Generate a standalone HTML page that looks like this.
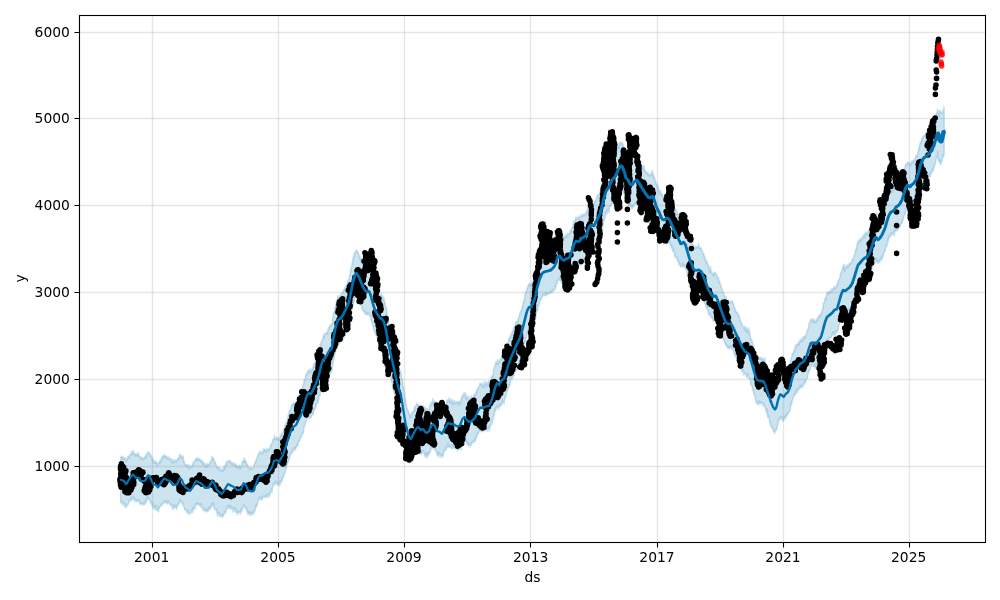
<!DOCTYPE html>
<html lang="en"><head><meta charset="utf-8"><title>Forecast plot</title>
<style>html,body{margin:0;padding:0;background:#fff;overflow:hidden}svg{display:block}</style>
</head><body>
<svg width="1000" height="600" viewBox="0 0 1000 600">
<rect width="1000" height="600" fill="#fff"/>
<path d="M120.7,456.9 121.0,457.3 121.2,456.7 121.5,456.1 121.7,456.7 122.0,456.2 122.2,457.5 122.5,459.2 122.7,457.1 123.0,457.0 123.2,458.5 123.5,458.4 123.7,458.2 124.0,457.1 124.2,458.5 124.5,459.8 124.7,457.8 125.0,459.3 125.2,458.0 125.5,459.1 125.7,458.9 126.0,461.1 126.2,459.7 126.5,461.2 126.7,460.7 127.0,459.9 127.2,456.7 127.5,458.6 127.7,458.8 128.0,458.6 128.2,456.2 128.4,457.1 128.7,456.1 128.9,455.9 129.2,457.8 129.4,455.1 129.7,455.6 129.9,456.4 130.2,454.3 130.4,454.5 130.7,454.5 130.9,454.1 131.2,452.3 131.4,453.6 131.7,454.8 131.9,451.0 132.2,453.6 132.4,452.4 132.7,451.2 132.9,454.2 133.2,452.8 133.4,450.7 133.7,452.5 133.9,453.4 134.2,452.8 134.4,454.2 134.7,453.6 134.9,454.7 135.2,456.0 135.4,453.7 135.7,455.1 135.9,454.5 136.2,455.3 136.4,453.7 136.7,454.4 136.9,454.8 137.2,456.1 137.4,456.4 137.7,453.4 137.9,454.0 138.2,455.7 138.4,452.5 138.7,454.3 138.9,454.8 139.2,456.7 139.4,456.4 139.7,455.6 139.9,456.0 140.2,456.5 140.4,459.1 140.7,457.2 140.9,457.7 141.2,458.6 141.4,458.1 141.7,458.0 141.9,456.9 142.2,458.2 142.4,457.7 142.7,459.6 142.9,459.0 143.2,458.2 143.4,459.0 143.7,457.8 143.9,459.5 144.2,458.2 144.4,458.9 144.7,456.7 144.9,458.5 145.2,455.7 145.4,454.9 145.7,456.4 145.9,455.2 146.2,456.0 146.4,458.0 146.7,453.8 146.9,453.6 147.2,454.0 147.4,453.9 147.7,452.6 147.9,452.2 148.2,453.3 148.4,453.3 148.7,451.7 148.9,453.1 149.2,453.4 149.4,452.4 149.7,454.2 149.9,453.2 150.2,455.8 150.4,455.5 150.7,455.9 150.9,455.7 151.2,456.9 151.4,455.2 151.7,456.8 151.9,459.2 152.2,456.8 152.4,460.9 152.7,458.4 152.9,461.9 153.2,460.2 153.4,462.3 153.7,461.6 153.9,459.7 154.2,463.1 154.4,463.4 154.7,461.7 154.9,461.5 155.2,461.7 155.4,460.8 155.7,463.4 155.9,461.6 156.2,462.4 156.4,461.8 156.7,462.4 156.9,461.9 157.2,465.3 157.4,463.9 157.7,465.6 157.9,464.6 158.2,463.6 158.4,463.7 158.7,463.1 158.9,463.4 159.2,462.5 159.4,462.2 159.7,460.5 159.9,460.8 160.2,463.4 160.4,460.2 160.7,459.4 160.9,460.7 161.2,461.6 161.4,457.8 161.7,458.9 161.9,458.0 162.2,456.2 162.4,458.9 162.7,457.6 162.9,457.3 163.2,455.9 163.4,457.0 163.7,455.4 163.9,455.6 164.2,454.4 164.4,454.4 164.7,457.6 164.9,455.5 165.2,456.6 165.4,456.3 165.7,456.0 165.9,456.0 166.2,457.5 166.4,456.5 166.7,456.9 166.9,457.2 167.2,458.7 167.4,458.2 167.7,457.9 167.9,456.8 168.2,455.9 168.4,458.8 168.7,458.9 168.9,457.7 169.2,458.6 169.4,459.0 169.7,459.1 169.9,459.3 170.2,457.9 170.4,460.6 170.7,457.6 170.9,460.5 171.2,460.4 171.4,461.2 171.7,462.7 171.9,462.6 172.2,459.8 172.4,459.4 172.7,462.8 172.9,460.8 173.2,462.1 173.4,463.1 173.7,460.1 173.9,459.5 174.2,462.3 174.4,462.0 174.7,461.7 174.9,462.0 175.2,460.8 175.4,460.0 175.7,461.6 175.9,460.6 176.2,459.7 176.4,462.3 176.7,461.6 176.9,462.0 177.2,460.0 177.4,459.9 177.7,458.9 177.9,458.5 178.2,459.3 178.4,457.6 178.7,458.4 178.9,457.8 179.2,459.3 179.4,454.7 179.7,456.9 179.9,455.4 180.2,455.4 180.4,453.9 180.7,455.3 180.9,457.0 181.2,456.3 181.4,456.7 181.7,456.6 181.9,458.6 182.2,457.7 182.4,455.6 182.7,458.0 182.9,457.1 183.2,456.1 183.4,459.9 183.7,462.8 183.9,461.8 184.2,460.9 184.4,461.8 184.7,464.9 184.9,464.2 185.2,464.4 185.4,464.4 185.7,464.7 185.9,465.8 186.2,465.7 186.4,465.4 186.7,464.1 186.9,466.1 187.2,464.8 187.4,467.1 187.7,464.5 187.9,466.0 188.2,466.4 188.4,465.1 188.7,469.0 188.9,468.9 189.2,466.8 189.4,468.6 189.7,468.4 189.9,464.9 190.2,468.2 190.4,467.5 190.7,467.4 190.9,465.6 191.2,466.3 191.4,466.1 191.7,467.4 191.9,466.0 192.2,465.3 192.4,466.8 192.7,463.9 192.9,463.8 193.2,461.6 193.4,465.2 193.7,464.0 193.9,463.4 194.2,462.6 194.4,461.4 194.7,461.1 194.9,460.0 195.2,459.6 195.4,459.4 195.7,460.6 195.9,459.1 196.2,458.3 196.4,457.7 196.7,457.8 196.9,460.6 197.2,459.4 197.4,459.0 197.7,458.6 197.9,457.8 198.2,459.1 198.4,460.4 198.7,459.0 198.9,459.3 199.2,459.4 199.4,460.0 199.7,458.1 199.9,459.8 200.2,459.2 200.4,461.4 200.7,459.6 200.9,461.3 201.2,462.6 201.4,460.5 201.7,460.3 201.9,461.4 202.2,461.5 202.4,460.6 202.7,462.7 202.9,464.9 203.2,462.5 203.4,462.9 203.7,462.2 203.9,464.2 204.2,462.6 204.4,463.1 204.7,466.3 204.9,464.0 205.2,466.5 205.4,467.0 205.7,465.4 205.9,465.8 206.2,467.4 206.4,464.8 206.7,464.3 206.9,463.4 207.2,465.0 207.4,466.7 207.7,466.1 207.9,463.8 208.2,463.9 208.4,464.2 208.7,465.2 208.9,464.5 209.2,464.6 209.4,464.2 209.7,462.9 209.9,462.7 210.2,462.4 210.4,461.5 210.7,461.7 210.9,462.8 211.2,460.7 211.4,459.5 211.7,456.8 211.9,458.9 212.2,456.1 212.4,457.0 212.7,459.9 212.9,460.0 213.2,459.2 213.4,457.6 213.7,459.5 213.9,459.4 214.2,461.4 214.4,464.0 214.7,462.1 214.9,461.5 215.2,461.6 215.4,463.5 215.7,464.0 215.9,463.4 216.2,465.5 216.4,464.5 216.7,467.8 216.9,468.3 217.2,468.6 217.4,467.0 217.7,468.4 217.9,467.8 218.2,467.7 218.4,468.0 218.7,467.0 218.9,467.0 219.2,469.9 219.4,468.9 219.7,469.6 219.9,470.8 220.2,467.7 220.4,469.0 220.7,470.4 220.9,470.8 221.2,470.1 221.4,472.0 221.7,471.2 221.9,469.6 222.2,469.7 222.4,471.4 222.7,470.6 222.9,467.3 223.2,470.8 223.4,469.5 223.7,470.0 223.9,467.5 224.2,467.2 224.4,465.8 224.7,469.7 224.9,466.1 225.2,467.8 225.4,464.7 225.7,465.2 225.9,462.6 226.2,463.7 226.4,465.0 226.7,461.9 226.9,464.2 227.2,462.9 227.4,460.9 227.7,461.1 227.9,460.8 228.2,461.3 228.4,460.8 228.7,460.6 228.9,461.3 229.2,460.6 229.4,460.4 229.7,462.0 229.9,463.3 230.2,460.5 230.4,462.5 230.7,461.9 230.9,461.6 231.2,463.9 231.4,462.4 231.7,464.9 231.9,462.3 232.2,463.8 232.4,463.2 232.7,462.7 232.9,464.4 233.2,463.6 233.4,464.7 233.7,464.0 233.9,462.9 234.2,464.3 234.4,464.7 234.7,466.1 234.9,464.1 235.2,465.4 235.4,463.6 235.7,466.7 235.9,464.9 236.2,464.2 236.4,466.6 236.7,468.2 236.9,465.3 237.2,465.9 237.4,466.3 237.7,465.8 237.9,467.6 238.2,466.1 238.4,466.2 238.7,467.7 238.9,466.1 239.2,467.5 239.4,465.8 239.7,465.5 239.9,464.7 240.2,469.1 240.4,466.5 240.7,467.1 240.9,466.6 241.2,466.5 241.4,465.7 241.7,467.3 241.9,463.1 242.2,461.9 242.4,461.9 242.7,460.9 242.9,462.7 243.2,462.2 243.4,459.5 243.7,458.7 243.9,460.1 244.2,462.4 244.4,457.5 244.7,461.7 244.9,460.0 245.2,462.8 245.4,460.4 245.7,461.6 245.9,460.4 246.2,461.6 246.4,465.1 246.7,465.1 246.9,464.3 247.2,464.4 247.4,463.8 247.7,466.3 247.9,467.3 248.2,467.5 248.4,467.6 248.7,466.4 248.9,467.7 249.2,467.8 249.4,469.5 249.7,470.2 249.9,467.9 250.2,467.2 250.4,468.1 250.7,467.5 250.9,467.4 251.2,468.3 251.4,467.2 251.7,469.2 251.9,468.4 252.2,468.9 252.4,468.4 252.7,467.9 252.9,467.5 253.2,468.0 253.4,467.0 253.7,467.3 253.9,466.4 254.2,464.1 254.4,465.2 254.7,462.9 254.9,463.1 255.2,462.9 255.4,460.1 255.7,462.1 255.9,461.5 256.2,460.5 256.4,459.5 256.7,458.9 256.9,457.5 257.2,457.7 257.4,456.7 257.7,456.8 257.9,454.6 258.2,455.6 258.4,454.8 258.7,453.8 258.9,452.9 259.2,453.9 259.4,451.1 259.7,453.7 259.9,453.4 260.2,453.4 260.4,453.5 260.7,452.2 260.9,452.6 261.2,453.7 261.4,453.4 261.7,453.1 261.9,451.0 262.2,453.3 262.4,453.8 262.7,453.4 262.9,452.3 263.2,449.9 263.4,452.7 263.7,451.1 263.9,448.1 264.2,451.3 264.4,448.9 264.7,448.9 264.9,449.5 265.2,451.7 265.4,449.7 265.7,450.4 265.9,452.2 266.2,451.9 266.4,449.9 266.7,449.7 266.9,448.4 267.2,449.0 267.4,450.3 267.7,450.3 267.9,449.9 268.2,450.9 268.4,448.8 268.7,449.6 268.9,450.4 269.2,449.9 269.4,450.1 269.7,448.8 269.9,447.5 270.2,447.9 270.4,445.8 270.7,444.6 270.9,446.8 271.2,445.6 271.4,445.6 271.7,442.7 271.9,443.8 272.2,442.9 272.4,441.8 272.7,439.4 272.9,440.9 273.2,441.7 273.4,440.3 273.7,438.4 273.9,438.5 274.2,439.1 274.4,434.7 274.7,437.8 274.9,438.5 275.2,438.6 275.4,439.8 275.7,439.0 275.9,437.9 276.2,437.8 276.4,438.3 276.7,436.7 276.9,437.2 277.2,438.5 277.4,440.0 277.7,437.7 277.9,438.1 278.2,438.6 278.4,440.3 278.7,438.9 278.9,440.8 279.2,437.7 279.4,438.2 279.7,437.7 279.9,438.5 280.2,438.4 280.4,434.9 280.7,435.1 280.9,436.2 281.2,434.6 281.4,433.1 281.7,435.7 281.9,434.6 282.2,434.2 282.4,432.6 282.7,434.0 282.9,431.9 283.2,432.9 283.4,429.8 283.7,429.1 283.9,429.6 284.2,427.8 284.4,428.7 284.7,427.4 284.9,425.2 285.2,425.7 285.4,424.4 285.7,425.2 285.9,422.6 286.2,422.0 286.4,423.2 286.7,423.6 286.9,422.4 287.2,419.3 287.4,418.6 287.7,419.4 287.9,416.6 288.2,414.7 288.4,415.2 288.7,414.7 288.9,412.4 289.2,410.7 289.4,410.3 289.7,412.1 289.9,409.8 290.2,409.8 290.4,409.6 290.7,409.4 290.9,407.6 291.2,407.9 291.4,405.6 291.7,405.6 291.9,404.2 292.2,406.4 292.4,404.8 292.7,403.8 292.9,404.1 293.2,404.0 293.4,405.0 293.7,402.0 293.9,402.5 294.2,403.1 294.4,406.4 294.7,404.3 294.9,402.9 295.2,403.7 295.4,405.1 295.7,402.1 295.9,401.7 296.2,403.2 296.4,401.9 296.7,401.6 296.9,399.7 297.2,402.1 297.4,401.4 297.7,399.5 297.9,399.1 298.2,395.4 298.4,398.1 298.7,396.6 298.9,396.8 299.2,396.6 299.4,394.9 299.7,392.8 299.9,394.7 300.2,392.9 300.4,392.9 300.7,392.1 300.9,391.9 301.2,388.9 301.4,392.5 301.7,390.8 301.9,391.2 302.2,391.6 302.4,388.6 302.7,385.8 302.9,386.2 303.2,384.9 303.4,384.8 303.7,384.5 303.9,381.0 304.2,382.8 304.4,379.6 304.7,380.8 304.9,379.3 305.2,378.1 305.4,377.5 305.7,376.1 305.9,375.1 306.2,373.0 306.4,374.1 306.7,375.5 306.9,374.9 307.2,373.6 307.4,372.6 307.7,370.7 307.9,373.0 308.2,370.9 308.4,370.7 308.7,370.2 308.9,370.4 309.2,369.8 309.4,370.3 309.7,369.2 309.9,370.2 310.2,373.5 310.4,370.8 310.7,370.8 310.9,371.7 311.2,371.6 311.4,369.0 311.7,369.6 311.9,370.4 312.2,369.1 312.4,368.4 312.7,369.7 312.9,366.5 313.2,366.9 313.4,365.7 313.7,367.6 313.9,362.9 314.2,363.9 314.4,363.5 314.7,364.4 314.9,363.7 315.2,364.1 315.4,359.9 315.7,362.1 315.9,360.3 316.2,359.3 316.4,360.1 316.7,357.8 316.9,355.8 317.2,357.1 317.4,355.1 317.7,355.3 317.9,355.8 318.2,355.0 318.4,355.8 318.7,352.9 318.9,350.4 319.2,350.4 319.4,349.1 319.7,347.6 319.9,348.4 320.2,346.0 320.4,343.3 320.7,345.4 320.9,343.4 321.2,343.0 321.4,342.0 321.7,341.9 321.9,340.4 322.2,341.1 322.4,339.4 322.7,338.6 322.9,337.9 323.2,335.3 323.4,336.6 323.7,336.2 323.9,336.5 324.2,334.4 324.4,337.7 324.7,335.6 324.9,333.8 325.2,332.9 325.4,334.4 325.7,334.4 325.9,333.3 326.2,333.9 326.4,332.5 326.7,333.5 326.9,331.4 327.2,331.8 327.4,332.5 327.7,333.9 327.9,329.1 328.2,329.2 328.4,328.3 328.7,329.7 328.9,327.0 329.2,327.4 329.4,327.7 329.7,326.3 329.9,326.1 330.2,326.4 330.4,324.2 330.7,324.8 330.9,325.8 331.2,326.2 331.4,325.5 331.7,323.4 331.9,324.3 332.2,324.5 332.4,322.3 332.7,319.5 332.9,316.7 333.2,317.1 333.4,314.4 333.7,312.5 333.9,311.8 334.2,313.3 334.4,310.7 334.7,310.7 334.9,307.5 335.2,308.1 335.4,305.0 335.7,304.4 335.9,306.5 336.2,303.5 336.4,301.2 336.7,301.0 336.9,300.7 337.2,301.1 337.4,298.3 337.7,296.0 337.9,297.1 338.2,297.1 338.4,297.0 338.7,298.3 338.9,296.9 339.2,297.4 339.4,294.9 339.7,297.1 339.9,298.4 340.2,296.7 340.4,295.9 340.7,295.6 340.9,297.3 341.2,293.8 341.4,294.4 341.7,294.7 341.9,294.7 342.2,292.9 342.4,293.4 342.7,292.3 342.9,292.4 343.2,291.6 343.4,289.9 343.7,290.8 343.9,291.4 344.2,288.6 344.4,289.0 344.7,289.6 344.9,287.0 345.2,288.0 345.4,286.0 345.7,288.2 345.9,289.1 346.2,288.2 346.4,284.9 346.7,285.5 346.9,284.1 347.2,283.5 347.4,284.7 347.7,280.7 347.9,282.9 348.2,281.0 348.4,282.2 348.7,280.1 348.9,278.4 349.2,278.5 349.4,277.8 349.7,275.7 349.9,275.0 350.2,272.6 350.4,269.4 350.7,271.8 350.9,270.3 351.2,268.4 351.4,267.0 351.7,266.9 351.9,263.9 352.2,262.4 352.4,261.7 352.7,262.1 352.9,257.9 353.2,259.9 353.4,256.9 353.7,255.4 353.9,257.4 354.2,254.9 354.4,252.6 354.7,252.8 354.9,253.6 355.2,253.4 355.4,251.0 355.7,251.7 355.9,251.7 356.2,249.7 356.4,250.9 356.7,250.6 356.9,250.4 357.2,250.8 357.4,251.9 357.7,252.2 357.9,251.9 358.2,252.5 358.4,254.7 358.7,254.0 358.9,255.2 359.2,256.2 359.4,256.0 359.7,258.7 359.9,255.6 360.2,258.2 360.4,257.4 360.7,260.7 360.9,261.1 361.2,257.4 361.4,259.2 361.7,261.7 361.9,262.5 362.2,263.1 362.4,262.7 362.7,264.0 362.9,264.8 363.2,264.4 363.4,266.1 363.7,262.6 363.9,266.4 364.2,264.8 364.4,267.6 364.7,266.5 364.9,266.1 365.2,268.0 365.4,266.8 365.7,267.1 365.9,266.5 366.2,268.5 366.4,269.2 366.7,270.0 366.9,268.7 367.2,270.3 367.4,269.1 367.7,269.0 367.9,269.6 368.2,270.0 368.4,268.2 368.7,268.1 368.9,268.2 369.2,268.8 369.4,268.2 369.7,271.2 369.9,270.1 370.2,271.8 370.4,270.8 370.7,272.9 370.9,273.6 371.2,273.5 371.4,277.4 371.7,276.4 371.9,279.1 372.2,279.2 372.4,278.2 372.7,279.5 372.9,281.5 373.2,281.9 373.4,282.6 373.7,283.0 373.9,281.9 374.2,284.5 374.4,282.9 374.7,286.7 374.9,286.1 375.2,286.7 375.4,287.7 375.7,288.7 375.9,287.1 376.2,287.1 376.4,288.3 376.7,287.6 376.9,289.3 377.2,292.8 377.4,290.0 377.7,292.5 377.9,290.5 378.2,292.9 378.4,292.5 378.7,293.2 378.9,294.3 379.2,296.1 379.4,294.6 379.7,294.9 379.9,293.9 380.2,296.0 380.4,295.1 380.7,296.5 380.9,295.6 381.2,297.9 381.4,293.5 381.7,295.7 381.9,297.3 382.2,296.1 382.4,295.9 382.7,296.9 382.9,296.0 383.2,298.1 383.4,301.3 383.7,300.1 383.9,297.9 384.2,299.0 384.4,300.5 384.7,303.2 384.9,302.0 385.2,303.2 385.4,306.1 385.7,307.0 385.9,306.7 386.2,307.1 386.4,308.0 386.7,310.6 386.9,310.2 387.2,315.3 387.4,315.1 387.7,318.0 387.9,321.1 388.2,321.5 388.4,319.8 388.7,323.3 388.9,324.8 389.2,323.6 389.4,324.4 389.7,326.5 389.9,325.9 390.2,330.6 390.4,327.1 390.7,329.8 390.9,331.9 391.2,333.0 391.4,334.6 391.7,335.8 391.9,336.3 392.2,339.0 392.4,336.2 392.7,339.9 392.9,340.1 393.2,342.3 393.4,343.6 393.7,343.4 393.9,344.9 394.2,347.8 394.4,348.4 394.7,348.3 394.9,352.7 395.2,354.2 395.4,350.9 395.7,354.2 395.9,357.9 396.2,356.9 396.4,357.3 396.7,357.8 396.9,358.4 397.2,359.7 397.4,360.3 397.7,362.9 397.9,362.5 398.2,363.5 398.4,363.6 398.7,365.9 398.9,365.9 399.2,367.5 399.4,369.6 399.7,369.4 399.9,370.2 400.2,370.6 400.4,370.9 400.7,371.3 400.9,371.9 401.2,374.5 401.4,373.8 401.7,378.4 401.9,378.4 402.2,379.1 402.4,381.0 402.7,382.4 402.9,385.0 403.2,385.5 403.4,389.3 403.7,388.5 403.9,388.2 404.2,391.5 404.4,391.5 404.7,395.4 404.9,398.2 405.2,399.2 405.4,398.3 405.7,400.5 405.9,404.9 406.2,404.3 406.4,404.9 406.7,407.0 406.9,409.6 407.2,409.2 407.4,408.7 407.7,409.9 407.9,411.1 408.2,410.5 408.4,410.9 408.7,413.2 408.9,412.7 409.2,414.3 409.4,414.8 409.7,417.7 409.9,414.1 410.2,415.3 410.4,415.5 410.7,416.4 410.9,417.3 411.2,415.2 411.4,414.3 411.7,412.8 411.9,413.2 412.2,414.4 412.4,413.4 412.7,411.6 412.9,411.9 413.2,411.8 413.4,411.9 413.7,410.1 413.9,410.0 414.2,407.6 414.4,407.9 414.7,410.7 414.9,405.7 415.2,407.4 415.4,407.6 415.7,406.4 415.9,405.4 416.2,405.9 416.4,405.7 416.7,405.4 416.9,403.0 417.2,404.8 417.4,403.7 417.7,403.8 417.9,404.6 418.2,405.2 418.4,405.7 418.7,404.3 418.9,406.3 419.2,406.8 419.4,407.0 419.7,407.6 419.9,406.0 420.2,406.2 420.4,407.6 420.7,405.3 420.9,407.3 421.2,406.4 421.4,406.5 421.7,404.8 421.9,405.7 422.2,406.6 422.4,407.5 422.7,407.5 422.9,406.2 423.2,406.3 423.4,405.8 423.7,407.6 423.9,407.2 424.2,408.5 424.4,410.2 424.7,408.4 424.9,407.0 425.2,408.1 425.4,407.7 425.7,408.4 425.9,411.6 426.2,410.4 426.4,408.2 426.7,410.7 426.9,411.3 427.2,409.2 427.4,408.7 427.7,409.0 427.9,409.6 428.2,409.9 428.4,410.5 428.7,410.4 428.9,410.1 429.2,409.8 429.4,408.3 429.7,405.0 429.9,406.0 430.2,405.8 430.4,404.3 430.7,405.1 430.9,403.0 431.2,401.9 431.4,404.5 431.7,403.3 431.9,402.5 432.2,403.1 432.4,403.0 432.7,401.9 432.9,398.4 433.2,400.6 433.4,401.1 433.7,400.7 433.9,402.4 434.2,403.8 434.4,402.1 434.7,401.5 434.9,405.7 435.2,403.2 435.4,402.8 435.7,405.2 435.9,406.1 436.2,405.4 436.4,407.8 436.7,406.9 436.9,406.9 437.2,408.5 437.4,409.3 437.7,407.7 437.9,408.9 438.2,408.5 438.4,412.1 438.7,407.9 438.9,410.5 439.2,408.9 439.4,408.9 439.7,410.0 439.9,410.3 440.2,410.9 440.4,410.0 440.7,409.2 440.9,409.5 441.2,411.0 441.4,411.3 441.7,412.6 441.9,411.5 442.2,412.0 442.4,412.1 442.7,410.0 442.9,407.5 443.2,407.4 443.4,406.6 443.7,409.7 443.9,406.3 444.2,408.3 444.4,407.0 444.7,407.9 444.9,406.5 445.2,404.7 445.4,404.2 445.7,404.1 445.9,403.8 446.2,402.6 446.4,402.7 446.7,404.3 446.9,399.9 447.2,401.8 447.4,400.0 447.7,400.9 447.9,401.4 448.2,400.2 448.4,401.3 448.7,398.5 448.9,401.8 449.2,399.9 449.4,401.4 449.7,401.0 449.9,397.7 450.2,400.0 450.4,401.3 450.7,403.0 450.9,401.5 451.2,401.5 451.4,399.6 451.7,403.0 451.9,403.5 452.2,401.4 452.4,401.1 452.7,399.5 452.9,402.5 453.2,404.7 453.4,402.4 453.7,403.1 453.9,402.3 454.2,400.6 454.4,403.5 454.7,400.6 454.9,402.0 455.2,402.7 455.4,403.6 455.7,403.2 455.9,403.4 456.2,402.2 456.4,401.7 456.7,403.5 456.9,402.7 457.2,402.0 457.4,402.0 457.7,402.8 457.9,401.1 458.2,401.7 458.4,401.3 458.7,403.4 458.9,403.6 459.2,405.4 459.4,401.1 459.7,402.1 459.9,403.8 460.2,402.0 460.4,401.2 460.7,402.9 460.9,399.8 461.2,398.1 461.4,397.2 461.7,398.5 461.9,397.8 462.2,395.1 462.4,395.1 462.7,396.5 462.9,396.3 463.2,394.6 463.4,395.9 463.7,395.6 463.9,392.5 464.2,394.1 464.4,394.9 464.7,393.9 464.9,392.3 465.2,394.8 465.4,396.3 465.7,397.6 465.9,393.4 466.2,399.4 466.4,395.2 466.7,398.0 466.9,398.6 467.2,398.6 467.4,397.8 467.7,396.5 467.9,398.9 468.2,397.5 468.4,395.6 468.7,402.3 468.9,399.9 469.2,401.3 469.4,398.0 469.7,400.7 469.9,400.8 470.2,400.7 470.4,398.7 470.7,397.2 470.9,398.3 471.2,395.8 471.4,396.3 471.7,398.4 471.9,397.0 472.2,397.8 472.4,397.6 472.7,399.8 472.9,398.8 473.2,396.9 473.4,398.2 473.7,395.6 473.9,395.8 474.2,397.1 474.4,394.3 474.7,395.2 474.9,393.6 475.2,394.9 475.4,396.1 475.7,392.7 475.9,393.3 476.2,391.3 476.4,390.4 476.7,389.8 476.9,392.4 477.2,392.9 477.4,390.1 477.7,388.0 477.9,389.2 478.2,387.5 478.4,388.4 478.7,387.4 478.9,386.9 479.2,386.9 479.4,385.0 479.7,384.8 479.9,382.9 480.2,384.3 480.4,383.2 480.7,384.7 480.9,383.8 481.2,385.1 481.4,385.5 481.7,383.3 481.9,384.1 482.2,384.0 482.4,386.0 482.7,387.2 482.9,386.2 483.2,384.7 483.4,386.7 483.7,383.0 483.9,386.5 484.2,383.8 484.4,381.1 484.7,387.5 484.9,386.1 485.2,382.8 485.4,384.1 485.7,383.5 485.9,383.8 486.2,381.8 486.4,382.7 486.7,384.1 486.9,383.7 487.2,384.9 487.4,383.5 487.7,386.2 487.9,382.5 488.2,383.6 488.4,381.0 488.7,381.7 488.9,384.7 489.2,381.6 489.4,382.9 489.7,381.7 489.9,380.0 490.2,380.4 490.4,379.7 490.7,379.2 490.9,380.2 491.2,379.4 491.4,377.2 491.7,376.0 491.9,376.7 492.2,375.5 492.4,376.1 492.7,377.3 492.9,374.3 493.2,372.3 493.4,371.2 493.7,369.4 493.9,368.3 494.2,367.2 494.4,366.9 494.7,365.9 494.9,366.4 495.2,364.2 495.4,363.8 495.7,362.0 495.9,364.8 496.2,362.8 496.4,363.7 496.7,361.9 496.9,362.3 497.2,360.1 497.4,361.5 497.7,364.1 497.9,359.7 498.2,362.8 498.4,363.7 498.7,362.4 498.9,362.9 499.2,363.4 499.4,360.6 499.7,361.5 499.9,359.6 500.2,359.4 500.4,359.0 500.7,359.2 500.9,359.1 501.2,359.1 501.4,356.4 501.7,360.1 501.9,358.8 502.2,358.0 502.4,356.5 502.7,356.7 502.9,357.4 503.2,357.1 503.4,354.4 503.7,357.3 503.9,359.7 504.2,353.3 504.4,356.1 504.7,354.6 504.9,353.2 505.2,354.3 505.4,350.4 505.7,351.3 505.9,352.1 506.2,349.3 506.4,348.1 506.7,347.9 506.9,346.3 507.2,347.9 507.4,344.0 507.7,345.3 507.9,341.9 508.2,343.4 508.4,341.7 508.7,337.9 508.9,340.3 509.2,338.3 509.4,338.3 509.7,340.0 509.9,336.0 510.2,335.4 510.4,337.9 510.7,335.7 510.9,336.9 511.2,334.8 511.4,332.7 511.7,333.2 511.9,334.2 512.2,333.2 512.5,331.5 512.7,331.0 513.0,330.2 513.2,329.0 513.5,331.5 513.7,328.6 514.0,326.6 514.2,326.8 514.5,327.7 514.7,327.0 515.0,325.5 515.2,324.2 515.5,324.5 515.7,321.8 516.0,321.7 516.2,323.8 516.5,321.7 516.7,322.3 517.0,322.8 517.2,321.6 517.5,320.3 517.7,322.4 518.0,320.1 518.2,318.4 518.5,319.2 518.7,318.3 519.0,316.2 519.2,316.8 519.5,315.9 519.7,313.0 520.0,314.6 520.2,313.9 520.5,313.0 520.7,310.9 521.0,311.8 521.2,311.3 521.5,310.5 521.7,308.0 522.0,309.2 522.2,305.9 522.5,306.1 522.7,307.0 523.0,303.5 523.2,302.8 523.5,303.7 523.7,300.9 524.0,300.0 524.2,299.7 524.5,299.7 524.7,294.7 525.0,295.4 525.2,294.2 525.5,293.1 525.7,292.3 526.0,291.4 526.2,291.8 526.5,289.3 526.7,289.6 527.0,289.0 527.2,286.9 527.5,287.5 527.7,288.8 528.0,286.7 528.2,285.0 528.5,285.2 528.7,283.7 529.0,284.7 529.2,285.3 529.5,283.3 529.7,284.2 530.0,285.8 530.2,283.9 530.5,284.9 530.7,283.5 531.0,283.7 531.2,283.7 531.5,286.4 531.7,282.7 532.0,282.0 532.2,281.4 532.5,281.3 532.7,281.7 533.0,280.5 533.2,282.2 533.5,279.3 533.7,280.2 534.0,278.2 534.2,277.9 534.5,274.8 534.7,275.8 535.0,275.1 535.2,273.9 535.5,270.4 535.7,272.8 536.0,270.0 536.2,268.7 536.5,267.6 536.7,266.4 537.0,266.0 537.2,263.0 537.5,262.6 537.7,263.2 538.0,262.2 538.2,260.7 538.5,259.7 538.7,258.5 539.0,258.6 539.2,259.3 539.5,255.8 539.7,258.0 540.0,256.4 540.2,254.3 540.5,255.2 540.7,252.0 541.0,251.1 541.2,251.2 541.5,251.7 541.7,251.3 542.0,250.5 542.2,250.8 542.5,247.7 542.7,250.6 543.0,248.2 543.2,249.0 543.5,249.1 543.7,248.1 544.0,247.7 544.2,248.0 544.5,249.1 544.7,249.7 545.0,249.5 545.2,247.6 545.5,247.8 545.7,247.6 546.0,249.1 546.2,246.1 546.5,250.0 546.7,247.9 547.0,247.5 547.2,248.8 547.5,249.5 547.7,248.7 548.0,249.5 548.2,248.3 548.5,249.5 548.7,249.5 549.0,247.8 549.2,249.5 549.5,247.9 549.7,247.7 550.0,246.4 550.2,247.1 550.5,248.3 550.7,245.7 551.0,248.0 551.2,247.4 551.5,247.1 551.7,243.9 552.0,246.1 552.2,246.8 552.5,244.8 552.7,245.6 553.0,242.4 553.2,245.8 553.5,244.0 553.7,245.5 554.0,242.0 554.2,244.6 554.5,243.0 554.7,243.8 555.0,241.2 555.2,241.1 555.5,244.0 555.7,239.8 556.0,239.4 556.2,239.1 556.5,237.3 556.7,239.0 557.0,238.7 557.2,234.9 557.5,232.8 557.7,235.7 558.0,235.3 558.2,234.8 558.5,235.0 558.7,232.4 559.0,233.1 559.2,231.4 559.5,231.3 559.7,234.2 560.0,232.6 560.2,236.6 560.5,234.3 560.7,233.9 561.0,236.1 561.2,237.7 561.5,236.5 561.7,234.8 562.0,236.9 562.2,238.3 562.5,236.2 562.7,236.0 563.0,238.4 563.2,237.5 563.5,236.1 563.7,237.0 564.0,236.5 564.2,237.6 564.5,237.2 564.7,238.3 565.0,237.7 565.2,234.8 565.5,237.0 565.7,237.5 566.0,236.8 566.2,237.4 566.5,235.4 566.7,234.8 567.0,237.0 567.2,234.5 567.5,233.1 567.7,236.9 568.0,234.7 568.2,235.1 568.5,233.7 568.7,233.7 569.0,233.7 569.2,234.3 569.5,234.6 569.7,230.8 570.0,233.9 570.2,231.0 570.5,230.6 570.7,232.1 571.0,230.6 571.2,228.3 571.5,231.7 571.7,227.8 572.0,228.3 572.2,227.4 572.5,228.1 572.7,225.0 573.0,225.9 573.2,223.0 573.5,224.4 573.7,221.3 574.0,221.0 574.2,223.2 574.5,220.9 574.7,220.3 575.0,222.5 575.2,219.8 575.5,218.0 575.7,219.5 576.0,216.9 576.2,219.6 576.5,219.7 576.7,217.7 577.0,217.6 577.2,218.7 577.5,218.5 577.7,217.4 578.0,219.3 578.2,216.2 578.5,218.2 578.7,218.3 579.0,218.4 579.2,218.9 579.5,216.8 579.7,218.6 580.0,217.4 580.2,216.5 580.5,215.4 580.7,215.3 581.0,216.8 581.2,214.9 581.5,215.9 581.7,216.8 582.0,216.6 582.2,217.1 582.5,214.7 582.7,213.7 583.0,216.0 583.2,215.0 583.5,215.9 583.7,214.4 584.0,215.7 584.2,215.0 584.5,214.7 584.7,214.2 585.0,213.9 585.2,213.5 585.5,213.3 585.7,214.0 586.0,212.0 586.2,214.4 586.5,211.8 586.7,212.5 587.0,210.4 587.2,209.4 587.5,211.4 587.7,207.8 588.0,205.9 588.2,205.8 588.5,205.5 588.7,207.7 589.0,204.7 589.2,205.1 589.5,202.5 589.7,203.9 590.0,204.1 590.2,205.2 590.5,201.9 590.7,203.2 591.0,202.7 591.2,201.1 591.5,202.3 591.7,202.1 592.0,199.7 592.2,203.3 592.5,203.3 592.7,202.2 593.0,201.2 593.2,204.7 593.5,203.3 593.7,204.3 594.0,204.8 594.2,202.1 594.5,203.3 594.7,201.5 595.0,201.2 595.2,200.7 595.5,200.3 595.7,201.1 596.0,199.4 596.2,198.6 596.5,198.0 596.7,198.2 597.0,196.2 597.2,196.2 597.5,196.2 597.7,195.1 598.0,195.2 598.2,194.1 598.5,196.7 598.7,195.4 599.0,193.8 599.2,192.7 599.5,194.9 599.7,192.2 600.0,191.1 600.2,190.7 600.5,189.8 600.7,190.1 601.0,187.4 601.2,188.9 601.5,184.3 601.7,185.2 602.0,182.2 602.2,184.6 602.5,181.0 602.7,180.3 603.0,180.5 603.2,179.9 603.5,176.1 603.7,176.0 604.0,173.8 604.2,174.7 604.5,173.5 604.7,172.3 605.0,171.1 605.2,170.5 605.5,169.2 605.7,169.9 606.0,170.3 606.2,165.6 606.5,167.5 606.7,166.8 607.0,167.5 607.2,165.5 607.5,166.1 607.7,164.7 608.0,166.4 608.2,165.4 608.5,164.7 608.7,165.0 609.0,163.9 609.2,161.9 609.5,163.9 609.7,162.9 610.0,161.8 610.2,162.6 610.5,162.3 610.7,158.9 611.0,158.7 611.2,160.9 611.5,160.2 611.7,157.0 612.0,156.0 612.2,156.3 612.5,156.2 612.7,154.6 613.0,156.3 613.2,154.5 613.5,154.3 613.7,156.6 614.0,154.4 614.2,154.9 614.5,155.5 614.7,155.5 615.0,153.8 615.2,153.8 615.5,152.2 615.7,154.7 616.0,152.8 616.2,150.1 616.5,150.8 616.7,151.1 617.0,150.2 617.2,151.3 617.5,150.1 617.7,147.3 618.0,147.2 618.2,145.3 618.5,146.7 618.7,146.1 619.0,148.7 619.2,145.2 619.5,142.1 619.7,143.3 620.0,143.9 620.2,142.1 620.5,142.5 620.7,143.0 621.0,143.8 621.2,143.2 621.5,142.2 621.7,144.2 622.0,142.7 622.2,143.1 622.5,142.7 622.7,144.0 623.0,146.4 623.2,144.3 623.5,146.7 623.7,148.3 624.0,147.7 624.2,149.2 624.5,148.4 624.7,152.2 625.0,152.8 625.2,152.7 625.5,151.2 625.7,152.9 626.0,156.1 626.2,157.4 626.5,156.0 626.7,157.4 627.0,155.4 627.2,156.2 627.5,156.7 627.7,157.4 628.0,155.4 628.2,158.7 628.5,159.7 628.7,157.2 629.0,157.5 629.2,160.0 629.5,159.3 629.7,157.8 630.0,162.0 630.2,161.5 630.5,160.9 630.7,164.1 631.0,161.8 631.2,160.9 631.5,162.0 631.7,160.8 632.0,161.2 632.2,162.3 632.5,160.9 632.7,160.6 633.0,162.8 633.2,161.4 633.5,161.0 633.7,160.3 634.0,159.9 634.2,160.8 634.5,158.9 634.7,161.0 635.0,157.4 635.2,158.1 635.5,156.6 635.7,157.7 636.0,158.5 636.2,159.5 636.5,156.8 636.7,157.4 637.0,156.9 637.2,156.6 637.5,156.4 637.7,158.3 638.0,156.5 638.2,159.1 638.5,159.4 638.7,159.0 639.0,158.9 639.2,158.9 639.5,163.2 639.7,159.8 640.0,163.7 640.2,162.9 640.5,162.2 640.7,161.6 641.0,164.7 641.2,165.9 641.5,163.2 641.7,164.3 642.0,166.4 642.2,165.9 642.5,168.3 642.7,165.7 643.0,167.4 643.2,165.7 643.5,170.1 643.7,167.2 644.0,165.8 644.2,168.7 644.5,169.1 644.7,172.0 645.0,169.7 645.2,170.4 645.5,171.5 645.7,173.0 646.0,171.4 646.2,173.0 646.5,172.8 646.7,172.1 647.0,172.9 647.2,173.2 647.5,172.4 647.7,175.3 648.0,172.4 648.2,175.7 648.5,175.6 648.7,174.4 649.0,173.8 649.2,174.5 649.5,175.5 649.7,175.9 650.0,175.5 650.2,176.2 650.5,174.2 650.7,174.9 651.0,172.5 651.2,175.1 651.5,174.2 651.7,173.3 652.0,175.0 652.2,174.2 652.5,170.0 652.7,173.8 653.0,172.5 653.2,176.0 653.5,178.2 653.7,175.0 654.0,176.3 654.2,176.6 654.5,178.2 654.7,179.4 655.0,181.1 655.2,179.2 655.5,183.2 655.7,181.0 656.0,183.3 656.2,185.0 656.5,185.0 656.7,183.5 657.0,184.3 657.2,185.0 657.5,186.0 657.7,188.0 658.0,185.5 658.2,188.2 658.5,188.8 658.7,189.3 659.0,189.7 659.2,191.5 659.5,190.8 659.7,191.9 660.0,192.1 660.2,194.2 660.5,190.3 660.7,194.7 661.0,193.4 661.2,194.0 661.5,193.8 661.7,193.3 662.0,195.5 662.2,195.5 662.5,197.0 662.7,194.8 663.0,198.4 663.2,197.1 663.5,196.6 663.7,196.2 664.0,196.2 664.2,195.7 664.5,196.2 664.7,196.7 665.0,196.4 665.2,194.7 665.5,195.9 665.7,195.0 666.0,196.1 666.2,198.0 666.5,196.3 666.7,195.0 667.0,193.3 667.2,193.6 667.5,193.4 667.7,196.4 668.0,194.8 668.2,195.9 668.5,195.2 668.7,196.2 669.0,197.9 669.2,195.8 669.5,196.7 669.7,196.6 670.0,199.1 670.2,197.4 670.5,197.7 670.7,197.9 671.0,198.4 671.2,201.2 671.5,204.2 671.7,200.4 672.0,203.3 672.2,203.0 672.5,201.9 672.7,203.4 673.0,204.1 673.2,204.1 673.5,207.8 673.7,203.7 674.0,207.0 674.2,207.5 674.5,207.0 674.7,208.5 675.0,209.9 675.2,209.6 675.5,210.5 675.7,211.4 676.0,208.6 676.2,213.4 676.5,214.8 676.7,213.8 677.0,214.3 677.2,211.9 677.5,214.0 677.7,213.6 678.0,214.4 678.2,216.8 678.5,215.1 678.7,216.4 679.0,214.8 679.2,217.4 679.5,218.2 679.7,217.8 680.0,218.2 680.2,221.9 680.5,218.6 680.7,219.3 681.0,220.0 681.2,222.5 681.5,223.4 681.7,221.1 682.0,219.6 682.2,219.8 682.5,221.4 682.7,218.8 683.0,221.4 683.2,221.2 683.5,219.5 683.7,220.2 684.0,220.6 684.2,222.0 684.5,219.2 684.7,222.3 685.0,220.8 685.2,220.7 685.5,222.1 685.7,222.4 686.0,222.2 686.2,222.4 686.5,224.0 686.7,227.8 687.0,229.3 687.2,228.6 687.5,230.1 687.7,228.9 688.0,230.3 688.2,231.6 688.5,230.9 688.7,231.9 689.0,234.0 689.2,234.4 689.5,234.4 689.7,236.9 690.0,236.8 690.2,238.9 690.5,238.3 690.7,238.6 691.0,239.7 691.2,240.0 691.5,240.0 691.7,241.0 692.0,243.1 692.2,243.7 692.5,245.1 692.7,242.2 693.0,244.5 693.2,245.2 693.5,246.5 693.7,246.2 694.0,246.3 694.2,247.9 694.5,247.3 694.7,245.8 695.0,248.9 695.2,248.5 695.5,246.7 695.7,248.5 696.0,246.7 696.2,248.9 696.5,247.3 696.7,246.5 697.0,247.0 697.2,246.5 697.5,247.6 697.7,247.6 698.0,247.4 698.2,246.6 698.5,242.9 698.7,247.4 699.0,245.0 699.2,247.7 699.5,248.9 699.7,248.1 700.0,247.5 700.2,247.9 700.5,248.2 700.7,247.8 701.0,248.0 701.2,247.8 701.5,250.6 701.7,249.5 702.0,251.2 702.2,250.4 702.5,251.4 702.7,251.7 703.0,253.1 703.2,254.2 703.5,254.1 703.7,253.6 704.0,254.1 704.2,257.7 704.5,256.0 704.7,256.6 705.0,259.3 705.2,259.5 705.5,259.5 705.7,259.0 706.0,262.9 706.2,261.2 706.5,262.0 706.7,261.9 707.0,261.2 707.2,262.1 707.5,265.0 707.7,265.7 708.0,265.7 708.2,265.1 708.5,265.2 708.7,267.0 709.0,266.0 709.2,269.3 709.5,270.0 709.7,272.4 710.0,270.5 710.2,269.2 710.5,269.2 710.7,266.6 711.0,270.4 711.2,271.3 711.5,273.0 711.7,273.0 712.0,273.3 712.2,273.3 712.5,274.2 712.7,275.5 713.0,272.7 713.2,273.5 713.5,272.3 713.7,275.8 714.0,275.2 714.2,274.5 714.5,272.0 714.7,273.5 715.0,272.9 715.2,273.1 715.5,272.7 715.7,273.7 716.0,273.1 716.2,275.1 716.5,275.0 716.7,274.9 717.0,275.6 717.2,275.8 717.5,277.9 717.7,277.2 718.0,278.6 718.2,278.5 718.5,277.9 718.7,281.5 719.0,279.9 719.2,282.7 719.5,283.1 719.7,281.3 720.0,282.9 720.2,284.1 720.5,284.4 720.7,284.6 721.0,287.6 721.2,287.1 721.5,288.5 721.7,288.2 722.0,289.8 722.2,289.2 722.5,290.7 722.7,292.1 723.0,292.1 723.2,292.2 723.5,292.1 723.7,294.3 724.0,295.2 724.2,295.1 724.5,295.2 724.7,297.4 725.0,300.4 725.2,297.8 725.5,299.2 725.7,299.7 726.0,296.4 726.2,299.8 726.5,299.1 726.7,301.8 727.0,300.0 727.2,299.6 727.5,300.5 727.7,301.1 728.0,300.4 728.2,301.1 728.5,299.5 728.7,300.8 729.0,302.0 729.2,303.4 729.5,301.9 729.7,301.3 730.0,302.4 730.2,302.1 730.5,302.9 730.7,302.1 731.0,300.8 731.2,301.5 731.5,301.8 731.7,302.4 732.0,302.7 732.2,301.9 732.5,300.7 732.7,302.9 733.0,301.7 733.2,304.8 733.5,305.3 733.7,303.8 734.0,307.2 734.2,308.0 734.5,307.7 734.7,310.2 735.0,311.0 735.2,307.9 735.5,311.2 735.7,311.0 736.0,311.6 736.2,312.7 736.5,311.2 736.7,311.9 737.0,312.1 737.2,312.7 737.5,314.0 737.7,312.9 738.0,313.8 738.2,316.3 738.5,316.0 738.7,317.1 739.0,314.8 739.2,316.7 739.5,317.6 739.7,318.9 740.0,318.7 740.2,321.1 740.5,320.5 740.7,321.2 741.0,321.8 741.2,323.2 741.5,322.4 741.7,324.8 742.0,324.6 742.2,324.7 742.5,325.0 742.7,326.0 743.0,327.0 743.2,327.3 743.5,327.1 743.7,328.1 744.0,327.6 744.2,329.4 744.5,328.1 744.7,325.9 745.0,330.2 745.2,328.9 745.5,327.5 745.7,328.8 746.0,328.2 746.2,331.9 746.5,330.1 746.7,327.8 747.0,330.5 747.2,329.5 747.5,332.5 747.7,329.1 748.0,327.8 748.2,330.8 748.5,330.4 748.7,330.5 749.0,328.7 749.2,332.4 749.5,334.8 749.7,331.4 750.0,335.9 750.2,334.7 750.5,339.1 750.7,337.7 751.0,337.8 751.2,340.2 751.5,340.4 751.7,339.9 752.0,342.4 752.2,341.8 752.5,341.1 752.7,346.6 753.0,344.6 753.2,345.2 753.5,347.2 753.7,345.8 754.0,346.9 754.2,348.8 754.5,349.7 754.7,351.2 755.0,353.3 755.2,352.1 755.5,353.9 755.7,354.7 756.0,353.3 756.2,355.5 756.5,354.7 756.7,357.7 757.0,357.5 757.2,357.3 757.5,355.7 757.7,357.6 758.0,356.6 758.2,358.4 758.5,357.5 758.7,356.8 759.0,359.0 759.2,358.8 759.5,357.3 759.7,359.5 760.0,357.8 760.2,357.8 760.5,358.3 760.7,357.3 761.0,357.7 761.2,358.0 761.5,360.0 761.7,360.0 762.0,357.9 762.2,360.1 762.5,358.1 762.7,358.7 763.0,359.3 763.2,358.9 763.5,361.8 763.7,359.5 764.0,358.2 764.2,361.6 764.5,359.9 764.7,360.4 765.0,357.6 765.2,363.0 765.5,363.5 765.7,364.3 766.0,365.2 766.2,366.8 766.5,365.5 766.7,367.4 767.0,366.2 767.2,367.4 767.5,369.8 767.7,369.8 768.0,368.4 768.2,371.2 768.5,371.3 768.7,371.3 769.0,373.6 769.2,373.3 769.5,372.7 769.7,374.0 770.0,378.2 770.2,375.0 770.5,377.8 770.7,379.0 771.0,379.8 771.2,378.2 771.5,379.9 771.7,381.1 772.0,382.5 772.2,381.4 772.5,381.4 772.7,384.7 773.0,385.3 773.2,384.9 773.5,384.1 773.7,385.6 774.0,385.6 774.2,386.8 774.5,384.6 774.7,386.5 775.0,386.4 775.2,385.1 775.5,386.2 775.7,385.5 776.0,384.5 776.2,385.0 776.5,382.2 776.7,382.8 777.0,382.3 777.2,381.0 777.5,380.9 777.7,377.1 778.0,375.7 778.2,376.9 778.5,376.5 778.7,377.8 779.0,375.3 779.2,372.8 779.5,374.1 779.7,371.4 780.0,370.1 780.2,374.8 780.5,372.2 780.7,372.7 781.0,372.6 781.2,374.2 781.5,372.5 781.7,373.8 782.0,371.3 782.2,371.1 782.5,374.8 782.7,375.1 783.0,374.2 783.2,374.1 783.5,374.2 783.7,373.1 784.0,375.5 784.2,374.1 784.5,373.5 784.7,373.0 785.0,373.4 785.2,372.4 785.5,372.3 785.7,369.7 786.0,371.5 786.2,373.3 786.5,369.9 786.7,370.1 787.0,371.1 787.2,371.0 787.5,370.4 787.7,367.5 788.0,369.8 788.2,367.3 788.5,367.1 788.7,368.1 789.0,366.5 789.2,367.2 789.5,369.4 789.7,365.9 790.0,365.1 790.2,362.3 790.5,361.6 790.7,360.1 791.0,359.8 791.2,358.1 791.5,357.6 791.7,357.1 792.0,355.2 792.2,353.9 792.5,353.2 792.7,354.6 793.0,353.4 793.2,353.8 793.5,353.1 793.7,350.7 794.0,351.2 794.2,348.1 794.5,352.0 794.7,350.2 795.0,348.0 795.2,346.4 795.5,347.8 795.7,344.6 796.0,345.4 796.2,346.9 796.5,345.8 796.7,344.9 797.0,346.4 797.2,343.8 797.5,345.1 797.7,343.9 798.0,343.2 798.2,344.4 798.5,342.3 798.7,345.4 799.0,342.1 799.2,344.8 799.5,340.7 799.7,342.4 800.0,339.9 800.2,339.5 800.5,341.1 800.7,341.5 801.0,339.0 801.2,341.8 801.5,339.3 801.7,340.2 802.0,340.4 802.2,340.4 802.5,337.4 802.7,341.3 803.0,339.9 803.2,338.5 803.5,337.5 803.7,336.5 804.0,336.6 804.2,338.7 804.5,337.3 804.7,336.1 805.0,336.5 805.2,338.6 805.5,335.7 805.7,334.7 806.0,336.4 806.2,334.8 806.5,333.6 806.7,332.2 807.0,330.4 807.2,330.1 807.5,330.0 807.7,329.5 808.0,329.3 808.2,328.7 808.5,327.4 808.7,326.5 809.0,324.2 809.2,322.1 809.5,323.4 809.7,322.3 810.0,322.0 810.2,321.9 810.5,320.1 810.7,319.6 811.0,320.3 811.2,320.3 811.5,319.3 811.7,320.6 812.0,319.7 812.2,318.7 812.5,319.9 812.7,322.1 813.0,318.9 813.2,321.1 813.5,321.3 813.7,321.5 814.0,319.0 814.2,322.6 814.5,320.6 814.7,320.4 815.0,320.7 815.2,321.9 815.5,321.5 815.7,321.2 816.0,322.6 816.2,319.9 816.5,319.1 816.7,321.0 817.0,320.5 817.2,320.6 817.5,317.7 817.7,319.9 818.0,318.9 818.2,320.0 818.5,316.1 818.7,317.5 819.0,316.6 819.2,314.7 819.5,315.4 819.7,317.3 820.0,315.0 820.2,314.4 820.5,316.0 820.7,315.8 821.0,315.3 821.2,312.5 821.5,312.6 821.7,313.0 822.0,310.1 822.2,309.1 822.5,310.1 822.7,310.1 823.0,306.0 823.2,303.3 823.5,303.7 823.7,303.2 824.0,303.2 824.2,303.1 824.5,301.2 824.7,299.6 825.0,299.7 825.2,297.6 825.5,298.0 825.7,296.7 826.0,300.0 826.2,297.2 826.5,294.6 826.7,293.8 827.0,293.9 827.2,292.1 827.5,293.0 827.7,292.8 828.0,294.5 828.2,292.8 828.5,292.1 828.7,291.3 829.0,291.3 829.2,292.4 829.5,292.1 829.7,293.5 830.0,291.2 830.2,293.0 830.5,291.8 830.7,291.3 831.0,288.7 831.2,289.3 831.5,291.5 831.7,292.1 832.0,290.5 832.2,290.9 832.5,289.1 832.7,288.9 833.0,288.2 833.2,289.9 833.5,288.8 833.7,287.8 834.0,287.4 834.2,288.1 834.5,287.6 834.7,286.1 835.0,289.0 835.2,287.2 835.5,286.8 835.7,288.5 836.0,287.8 836.2,286.4 836.5,287.1 836.7,285.0 837.0,285.3 837.2,282.7 837.5,286.1 837.7,281.5 838.0,283.7 838.2,281.0 838.5,280.0 838.7,280.0 839.0,279.7 839.2,279.2 839.5,279.8 839.7,277.2 840.0,276.9 840.2,274.3 840.5,275.0 840.7,273.4 841.0,271.9 841.2,271.6 841.5,271.0 841.7,270.7 842.0,270.3 842.2,268.6 842.5,267.7 842.7,268.8 843.0,265.4 843.2,266.6 843.5,269.3 843.7,264.3 844.0,266.8 844.2,268.6 844.5,265.9 844.7,271.2 845.0,265.0 845.2,269.8 845.5,269.7 845.7,268.8 846.0,267.2 846.2,267.7 846.5,266.0 846.7,267.9 847.0,265.4 847.2,266.2 847.5,267.5 847.7,264.8 848.0,265.5 848.2,265.9 848.5,263.9 848.7,266.7 849.0,265.5 849.2,263.0 849.5,264.6 849.7,263.5 850.0,263.4 850.2,263.9 850.5,262.6 850.7,264.2 851.0,261.8 851.2,263.4 851.5,261.7 851.7,262.4 852.0,260.3 852.2,259.9 852.5,258.6 852.7,260.0 853.0,259.7 853.2,260.3 853.5,258.6 853.7,256.6 854.0,255.3 854.2,255.3 854.5,254.0 854.7,254.9 855.0,253.4 855.2,250.4 855.5,249.7 855.7,251.3 856.0,249.1 856.2,247.6 856.5,248.5 856.7,245.8 857.0,245.1 857.2,244.1 857.5,241.6 857.7,244.2 858.0,241.0 858.2,241.3 858.5,240.9 858.7,242.4 859.0,241.2 859.2,241.0 859.5,238.7 859.7,240.4 860.0,238.5 860.2,240.3 860.5,240.1 860.7,239.3 861.0,241.5 861.2,239.3 861.5,239.1 861.7,238.2 862.0,237.5 862.2,238.6 862.5,238.5 862.7,235.4 863.0,238.0 863.2,237.1 863.5,237.4 863.7,236.6 864.0,234.3 864.2,234.1 864.5,237.5 864.7,235.4 865.0,233.2 865.2,235.2 865.5,234.3 865.7,232.4 866.0,231.8 866.2,232.6 866.5,234.8 866.7,234.4 867.0,234.1 867.2,234.6 867.5,234.9 867.7,231.4 868.0,233.1 868.2,232.0 868.5,230.9 868.7,231.3 869.0,231.2 869.2,230.5 869.5,228.6 869.7,229.2 870.0,231.7 870.2,227.3 870.5,225.8 870.7,227.4 871.0,227.1 871.2,226.2 871.5,223.5 871.7,225.3 872.0,222.4 872.2,221.1 872.5,220.9 872.7,220.6 873.0,220.7 873.2,219.7 873.5,218.1 873.7,218.4 874.0,216.6 874.2,217.1 874.5,214.1 874.7,213.6 875.0,216.2 875.2,213.3 875.5,214.4 875.7,214.4 876.0,213.8 876.2,214.0 876.5,216.5 876.7,212.2 877.0,216.7 877.2,218.8 877.5,216.4 877.7,216.7 878.0,217.9 878.2,219.2 878.5,215.3 878.7,216.6 879.0,216.0 879.2,216.7 879.5,215.9 879.7,216.3 880.0,214.7 880.2,214.9 880.5,213.6 880.7,213.2 881.0,213.4 881.2,213.0 881.5,211.4 881.7,214.3 882.0,211.8 882.2,209.9 882.5,212.4 882.7,209.6 883.0,210.5 883.2,209.3 883.5,209.1 883.7,208.4 884.0,206.9 884.2,207.1 884.5,208.9 884.7,203.2 885.0,205.3 885.2,205.0 885.5,202.4 885.7,201.1 886.0,204.5 886.2,200.6 886.5,202.6 886.7,199.9 887.0,198.5 887.2,198.2 887.5,197.6 887.7,197.5 888.0,195.9 888.2,194.8 888.5,194.1 888.7,194.7 889.0,193.4 889.2,190.7 889.5,190.8 889.7,191.5 890.0,190.0 890.2,189.9 890.5,188.9 890.7,189.3 891.0,189.8 891.2,190.3 891.5,189.0 891.7,191.4 892.0,188.7 892.2,192.6 892.5,189.8 892.7,189.1 893.0,187.9 893.2,185.0 893.5,188.0 893.7,188.2 894.0,189.9 894.2,185.5 894.5,189.1 894.7,186.1 895.0,186.8 895.2,182.5 895.5,185.3 895.7,184.3 896.0,185.2 896.2,184.2 896.5,182.5 896.7,184.9 897.0,184.4 897.2,184.1 897.5,184.4 897.7,184.4 898.0,182.9 898.2,181.1 898.5,180.9 898.7,184.0 899.0,183.0 899.2,182.0 899.5,180.9 899.7,181.1 900.0,180.6 900.2,179.8 900.5,178.9 900.7,182.0 901.0,179.2 901.2,177.8 901.5,176.6 901.7,176.8 902.0,178.1 902.2,177.4 902.5,175.4 902.7,174.8 903.0,173.5 903.2,171.7 903.5,173.7 903.7,171.7 904.0,173.4 904.2,168.7 904.5,168.7 904.7,169.2 905.0,167.1 905.2,164.9 905.5,164.7 905.7,165.2 906.0,164.8 906.2,163.9 906.5,164.8 906.7,164.5 907.0,163.4 907.2,162.7 907.5,162.1 907.7,163.0 908.0,163.7 908.2,162.9 908.5,163.6 908.7,162.9 909.0,161.9 909.2,162.6 909.5,164.9 909.7,164.6 910.0,165.8 910.2,163.7 910.5,164.4 910.7,164.7 911.0,164.0 911.2,161.9 911.5,162.1 911.7,162.3 912.0,160.7 912.2,162.3 912.5,162.7 912.7,160.7 913.0,163.4 913.2,160.5 913.5,160.4 913.7,160.2 914.0,159.4 914.2,160.4 914.5,159.5 914.7,161.0 915.0,159.3 915.2,158.8 915.5,157.5 915.7,155.7 916.0,156.8 916.2,155.5 916.5,157.1 916.7,155.3 917.0,156.5 917.2,154.7 917.5,154.1 917.7,152.6 918.0,151.8 918.2,151.6 918.5,151.0 918.7,148.1 919.0,148.5 919.2,150.0 919.5,145.7 919.7,144.6 920.0,143.3 920.2,141.7 920.5,144.1 920.7,142.0 921.0,141.5 921.2,142.6 921.5,142.7 921.7,138.0 922.0,139.8 922.2,138.7 922.5,138.0 922.7,137.6 923.0,136.5 923.2,137.9 923.5,136.3 923.7,135.6 924.0,136.5 924.2,135.9 924.5,135.2 924.7,134.9 925.0,136.4 925.2,134.7 925.5,133.9 925.7,132.8 926.0,133.2 926.2,132.2 926.5,133.4 926.7,133.4 927.0,130.5 927.2,132.8 927.5,133.4 927.7,132.6 928.0,131.1 928.2,133.5 928.5,130.8 928.7,129.9 929.0,129.7 929.2,130.7 929.5,131.6 929.7,131.5 930.0,130.0 930.2,128.0 930.5,128.3 930.7,127.5 931.0,127.9 931.2,125.5 931.5,127.2 931.7,127.4 932.0,125.9 932.2,126.2 932.5,124.0 932.7,123.1 933.0,123.7 933.2,125.5 933.5,125.0 933.7,122.6 934.0,123.9 934.2,121.2 934.5,122.5 934.7,120.4 935.0,118.5 935.2,119.1 935.5,116.4 935.7,115.3 936.0,113.9 936.2,115.1 936.5,113.8 936.7,113.0 937.0,111.7 937.2,113.1 937.5,109.2 937.7,109.7 938.0,112.1 938.2,114.8 938.5,111.9 938.7,115.5 939.0,116.3 939.2,109.9 939.5,111.9 939.7,110.5 940.0,111.8 940.2,111.1 940.5,111.9 940.7,113.5 941.0,113.5 941.2,112.4 941.5,112.0 941.7,112.2 942.0,112.2 942.2,112.9 942.5,112.0 942.7,112.8 943.0,109.7 943.2,112.0 943.5,112.6 943.7,109.4 944.0,106.5 944.2,110.6 944.2,153.3 944.0,155.4 943.7,155.2 943.5,155.3 943.2,157.4 943.0,155.3 942.7,158.4 942.5,155.7 942.2,159.6 942.0,161.8 941.7,162.0 941.5,160.3 941.2,161.0 941.0,164.8 940.7,162.8 940.5,161.9 940.2,164.3 940.0,163.2 939.7,160.8 939.5,159.2 939.2,162.0 939.0,162.0 938.7,161.9 938.5,159.6 938.2,158.9 938.0,156.6 937.7,151.5 937.5,155.8 937.2,157.4 937.0,156.8 936.7,157.9 936.5,159.3 936.2,157.5 936.0,160.9 935.7,162.4 935.5,162.2 935.2,164.1 935.0,164.1 934.7,164.7 934.5,166.7 934.2,167.6 934.0,165.8 933.7,168.2 933.5,170.1 933.2,169.4 933.0,171.5 932.7,169.8 932.5,168.6 932.2,170.9 932.0,172.2 931.7,173.1 931.5,172.0 931.2,173.7 931.0,172.8 930.7,176.7 930.5,174.4 930.2,173.3 930.0,174.7 929.7,175.0 929.5,176.4 929.2,177.4 929.0,175.7 928.7,176.9 928.5,177.4 928.2,175.5 928.0,177.3 927.7,175.5 927.5,179.0 927.2,178.2 927.0,180.2 926.7,179.6 926.5,177.4 926.2,180.7 926.0,178.0 925.7,178.8 925.5,178.6 925.2,181.6 925.0,180.0 924.7,180.5 924.5,179.3 924.2,179.4 924.0,180.4 923.7,180.9 923.5,181.7 923.2,181.9 923.0,183.3 922.7,180.9 922.5,182.4 922.2,183.0 922.0,186.1 921.7,184.2 921.5,185.3 921.2,188.1 921.0,187.1 920.7,187.7 920.5,188.1 920.2,190.0 920.0,188.0 919.7,190.8 919.5,191.1 919.2,191.2 919.0,194.4 918.7,195.9 918.5,195.2 918.2,196.2 918.0,197.8 917.7,196.6 917.5,200.7 917.2,200.3 917.0,200.7 916.7,200.8 916.5,202.4 916.2,203.4 916.0,201.5 915.7,204.5 915.5,204.7 915.2,204.3 915.0,203.4 914.7,203.5 914.5,205.3 914.2,205.7 914.0,205.5 913.7,205.9 913.5,206.5 913.2,205.4 913.0,205.7 912.7,207.5 912.5,207.1 912.2,205.8 912.0,208.2 911.7,207.2 911.5,207.6 911.2,209.3 911.0,208.2 910.7,206.7 910.5,208.3 910.2,209.5 910.0,210.8 909.7,208.2 909.5,209.1 909.2,208.4 909.0,210.7 908.7,209.4 908.5,208.3 908.2,209.9 908.0,208.9 907.7,206.7 907.5,207.2 907.2,208.2 907.0,209.4 906.7,209.0 906.5,210.0 906.2,208.2 906.0,210.1 905.7,211.6 905.5,212.8 905.2,214.2 905.0,213.7 904.7,215.5 904.5,213.8 904.2,215.2 904.0,216.9 903.7,216.3 903.5,218.0 903.2,220.3 903.0,218.7 902.7,220.2 902.5,219.7 902.2,223.3 902.0,222.2 901.7,222.6 901.5,222.5 901.2,222.8 901.0,224.0 900.7,224.1 900.5,225.4 900.2,226.9 900.0,226.6 899.7,227.2 899.5,225.4 899.2,226.5 899.0,228.9 898.7,228.4 898.5,227.2 898.2,228.8 898.0,229.8 897.7,229.1 897.5,228.5 897.2,228.7 897.0,231.1 896.7,230.3 896.5,229.1 896.2,227.7 896.0,230.0 895.7,229.4 895.5,231.2 895.2,231.5 895.0,230.2 894.7,230.4 894.5,236.0 894.2,233.6 894.0,231.8 893.7,231.2 893.5,233.0 893.2,233.4 893.0,235.3 892.7,233.8 892.5,234.9 892.2,233.3 892.0,234.7 891.7,232.9 891.5,233.4 891.2,233.9 891.0,235.8 890.7,232.9 890.5,234.9 890.2,236.4 890.0,235.6 889.7,236.6 889.5,238.1 889.2,235.5 889.0,236.3 888.7,239.5 888.5,241.2 888.2,239.3 888.0,238.2 887.7,242.6 887.5,241.1 887.2,243.6 887.0,246.7 886.7,246.3 886.5,244.9 886.2,244.8 886.0,247.5 885.7,246.6 885.5,248.7 885.2,251.5 885.0,251.7 884.7,250.7 884.5,251.8 884.2,252.2 884.0,253.1 883.7,253.3 883.5,256.2 883.2,253.9 883.0,254.8 882.7,257.3 882.5,257.8 882.2,256.8 882.0,260.2 881.7,259.6 881.5,258.1 881.2,258.9 881.0,257.1 880.7,258.6 880.5,260.2 880.2,258.5 880.0,262.2 879.7,259.4 879.5,260.3 879.2,262.5 879.0,262.7 878.7,260.9 878.5,261.2 878.2,262.2 878.0,263.4 877.7,262.9 877.5,260.8 877.2,262.8 877.0,261.8 876.7,261.2 876.5,260.5 876.2,258.5 876.0,259.9 875.7,261.9 875.5,259.5 875.2,262.8 875.0,258.7 874.7,262.7 874.5,260.2 874.2,261.6 874.0,262.8 873.7,260.2 873.5,264.1 873.2,265.8 873.0,265.8 872.7,265.3 872.5,267.7 872.2,267.6 872.0,269.6 871.7,268.9 871.5,269.1 871.2,272.2 871.0,270.3 870.7,270.8 870.5,274.0 870.2,274.8 870.0,271.9 869.7,276.9 869.5,275.8 869.2,277.4 869.0,276.4 868.7,276.9 868.5,278.6 868.2,277.7 868.0,276.9 867.7,279.6 867.5,278.8 867.2,281.1 867.0,279.0 866.7,280.6 866.5,280.2 866.2,281.5 866.0,279.4 865.7,279.9 865.5,281.6 865.2,282.3 865.0,282.9 864.7,278.7 864.5,281.3 864.2,279.2 864.0,280.7 863.7,280.2 863.5,281.0 863.2,281.5 863.0,281.9 862.7,282.1 862.5,283.8 862.2,283.2 862.0,282.8 861.7,286.3 861.5,284.4 861.2,285.5 861.0,285.3 860.7,285.2 860.5,284.3 860.2,283.6 860.0,287.5 859.7,285.2 859.5,286.2 859.2,285.0 859.0,285.0 858.7,289.0 858.5,286.4 858.2,288.4 858.0,287.7 857.7,288.9 857.5,292.3 857.2,288.3 857.0,290.1 856.7,292.5 856.5,290.5 856.2,291.6 856.0,293.6 855.7,294.2 855.5,293.5 855.2,295.1 855.0,298.0 854.7,298.1 854.5,300.9 854.2,301.3 854.0,301.4 853.7,300.9 853.5,301.7 853.2,302.2 853.0,304.4 852.7,305.0 852.5,306.1 852.2,305.4 852.0,307.1 851.7,305.7 851.5,308.2 851.2,307.1 851.0,307.7 850.7,308.6 850.5,307.8 850.2,308.9 850.0,309.6 849.7,308.9 849.5,310.5 849.2,311.0 849.0,311.0 848.7,308.7 848.5,313.5 848.2,310.3 848.0,311.1 847.7,311.9 847.5,311.8 847.2,312.5 847.0,312.7 846.7,314.7 846.5,313.6 846.2,313.4 846.0,313.7 845.7,311.4 845.5,312.0 845.2,313.1 845.0,314.1 844.7,312.2 844.5,314.3 844.2,312.0 844.0,312.2 843.7,311.2 843.5,313.0 843.2,309.5 843.0,311.5 842.7,313.6 842.5,313.4 842.2,315.0 842.0,315.7 841.7,316.0 841.5,315.9 841.2,316.5 841.0,316.7 840.7,318.8 840.5,320.3 840.2,320.0 840.0,320.6 839.7,322.3 839.5,323.4 839.2,324.2 839.0,325.3 838.7,325.6 838.5,328.0 838.2,326.6 838.0,330.4 837.7,329.1 837.5,330.5 837.2,332.4 837.0,331.7 836.7,330.4 836.5,332.2 836.2,330.9 836.0,332.0 835.7,331.2 835.5,335.7 835.2,331.2 835.0,334.2 834.7,334.3 834.5,332.6 834.2,334.8 834.0,335.5 833.7,332.4 833.5,333.4 833.2,334.9 833.0,334.1 832.7,332.0 832.5,335.7 832.2,334.7 832.0,333.8 831.7,335.5 831.5,337.3 831.2,337.5 831.0,337.1 830.7,336.8 830.5,337.6 830.2,337.5 830.0,337.8 829.7,339.0 829.5,338.0 829.2,338.3 829.0,337.3 828.7,337.3 828.5,337.4 828.2,338.8 828.0,341.5 827.7,338.9 827.5,340.0 827.2,338.7 827.0,341.0 826.7,339.6 826.5,339.6 826.2,342.2 826.0,340.1 825.7,343.7 825.5,344.5 825.2,343.5 825.0,344.8 824.7,348.1 824.5,346.2 824.2,349.4 824.0,348.7 823.7,350.4 823.5,351.2 823.2,352.9 823.0,352.8 822.7,353.4 822.5,356.0 822.2,354.5 822.0,354.8 821.7,355.2 821.5,359.7 821.2,360.6 821.0,358.2 820.7,363.1 820.5,361.0 820.2,359.8 820.0,362.4 819.7,361.4 819.5,363.7 819.2,362.8 819.0,361.3 818.7,362.4 818.5,362.3 818.2,363.8 818.0,366.1 817.7,363.3 817.5,365.5 817.2,363.6 817.0,364.9 816.7,363.4 816.5,365.6 816.2,367.5 816.0,367.2 815.7,365.7 815.5,368.4 815.2,367.3 815.0,366.4 814.7,363.4 814.5,368.0 814.2,366.0 814.0,365.8 813.7,365.7 813.5,365.6 813.2,366.3 813.0,366.6 812.7,365.6 812.5,365.5 812.2,364.5 812.0,365.1 811.7,364.7 811.5,366.4 811.2,365.4 811.0,365.6 810.7,364.6 810.5,367.6 810.2,369.2 810.0,368.6 809.7,370.7 809.5,370.7 809.2,369.9 809.0,372.1 808.7,372.7 808.5,370.8 808.2,373.4 808.0,375.0 807.7,377.0 807.5,377.7 807.2,378.4 807.0,377.8 806.7,378.2 806.5,378.9 806.2,380.4 806.0,380.6 805.7,381.4 805.5,381.4 805.2,384.1 805.0,381.0 804.7,384.0 804.5,381.8 804.2,381.9 804.0,384.5 803.7,383.5 803.5,384.6 803.2,385.2 803.0,386.3 802.7,384.3 802.5,387.8 802.2,385.8 802.0,386.8 801.7,385.7 801.5,387.2 801.2,386.5 801.0,387.7 800.7,386.6 800.5,387.4 800.2,385.2 800.0,388.9 799.7,386.1 799.5,388.4 799.2,389.3 799.0,388.1 798.7,388.4 798.5,389.1 798.2,389.6 798.0,390.6 797.7,388.4 797.5,392.8 797.2,390.8 797.0,389.5 796.7,390.9 796.5,392.8 796.2,391.8 796.0,390.9 795.7,393.5 795.5,395.1 795.2,392.2 795.0,395.5 794.7,393.2 794.5,394.8 794.2,394.7 794.0,394.4 793.7,396.2 793.5,398.1 793.2,397.4 793.0,398.6 792.7,400.0 792.5,399.8 792.2,401.6 792.0,403.8 791.7,401.1 791.5,404.3 791.2,404.7 791.0,404.9 790.7,403.1 790.5,408.9 790.2,410.1 790.0,411.1 789.7,411.4 789.5,410.7 789.2,411.1 789.0,412.2 788.7,413.5 788.5,413.1 788.2,414.0 788.0,414.0 787.7,414.6 787.5,412.7 787.2,413.6 787.0,416.2 786.7,414.7 786.5,415.4 786.2,418.0 786.0,416.8 785.7,415.4 785.5,416.8 785.2,418.0 785.0,419.0 784.7,416.4 784.5,418.8 784.2,418.9 784.0,419.2 783.7,421.1 783.5,419.5 783.2,419.9 783.0,421.4 782.7,419.1 782.5,418.2 782.2,416.6 782.0,418.5 781.7,419.0 781.5,419.0 781.2,417.8 781.0,417.8 780.7,417.7 780.5,418.7 780.2,416.2 780.0,417.6 779.7,419.4 779.5,418.8 779.2,420.5 779.0,418.6 778.7,422.4 778.5,419.5 778.2,422.9 778.0,423.1 777.7,424.4 777.5,426.0 777.2,426.7 777.0,428.0 776.7,429.4 776.5,429.6 776.2,429.9 776.0,430.8 775.7,430.4 775.5,429.8 775.2,431.4 775.0,432.3 774.7,432.6 774.5,433.6 774.2,431.8 774.0,431.1 773.7,430.3 773.5,431.5 773.2,431.3 773.0,427.4 772.7,429.3 772.5,428.4 772.2,428.0 772.0,428.3 771.7,427.1 771.5,427.5 771.2,423.6 771.0,424.6 770.7,422.5 770.5,426.2 770.2,421.2 770.0,422.6 769.7,422.4 769.5,421.5 769.2,418.7 769.0,416.5 768.7,417.2 768.5,417.9 768.2,414.4 768.0,415.7 767.7,417.3 767.5,415.5 767.2,413.8 767.0,408.9 766.7,413.3 766.5,411.8 766.2,412.1 766.0,409.4 765.7,408.6 765.5,407.8 765.2,407.5 765.0,408.8 764.7,405.4 764.5,405.3 764.2,405.4 764.0,404.5 763.7,404.2 763.5,403.0 763.2,404.7 763.0,406.5 762.7,403.7 762.5,403.9 762.2,403.8 762.0,403.5 761.7,402.7 761.5,401.6 761.2,403.3 761.0,401.8 760.7,403.2 760.5,403.6 760.2,402.8 760.0,404.7 759.7,401.4 759.5,403.3 759.2,403.1 759.0,403.3 758.7,400.9 758.5,404.7 758.2,403.6 758.0,402.8 757.7,403.4 757.5,403.6 757.2,404.3 757.0,402.6 756.7,402.7 756.5,401.3 756.2,403.4 756.0,400.5 755.7,399.9 755.5,401.0 755.2,396.2 755.0,396.3 754.7,396.1 754.5,395.4 754.2,394.7 754.0,392.9 753.7,394.4 753.5,390.3 753.2,391.4 753.0,389.2 752.7,390.2 752.5,389.3 752.2,388.1 752.0,385.7 751.7,385.9 751.5,385.2 751.2,384.1 751.0,382.8 750.7,385.1 750.5,383.3 750.2,380.5 750.0,379.6 749.7,377.6 749.5,377.9 749.2,378.9 749.0,377.3 748.7,378.6 748.5,376.1 748.2,373.7 748.0,376.1 747.7,374.4 747.5,375.7 747.2,376.2 747.0,377.7 746.7,376.6 746.5,377.6 746.2,375.3 746.0,373.9 745.7,373.0 745.5,373.0 745.2,373.8 745.0,373.9 744.7,374.2 744.5,373.0 744.2,373.4 744.0,372.4 743.7,375.4 743.5,370.7 743.2,370.2 743.0,370.9 742.7,371.6 742.5,369.7 742.2,370.9 742.0,372.5 741.7,370.2 741.5,370.7 741.2,369.9 741.0,366.8 740.7,368.5 740.5,366.7 740.2,363.4 740.0,366.9 739.7,362.1 739.5,361.2 739.2,361.3 739.0,362.6 738.7,361.5 738.5,362.6 738.2,361.6 738.0,360.8 737.7,360.2 737.5,360.3 737.2,357.7 737.0,358.4 736.7,357.6 736.5,357.2 736.2,357.0 736.0,357.1 735.7,356.9 735.5,355.1 735.2,356.5 735.0,355.7 734.7,355.0 734.5,354.6 734.2,354.9 734.0,353.2 733.7,351.9 733.5,350.1 733.2,349.8 733.0,349.2 732.7,348.4 732.5,349.7 732.2,349.0 732.0,347.2 731.7,348.3 731.5,348.8 731.2,346.9 731.0,347.0 730.7,346.8 730.5,347.8 730.2,345.4 730.0,347.6 729.7,348.8 729.5,347.5 729.2,348.7 729.0,348.8 728.7,346.4 728.5,348.6 728.2,347.7 728.0,347.1 727.7,348.5 727.5,347.4 727.2,347.3 727.0,346.7 726.7,343.9 726.5,345.7 726.2,346.1 726.0,345.1 725.7,344.4 725.5,345.5 725.2,342.8 725.0,341.8 724.7,342.6 724.5,342.9 724.2,339.8 724.0,340.6 723.7,340.5 723.5,339.2 723.2,339.8 723.0,337.2 722.7,337.7 722.5,338.3 722.2,334.6 722.0,334.8 721.7,336.9 721.5,332.7 721.2,332.9 721.0,332.4 720.7,331.9 720.5,328.8 720.2,327.6 720.0,329.0 719.7,327.7 719.5,325.5 719.2,327.6 719.0,324.7 718.7,327.4 718.5,325.3 718.2,324.0 718.0,323.0 717.7,321.3 717.5,321.7 717.2,322.0 717.0,320.9 716.7,321.4 716.5,319.8 716.2,319.7 716.0,319.7 715.7,318.9 715.5,318.6 715.2,319.8 715.0,317.6 714.7,319.0 714.5,320.0 714.2,318.2 714.0,321.0 713.7,318.2 713.5,320.0 713.2,319.9 713.0,321.5 712.7,319.5 712.5,316.8 712.2,318.0 712.0,317.3 711.7,318.0 711.5,317.1 711.2,317.9 711.0,316.7 710.7,316.4 710.5,313.4 710.2,315.5 710.0,314.1 709.7,313.2 709.5,313.6 709.2,314.2 709.0,315.4 708.7,314.4 708.5,312.7 708.2,312.4 708.0,309.6 707.7,311.2 707.5,307.7 707.2,307.9 707.0,308.8 706.7,307.7 706.5,306.6 706.2,306.0 706.0,305.7 705.7,307.9 705.5,304.6 705.2,303.9 705.0,303.7 704.7,303.6 704.5,302.8 704.2,301.8 704.0,301.9 703.7,301.0 703.5,300.8 703.2,299.8 703.0,297.7 702.7,297.0 702.5,297.7 702.2,295.9 702.0,295.6 701.7,293.3 701.5,294.3 701.2,295.2 701.0,293.8 700.7,294.7 700.5,292.9 700.2,294.2 700.0,291.5 699.7,291.9 699.5,293.0 699.2,292.7 699.0,290.4 698.7,292.9 698.5,292.3 698.2,293.6 698.0,292.6 697.7,291.2 697.5,292.3 697.2,292.8 697.0,292.7 696.7,291.9 696.5,292.5 696.2,293.6 696.0,293.5 695.7,294.2 695.5,295.6 695.2,290.5 695.0,292.2 694.7,293.6 694.5,293.7 694.2,292.6 694.0,292.1 693.7,292.0 693.5,292.9 693.2,292.2 693.0,290.6 692.7,289.5 692.5,288.3 692.2,286.9 692.0,289.7 691.7,285.6 691.5,285.9 691.2,284.6 691.0,283.8 690.7,284.9 690.5,282.6 690.2,283.3 690.0,282.6 689.7,283.2 689.5,278.5 689.2,281.8 689.0,279.9 688.7,277.4 688.5,280.4 688.2,276.1 688.0,277.4 687.7,276.8 687.5,272.9 687.2,273.6 687.0,274.3 686.7,269.9 686.5,271.4 686.2,268.5 686.0,269.6 685.7,268.8 685.5,268.3 685.2,265.4 685.0,267.8 684.7,266.9 684.5,264.6 684.2,265.6 684.0,265.6 683.7,267.1 683.5,266.7 683.2,264.2 683.0,263.2 682.7,266.5 682.5,265.6 682.2,266.9 682.0,266.6 681.7,265.6 681.5,266.8 681.2,266.6 681.0,267.2 680.7,266.5 680.5,266.4 680.2,263.5 680.0,263.9 679.7,265.3 679.5,263.6 679.2,265.1 679.0,265.1 678.7,262.6 678.5,260.5 678.2,262.1 678.0,262.1 677.7,259.6 677.5,260.3 677.2,259.0 677.0,257.3 676.7,258.5 676.5,258.6 676.2,257.1 676.0,256.3 675.7,255.7 675.5,255.9 675.2,253.8 675.0,254.2 674.7,257.6 674.5,253.2 674.2,252.4 674.0,252.7 673.7,251.5 673.5,247.9 673.2,251.1 673.0,251.5 672.7,251.6 672.5,248.8 672.2,246.7 672.0,248.7 671.7,247.3 671.5,244.6 671.2,248.2 671.0,246.4 670.7,245.5 670.5,244.1 670.2,242.1 670.0,245.8 669.7,242.5 669.5,239.1 669.2,242.5 669.0,241.9 668.7,243.0 668.5,242.8 668.2,240.3 668.0,243.4 667.7,242.6 667.5,242.0 667.2,242.0 667.0,239.7 666.7,241.0 666.5,243.8 666.2,240.9 666.0,241.4 665.7,241.9 665.5,241.3 665.2,240.9 665.0,242.3 664.7,240.9 664.5,243.4 664.2,240.8 664.0,243.3 663.7,241.4 663.5,239.8 663.2,244.1 663.0,241.8 662.7,243.0 662.5,241.9 662.2,242.6 662.0,240.9 661.7,241.1 661.5,238.9 661.2,239.7 661.0,240.2 660.7,239.6 660.5,235.9 660.2,238.0 660.0,236.3 659.7,236.0 659.5,234.5 659.2,233.2 659.0,235.5 658.7,234.9 658.5,232.9 658.2,234.2 658.0,232.2 657.7,231.3 657.5,231.1 657.2,229.4 657.0,231.8 656.7,228.7 656.5,229.8 656.2,229.7 656.0,228.9 655.7,225.5 655.5,225.0 655.2,227.3 655.0,223.5 654.7,224.9 654.5,220.7 654.2,222.0 654.0,222.5 653.7,221.1 653.5,222.3 653.2,219.3 653.0,219.2 652.7,220.8 652.5,218.2 652.2,219.7 652.0,218.7 651.7,218.9 651.5,219.9 651.2,220.4 651.0,221.3 650.7,222.4 650.5,218.3 650.2,219.8 650.0,219.3 649.7,221.7 649.5,219.7 649.2,219.0 649.0,222.5 648.7,222.0 648.5,222.1 648.2,219.4 648.0,219.2 647.7,219.6 647.5,220.0 647.2,216.5 647.0,219.1 646.7,218.9 646.5,217.0 646.2,217.9 646.0,218.3 645.7,215.4 645.5,216.1 645.2,216.0 645.0,218.0 644.7,216.3 644.5,215.2 644.2,212.4 644.0,212.2 643.7,212.9 643.5,211.9 643.2,213.2 643.0,214.2 642.7,212.0 642.5,213.0 642.2,210.8 642.0,211.7 641.7,210.6 641.5,207.8 641.2,208.8 641.0,208.6 640.7,211.1 640.5,209.1 640.2,208.0 640.0,207.4 639.7,206.7 639.5,204.4 639.2,204.4 639.0,207.7 638.7,204.8 638.5,205.0 638.2,203.2 638.0,203.4 637.7,204.8 637.5,204.9 637.2,202.1 637.0,202.0 636.7,202.3 636.5,203.8 636.2,201.4 636.0,204.5 635.7,204.3 635.5,204.9 635.2,203.7 635.0,203.8 634.7,204.6 634.5,203.4 634.2,204.2 634.0,204.9 633.7,205.9 633.5,205.8 633.2,207.5 633.0,206.9 632.7,206.4 632.5,206.8 632.2,208.3 632.0,208.3 631.7,205.6 631.5,207.3 631.2,208.6 631.0,205.8 630.7,204.5 630.5,204.0 630.2,207.6 630.0,206.1 629.7,205.9 629.5,204.3 629.2,205.7 629.0,203.1 628.7,202.3 628.5,205.3 628.2,205.1 628.0,201.7 627.7,201.1 627.5,202.9 627.2,201.4 627.0,199.8 626.7,201.3 626.5,201.4 626.2,199.6 626.0,199.1 625.7,199.4 625.5,198.3 625.2,196.3 625.0,198.6 624.7,197.5 624.5,194.8 624.2,195.0 624.0,192.7 623.7,192.9 623.5,192.8 623.2,192.8 623.0,189.9 622.7,192.8 622.5,189.9 622.2,188.5 622.0,190.8 621.7,187.7 621.5,190.4 621.2,191.0 621.0,191.1 620.7,190.0 620.5,187.8 620.2,189.2 620.0,188.9 619.7,189.7 619.5,190.4 619.2,190.4 619.0,192.6 618.7,192.4 618.5,192.2 618.2,193.2 618.0,193.1 617.7,194.6 617.5,194.3 617.2,193.3 617.0,198.1 616.7,196.1 616.5,196.2 616.2,198.4 616.0,198.8 615.7,198.8 615.5,198.2 615.2,199.5 615.0,200.0 614.7,199.0 614.5,201.2 614.2,201.2 614.0,200.1 613.7,203.5 613.5,201.6 613.2,201.6 613.0,201.4 612.7,202.7 612.5,203.4 612.2,202.2 612.0,202.0 611.7,201.9 611.5,203.5 611.2,205.3 611.0,204.0 610.7,205.7 610.5,206.0 610.2,206.6 610.0,206.5 609.7,206.0 609.5,208.3 609.2,213.2 609.0,209.0 608.7,209.6 608.5,210.6 608.2,211.6 608.0,208.9 607.7,211.4 607.5,212.1 607.2,210.2 607.0,214.2 606.7,213.0 606.5,212.1 606.2,213.8 606.0,211.9 605.7,215.2 605.5,212.0 605.2,217.6 605.0,218.2 604.7,218.4 604.5,219.8 604.2,219.0 604.0,220.7 603.7,221.0 603.5,222.9 603.2,225.1 603.0,225.1 602.7,227.5 602.5,229.0 602.2,227.8 602.0,231.0 601.7,230.1 601.5,230.9 601.2,232.3 601.0,234.1 600.7,233.1 600.5,234.9 600.2,236.4 600.0,238.5 599.7,237.2 599.5,237.0 599.2,237.5 599.0,239.4 598.7,241.4 598.5,241.4 598.2,240.3 598.0,240.6 597.7,240.4 597.5,242.1 597.2,243.3 597.0,243.5 596.7,244.3 596.5,244.3 596.2,245.8 596.0,245.1 595.7,242.9 595.5,246.3 595.2,245.1 595.0,246.4 594.7,248.6 594.5,247.8 594.2,247.8 594.0,248.2 593.7,250.5 593.5,250.7 593.2,246.9 593.0,249.7 592.7,248.9 592.5,246.9 592.2,246.8 592.0,247.5 591.7,248.6 591.5,246.9 591.2,249.0 591.0,249.1 590.7,249.6 590.5,249.6 590.2,249.0 590.0,250.3 589.7,250.9 589.5,252.1 589.2,247.2 589.0,249.4 588.7,248.8 588.5,251.2 588.2,251.4 588.0,253.1 587.7,254.3 587.5,253.6 587.2,256.8 587.0,256.0 586.7,256.4 586.5,259.6 586.2,260.3 586.0,257.9 585.7,259.2 585.5,259.6 585.2,259.8 585.0,258.2 584.7,259.0 584.5,259.5 584.2,259.0 584.0,258.3 583.7,260.6 583.5,260.3 583.2,258.6 583.0,259.3 582.7,259.7 582.5,258.9 582.2,259.5 582.0,259.7 581.7,259.3 581.5,262.2 581.2,262.4 581.0,260.9 580.7,263.1 580.5,261.4 580.2,265.3 580.0,263.9 579.7,266.2 579.5,262.7 579.2,264.5 579.0,263.2 578.7,265.0 578.5,263.3 578.2,263.1 578.0,261.6 577.7,262.8 577.5,265.7 577.2,261.5 577.0,264.1 576.7,263.6 576.5,264.3 576.2,264.0 576.0,262.9 575.7,264.7 575.5,264.7 575.2,266.6 575.0,263.7 574.7,266.4 574.5,266.5 574.2,265.1 574.0,267.8 573.7,269.4 573.5,269.2 573.2,271.1 573.0,270.6 572.7,271.3 572.5,272.6 572.2,271.5 572.0,273.9 571.7,273.4 571.5,276.6 571.2,276.5 571.0,274.6 570.7,277.6 570.5,276.7 570.2,275.2 570.0,280.4 569.7,277.6 569.5,279.2 569.2,280.1 569.0,280.2 568.7,281.9 568.5,280.5 568.2,279.9 568.0,280.1 567.7,281.4 567.5,281.0 567.2,280.8 567.0,283.4 566.7,283.2 566.5,281.3 566.2,283.8 566.0,281.1 565.7,281.1 565.5,283.7 565.2,284.4 565.0,282.6 564.7,282.7 564.5,283.0 564.2,282.2 564.0,282.1 563.7,281.9 563.5,283.8 563.2,283.4 563.0,283.7 562.7,280.4 562.5,282.8 562.2,282.1 562.0,281.4 561.7,283.1 561.5,281.2 561.2,279.9 561.0,281.5 560.7,282.0 560.5,280.0 560.2,278.3 560.0,278.4 559.7,277.2 559.5,280.4 559.2,280.2 559.0,279.6 558.7,280.4 558.5,280.3 558.2,279.6 558.0,279.3 557.7,280.5 557.5,283.2 557.2,280.7 557.0,282.8 556.7,284.2 556.5,283.1 556.2,286.2 556.0,286.7 555.7,288.4 555.5,285.8 555.2,288.8 555.0,288.9 554.7,288.7 554.5,290.8 554.2,289.3 554.0,289.6 553.7,290.2 553.5,289.9 553.2,290.1 553.0,292.9 552.7,289.8 552.5,291.4 552.2,289.6 552.0,292.2 551.7,292.9 551.5,291.3 551.2,292.3 551.0,292.5 550.7,292.7 550.5,292.0 550.2,292.2 550.0,291.2 549.7,293.7 549.5,293.4 549.2,293.1 549.0,294.0 548.7,294.2 548.5,293.7 548.2,293.4 548.0,293.2 547.7,293.6 547.5,294.4 547.2,294.7 547.0,295.3 546.7,293.7 546.5,295.4 546.2,294.3 546.0,292.3 545.7,294.7 545.5,296.1 545.2,294.9 545.0,293.6 544.7,295.4 544.5,294.1 544.2,294.3 544.0,294.0 543.7,295.6 543.5,295.4 543.2,294.2 543.0,296.2 542.7,295.4 542.5,296.9 542.2,295.9 542.0,297.4 541.7,298.0 541.5,297.9 541.2,299.5 541.0,300.3 540.7,298.6 540.5,300.5 540.2,299.5 540.0,301.0 539.7,303.2 539.5,302.3 539.2,305.3 539.0,304.0 538.7,304.7 538.5,307.0 538.2,304.0 538.0,307.4 537.7,310.6 537.5,309.2 537.2,311.8 537.0,309.8 536.7,311.4 536.5,312.8 536.2,314.7 536.0,317.9 535.7,314.4 535.5,316.1 535.2,319.1 535.0,322.7 534.7,320.5 534.5,323.2 534.2,323.4 534.0,322.6 533.7,323.5 533.5,322.0 533.2,325.4 533.0,324.7 532.7,326.9 532.5,326.3 532.2,327.5 532.0,329.4 531.7,327.5 531.5,327.1 531.2,331.1 531.0,329.4 530.7,331.4 530.5,329.3 530.2,330.2 530.0,330.1 529.7,330.0 529.5,329.8 529.2,329.9 529.0,329.7 528.7,332.0 528.5,329.4 528.2,330.3 528.0,331.9 527.7,331.8 527.5,332.5 527.2,333.7 527.0,334.5 526.7,335.1 526.5,336.5 526.2,338.1 526.0,337.7 525.7,339.6 525.5,341.3 525.2,340.9 525.0,341.5 524.7,343.4 524.5,341.5 524.2,345.4 524.0,347.9 523.7,347.4 523.5,347.3 523.2,351.1 523.0,350.0 522.7,350.8 522.5,352.7 522.2,354.1 522.0,354.2 521.7,354.7 521.5,355.1 521.2,355.9 521.0,354.1 520.7,359.5 520.5,360.2 520.2,360.3 520.0,360.1 519.7,362.0 519.5,362.7 519.2,362.8 519.0,362.6 518.7,363.4 518.5,364.8 518.2,365.8 518.0,364.2 517.7,365.1 517.5,369.4 517.2,365.9 517.0,368.0 516.7,367.2 516.5,366.9 516.2,369.1 516.0,370.4 515.7,370.4 515.5,371.4 515.2,370.0 515.0,371.4 514.7,371.4 514.5,372.2 514.2,374.8 514.0,372.4 513.7,374.7 513.5,376.8 513.2,377.0 513.0,375.4 512.7,378.0 512.5,378.4 512.2,377.0 511.9,379.0 511.7,378.8 511.4,377.7 511.2,375.8 510.9,380.5 510.7,381.5 510.4,381.5 510.2,385.2 509.9,384.4 509.7,384.6 509.4,385.6 509.2,385.2 508.9,387.4 508.7,387.6 508.4,389.6 508.2,387.2 507.9,388.2 507.7,390.0 507.4,389.7 507.2,391.3 506.9,392.0 506.7,391.3 506.4,395.0 506.2,394.2 505.9,395.9 505.7,397.3 505.4,398.2 505.2,397.3 504.9,397.6 504.7,399.5 504.4,400.2 504.2,403.7 503.9,401.1 503.7,401.8 503.4,402.9 503.2,401.7 502.9,402.8 502.7,401.4 502.4,399.5 502.2,404.4 501.9,401.5 501.7,402.9 501.4,404.5 501.2,403.3 500.9,406.3 500.7,403.9 500.4,405.4 500.2,406.2 499.9,406.5 499.7,406.2 499.4,404.1 499.2,407.0 498.9,409.8 498.7,407.6 498.4,408.1 498.2,406.3 497.9,405.7 497.7,406.7 497.4,406.7 497.2,406.9 496.9,407.5 496.7,408.2 496.4,406.1 496.2,409.5 495.9,410.9 495.7,408.7 495.4,408.1 495.2,411.6 494.9,410.8 494.7,409.5 494.4,415.5 494.2,414.8 493.9,415.8 493.7,415.0 493.4,417.0 493.2,419.2 492.9,419.5 492.7,421.1 492.4,420.9 492.2,423.0 491.9,421.5 491.7,424.2 491.4,421.6 491.2,425.4 490.9,424.9 490.7,424.8 490.4,425.7 490.2,425.5 489.9,427.4 489.7,428.6 489.4,425.7 489.2,431.1 488.9,428.9 488.7,428.8 488.4,428.0 488.2,428.5 487.9,427.8 487.7,430.1 487.4,431.2 487.2,428.7 486.9,428.7 486.7,428.6 486.4,430.5 486.2,429.7 485.9,429.8 485.7,429.1 485.4,429.8 485.2,430.8 484.9,427.8 484.7,431.0 484.4,428.8 484.2,428.5 483.9,430.2 483.7,430.2 483.4,429.8 483.2,431.6 482.9,432.0 482.7,430.9 482.4,431.3 482.2,430.0 481.9,430.1 481.7,431.5 481.4,429.6 481.2,429.1 480.9,431.6 480.7,430.9 480.4,428.9 480.2,427.8 479.9,430.3 479.7,429.4 479.4,431.9 479.2,431.0 478.9,430.8 478.7,431.2 478.4,433.5 478.2,434.4 477.9,432.5 477.7,432.8 477.4,434.2 477.2,434.7 476.9,436.9 476.7,436.2 476.4,435.8 476.2,437.7 475.9,439.7 475.7,439.9 475.4,440.6 475.2,437.9 474.9,438.3 474.7,442.0 474.4,439.9 474.2,441.3 473.9,442.8 473.7,442.7 473.4,441.1 473.2,441.7 472.9,441.2 472.7,441.5 472.4,442.4 472.2,441.9 471.9,444.0 471.7,442.5 471.4,444.7 471.2,445.3 470.9,443.7 470.7,444.0 470.4,444.8 470.2,447.2 469.9,444.1 469.7,445.3 469.4,443.6 469.2,446.1 468.9,444.9 468.7,443.9 468.4,442.4 468.2,446.1 467.9,445.4 467.7,443.0 467.4,442.6 467.2,444.5 466.9,444.5 466.7,442.4 466.4,440.3 466.2,442.3 465.9,440.9 465.7,441.6 465.4,441.4 465.2,441.4 464.9,440.9 464.7,438.4 464.4,438.3 464.2,439.3 463.9,439.5 463.7,441.8 463.4,442.5 463.2,439.5 462.9,441.6 462.7,440.5 462.4,439.8 462.2,443.6 461.9,441.8 461.7,443.8 461.4,445.2 461.2,450.0 460.9,447.0 460.7,446.3 460.4,445.8 460.2,448.2 459.9,447.9 459.7,449.2 459.4,449.4 459.2,448.1 458.9,449.8 458.7,447.3 458.4,449.9 458.2,448.1 457.9,449.9 457.7,450.8 457.4,448.7 457.2,447.5 456.9,447.5 456.7,448.4 456.4,449.7 456.2,448.6 455.9,448.5 455.7,447.1 455.4,447.7 455.2,446.6 454.9,447.2 454.7,447.4 454.4,445.8 454.2,446.1 453.9,448.1 453.7,445.7 453.4,447.7 453.2,448.7 452.9,445.1 452.7,446.5 452.4,449.0 452.2,446.6 451.9,445.0 451.7,449.1 451.4,446.8 451.2,447.9 450.9,447.6 450.7,446.0 450.4,446.6 450.2,446.2 449.9,446.9 449.7,447.2 449.4,446.0 449.2,445.9 448.9,447.5 448.7,446.6 448.4,446.4 448.2,447.2 447.9,443.5 447.7,446.5 447.4,446.2 447.2,448.2 446.9,446.2 446.7,447.3 446.4,447.6 446.2,450.3 445.9,447.0 445.7,448.2 445.4,447.1 445.2,451.3 444.9,450.3 444.7,451.0 444.4,451.1 444.2,450.3 443.9,451.7 443.7,453.7 443.4,453.9 443.2,456.6 442.9,454.5 442.7,456.1 442.4,456.5 442.2,454.8 441.9,456.8 441.7,455.9 441.4,454.9 441.2,458.0 440.9,454.8 440.7,455.9 440.4,455.2 440.2,454.1 439.9,454.1 439.7,452.4 439.4,455.2 439.2,454.6 438.9,457.2 438.7,454.5 438.4,455.0 438.2,454.9 437.9,455.6 437.7,452.0 437.4,453.6 437.2,455.8 436.9,454.5 436.7,452.6 436.4,451.7 436.2,452.0 435.9,451.2 435.7,451.2 435.4,447.5 435.2,447.4 434.9,449.6 434.7,447.9 434.4,450.4 434.2,449.0 433.9,446.8 433.7,448.3 433.4,447.8 433.2,446.6 432.9,444.5 432.7,447.5 432.4,446.3 432.2,447.9 431.9,449.0 431.7,447.1 431.4,445.2 431.2,448.0 430.9,448.2 430.7,449.3 430.4,452.3 430.2,451.1 429.9,452.8 429.7,452.8 429.4,453.2 429.2,453.0 428.9,455.4 428.7,455.6 428.4,451.9 428.2,454.5 427.9,454.4 427.7,456.7 427.4,452.9 427.2,455.4 426.9,455.7 426.7,458.2 426.4,455.1 426.2,456.8 425.9,452.9 425.7,454.4 425.4,454.4 425.2,456.9 424.9,454.2 424.7,456.6 424.4,455.6 424.2,452.9 423.9,450.9 423.7,453.0 423.4,452.0 423.2,451.1 422.9,453.0 422.7,452.7 422.4,450.7 422.2,450.4 421.9,452.4 421.7,454.1 421.4,453.5 421.2,455.0 420.9,452.5 420.7,449.6 420.4,453.5 420.2,452.6 419.9,451.2 419.7,451.4 419.4,449.7 419.2,449.8 418.9,451.1 418.7,448.2 418.4,451.2 418.2,450.0 417.9,450.1 417.7,450.3 417.4,451.5 417.2,450.8 416.9,449.9 416.7,450.7 416.4,449.9 416.2,449.9 415.9,452.6 415.7,450.5 415.4,452.1 415.2,453.2 414.9,453.9 414.7,454.1 414.4,455.8 414.2,453.9 413.9,455.8 413.7,454.5 413.4,457.7 413.2,458.2 412.9,460.7 412.7,458.5 412.4,457.5 412.2,458.2 411.9,459.4 411.7,459.7 411.4,459.9 411.2,462.6 410.9,459.0 410.7,460.2 410.4,461.2 410.2,460.3 409.9,459.7 409.7,463.1 409.4,459.7 409.2,459.6 408.9,460.8 408.7,458.6 408.4,458.4 408.2,459.1 407.9,456.3 407.7,455.6 407.4,453.6 407.2,453.5 406.9,451.1 406.7,453.6 406.4,451.8 406.2,448.8 405.9,450.8 405.7,445.8 405.4,445.3 405.2,445.7 404.9,444.5 404.7,440.7 404.4,439.9 404.2,438.4 403.9,437.0 403.7,434.8 403.4,431.3 403.2,432.9 402.9,431.6 402.7,430.6 402.4,427.2 402.2,424.5 401.9,422.0 401.7,422.2 401.4,421.3 401.2,417.4 400.9,416.4 400.7,417.2 400.4,415.7 400.2,416.6 399.9,415.6 399.7,414.7 399.4,413.1 399.2,413.8 398.9,410.9 398.7,412.9 398.4,410.9 398.2,410.1 397.9,408.1 397.7,405.2 397.4,406.8 397.2,406.2 396.9,404.6 396.7,402.1 396.4,402.5 396.2,400.6 395.9,401.1 395.7,401.0 395.4,397.4 395.2,397.1 394.9,394.4 394.7,394.6 394.4,391.9 394.2,393.4 393.9,392.1 393.7,390.3 393.4,389.8 393.2,389.5 392.9,385.8 392.7,384.8 392.4,385.7 392.2,382.7 391.9,382.8 391.7,382.4 391.4,380.9 391.2,380.1 390.9,378.1 390.7,376.5 390.4,374.4 390.2,372.6 389.9,372.4 389.7,369.9 389.4,371.5 389.2,369.0 388.9,367.8 388.7,370.4 388.4,365.7 388.2,365.8 387.9,364.8 387.7,361.6 387.4,361.9 387.2,359.9 386.9,358.8 386.7,357.4 386.4,356.9 386.2,355.2 385.9,352.7 385.7,352.3 385.4,350.5 385.2,348.8 384.9,348.5 384.7,347.3 384.4,348.1 384.2,347.1 383.9,343.2 383.7,346.0 383.4,342.9 383.2,341.9 382.9,341.5 382.7,341.9 382.4,342.7 382.2,341.3 381.9,342.2 381.7,342.3 381.4,340.5 381.2,339.4 380.9,340.1 380.7,339.1 380.4,341.4 380.2,342.5 379.9,341.0 379.7,340.1 379.4,339.9 379.2,338.9 378.9,339.4 378.7,338.9 378.4,339.1 378.2,336.9 377.9,338.0 377.7,338.0 377.4,338.6 377.2,338.5 376.9,335.8 376.7,335.0 376.4,336.0 376.2,334.5 375.9,333.9 375.7,335.2 375.4,333.3 375.2,333.0 374.9,331.0 374.7,331.4 374.4,332.1 374.2,331.7 373.9,330.1 373.7,328.3 373.4,328.5 373.2,327.0 372.9,326.4 372.7,326.5 372.4,325.2 372.2,323.8 371.9,323.6 371.7,321.3 371.4,320.8 371.2,320.3 370.9,318.1 370.7,317.4 370.4,315.4 370.2,316.9 369.9,314.8 369.7,316.0 369.4,314.3 369.2,315.1 368.9,312.7 368.7,312.8 368.4,313.6 368.2,313.1 367.9,315.1 367.7,313.9 367.4,314.6 367.2,312.4 366.9,313.9 366.7,313.5 366.4,313.9 366.2,314.9 365.9,314.1 365.7,313.8 365.4,311.8 365.2,314.2 364.9,314.3 364.7,312.4 364.4,311.8 364.2,312.2 363.9,311.7 363.7,309.6 363.4,309.5 363.2,309.3 362.9,311.2 362.7,309.1 362.4,307.7 362.2,310.0 361.9,307.5 361.7,305.4 361.4,306.0 361.2,304.7 360.9,303.1 360.7,303.2 360.4,304.5 360.2,302.4 359.9,302.4 359.7,300.4 359.4,299.5 359.2,298.7 358.9,300.8 358.7,298.0 358.4,297.2 358.2,297.1 357.9,296.2 357.7,298.7 357.4,296.5 357.2,297.6 356.9,297.7 356.7,294.0 356.4,296.9 356.2,297.1 355.9,294.3 355.7,294.4 355.4,296.5 355.2,293.8 354.9,296.9 354.7,298.5 354.4,301.1 354.2,300.0 353.9,300.7 353.7,302.2 353.4,302.7 353.2,305.7 352.9,304.7 352.7,303.7 352.4,307.7 352.2,309.3 351.9,309.7 351.7,312.2 351.4,312.7 351.2,313.8 350.9,315.7 350.7,317.6 350.4,316.5 350.2,316.2 349.9,318.1 349.7,318.9 349.4,323.7 349.2,324.0 348.9,326.0 348.7,323.6 348.4,325.7 348.2,327.3 347.9,328.0 347.7,327.6 347.4,329.7 347.2,328.6 346.9,328.3 346.7,330.7 346.4,330.2 346.2,331.9 345.9,330.0 345.7,331.8 345.4,331.8 345.2,335.2 344.9,334.0 344.7,334.5 344.4,334.2 344.2,336.5 343.9,334.7 343.7,339.3 343.4,337.2 343.2,338.2 342.9,340.0 342.7,338.7 342.4,336.9 342.2,338.6 341.9,341.0 341.7,341.1 341.4,340.4 341.2,341.4 340.9,339.7 340.7,342.4 340.4,342.2 340.2,341.3 339.9,340.5 339.7,342.2 339.4,343.6 339.2,341.8 338.9,339.3 338.7,344.9 338.4,341.0 338.2,341.2 337.9,342.5 337.7,344.6 337.4,344.4 337.2,345.1 336.9,346.0 336.7,346.1 336.4,345.8 336.2,346.0 335.9,346.6 335.7,351.5 335.4,350.7 335.2,353.6 334.9,354.1 334.7,353.2 334.4,356.1 334.2,356.7 333.9,359.6 333.7,360.3 333.4,360.2 333.2,362.5 332.9,362.9 332.7,366.6 332.4,366.3 332.2,369.2 331.9,368.3 331.7,373.1 331.4,371.8 331.2,371.6 330.9,371.7 330.7,371.8 330.4,373.4 330.2,370.8 329.9,374.5 329.7,373.5 329.4,375.5 329.2,374.4 328.9,374.5 328.7,376.1 328.4,374.7 328.2,377.5 327.9,374.2 327.7,376.2 327.4,378.1 327.2,377.9 326.9,379.0 326.7,377.4 326.4,379.6 326.2,378.4 325.9,379.9 325.7,379.1 325.4,381.8 325.2,382.5 324.9,381.1 324.7,381.9 324.4,381.8 324.2,380.3 323.9,382.8 323.7,382.8 323.4,381.9 323.2,383.5 322.9,384.9 322.7,385.8 322.4,384.1 322.2,386.0 321.9,385.2 321.7,386.2 321.4,386.1 321.2,386.6 320.9,391.0 320.7,390.7 320.4,392.1 320.2,395.5 319.9,394.4 319.7,395.1 319.4,396.4 319.2,395.5 318.9,397.9 318.7,399.4 318.4,400.2 318.2,402.6 317.9,402.2 317.7,399.9 317.4,403.7 317.2,402.9 316.9,403.1 316.7,402.8 316.4,404.2 316.2,406.0 315.9,403.8 315.7,408.5 315.4,408.6 315.2,407.4 314.9,409.5 314.7,408.0 314.4,410.1 314.2,409.3 313.9,410.5 313.7,413.0 313.4,414.7 313.2,413.8 312.9,410.5 312.7,414.2 312.4,414.3 312.2,415.5 311.9,415.0 311.7,414.9 311.4,415.7 311.2,417.5 310.9,416.8 310.7,417.4 310.4,417.3 310.2,417.5 309.9,418.4 309.7,416.3 309.4,414.6 309.2,416.2 308.9,415.7 308.7,415.2 308.4,419.1 308.2,416.1 307.9,416.6 307.7,417.6 307.4,417.9 307.2,416.4 306.9,417.4 306.7,419.2 306.4,420.1 306.2,420.8 305.9,422.2 305.7,422.2 305.4,423.2 305.2,424.4 304.9,425.3 304.7,425.4 304.4,425.9 304.2,426.8 303.9,429.0 303.7,430.6 303.4,432.6 303.2,433.1 302.9,433.3 302.7,434.1 302.4,433.8 302.2,432.9 301.9,433.4 301.7,436.3 301.4,436.6 301.2,436.8 300.9,436.9 300.7,438.5 300.4,437.2 300.2,439.4 299.9,439.5 299.7,441.0 299.4,440.7 299.2,441.7 298.9,441.9 298.7,440.6 298.4,442.7 298.2,442.2 297.9,443.3 297.7,445.9 297.4,443.7 297.2,446.7 296.9,446.8 296.7,446.6 296.4,446.1 296.2,447.6 295.9,446.5 295.7,449.3 295.4,448.3 295.2,450.1 294.9,449.8 294.7,449.4 294.4,447.4 294.2,448.2 293.9,449.1 293.7,450.8 293.4,449.1 293.2,448.5 292.9,452.9 292.7,449.9 292.4,449.4 292.2,451.3 291.9,451.8 291.7,452.0 291.4,452.7 291.2,454.0 290.9,452.7 290.7,455.0 290.4,454.0 290.2,453.9 289.9,456.2 289.7,458.2 289.4,459.6 289.2,457.6 288.9,458.9 288.7,459.8 288.4,462.1 288.2,461.7 287.9,461.7 287.7,461.9 287.4,465.1 287.2,463.4 286.9,463.2 286.7,465.4 286.4,468.2 286.2,469.0 285.9,466.0 285.7,469.4 285.4,471.3 285.2,472.9 284.9,472.0 284.7,473.1 284.4,473.0 284.2,474.6 283.9,475.2 283.7,476.9 283.4,476.5 283.2,476.2 282.9,478.6 282.7,478.3 282.4,478.3 282.2,481.8 281.9,479.7 281.7,477.6 281.4,481.8 281.2,480.1 280.9,481.7 280.7,481.9 280.4,484.8 280.2,480.6 279.9,482.1 279.7,482.0 279.4,485.1 279.2,482.7 278.9,486.0 278.7,484.7 278.4,483.3 278.2,483.7 277.9,483.2 277.7,485.1 277.4,485.0 277.2,482.2 276.9,483.9 276.7,481.9 276.4,484.1 276.2,482.5 275.9,481.8 275.7,483.7 275.4,481.2 275.2,482.2 274.9,485.0 274.7,483.0 274.4,482.8 274.2,484.4 273.9,483.8 273.7,485.9 273.4,483.9 273.2,485.6 272.9,485.6 272.7,487.9 272.4,488.2 272.2,492.3 271.9,488.6 271.7,490.8 271.4,488.8 271.2,491.6 270.9,492.4 270.7,493.1 270.4,492.3 270.2,491.8 269.9,495.5 269.7,492.6 269.4,496.6 269.2,494.6 268.9,494.3 268.7,494.7 268.4,494.8 268.2,496.8 267.9,495.5 267.7,497.6 267.4,496.0 267.2,494.3 266.9,495.3 266.7,497.5 266.4,495.0 266.2,495.3 265.9,496.0 265.7,495.3 265.4,495.2 265.2,497.3 264.9,496.8 264.7,497.8 264.4,497.4 264.2,496.3 263.9,496.3 263.7,497.7 263.4,497.0 263.2,496.4 262.9,495.9 262.7,498.3 262.4,498.0 262.2,498.7 261.9,500.0 261.7,497.8 261.4,500.0 261.2,499.9 260.9,498.8 260.7,498.3 260.4,500.0 260.2,497.0 259.9,496.7 259.7,497.5 259.4,496.6 259.2,497.6 258.9,500.2 258.7,498.7 258.4,501.0 258.2,500.7 257.9,500.9 257.7,502.3 257.4,503.8 257.2,505.0 256.9,506.8 256.7,506.4 256.4,505.6 256.2,504.2 255.9,507.0 255.7,507.0 255.4,509.3 255.2,509.1 254.9,512.0 254.7,509.9 254.4,510.1 254.2,512.0 253.9,512.3 253.7,511.7 253.4,514.5 253.2,514.8 252.9,514.5 252.7,512.8 252.4,513.3 252.2,512.7 251.9,514.1 251.7,514.7 251.4,514.2 251.2,511.7 250.9,513.5 250.7,515.0 250.4,515.9 250.2,513.2 249.9,513.0 249.7,514.9 249.4,511.6 249.2,514.1 248.9,514.2 248.7,513.4 248.4,513.5 248.2,513.3 247.9,514.8 247.7,509.9 247.4,511.3 247.2,512.7 246.9,510.9 246.7,511.7 246.4,507.5 246.2,508.2 245.9,507.2 245.7,508.8 245.4,508.8 245.2,507.6 244.9,507.4 244.7,505.9 244.4,507.3 244.2,504.3 243.9,505.5 243.7,506.7 243.4,505.4 243.2,506.1 242.9,506.9 242.7,508.9 242.4,507.9 242.2,509.1 241.9,509.6 241.7,511.8 241.4,511.2 241.2,511.1 240.9,509.0 240.7,512.7 240.4,514.0 240.2,511.9 239.9,512.9 239.7,512.8 239.4,513.1 239.2,511.2 238.9,512.1 238.7,512.0 238.4,512.2 238.2,511.3 237.9,513.7 237.7,514.0 237.4,514.8 237.2,511.1 236.9,513.0 236.7,512.9 236.4,511.1 236.2,512.2 235.9,508.5 235.7,510.2 235.4,510.8 235.2,512.4 234.9,511.2 234.7,509.9 234.4,510.9 234.2,507.9 233.9,507.4 233.7,510.8 233.4,510.4 233.2,507.6 232.9,512.1 232.7,508.4 232.4,509.1 232.2,507.8 231.9,507.9 231.7,509.4 231.4,507.3 231.2,509.0 230.9,508.7 230.7,505.5 230.4,507.5 230.2,508.1 229.9,506.9 229.7,509.1 229.4,507.0 229.2,505.5 228.9,508.3 228.7,505.9 228.4,508.4 228.2,505.2 227.9,507.6 227.7,506.0 227.4,508.9 227.2,506.9 226.9,508.5 226.7,509.0 226.4,510.6 226.2,510.0 225.9,510.6 225.7,513.4 225.4,512.7 225.2,513.3 224.9,512.7 224.7,511.5 224.4,511.6 224.2,514.1 223.9,514.4 223.7,516.1 223.4,515.4 223.2,515.1 222.9,516.5 222.7,514.5 222.4,517.4 222.2,515.1 221.9,515.6 221.7,517.7 221.4,516.5 221.2,515.4 220.9,514.9 220.7,516.2 220.4,516.2 220.2,516.5 219.9,515.1 219.7,513.5 219.4,515.5 219.2,516.3 218.9,512.1 218.7,513.4 218.4,512.5 218.2,514.4 217.9,513.0 217.7,514.3 217.4,516.2 217.2,512.9 216.9,512.8 216.7,509.0 216.4,511.2 216.2,509.9 215.9,510.0 215.7,509.1 215.4,508.9 215.2,509.4 214.9,510.1 214.7,509.9 214.4,508.0 214.2,506.9 213.9,503.9 213.7,505.0 213.4,507.0 213.2,504.7 212.9,506.6 212.7,502.8 212.4,506.3 212.2,505.2 211.9,503.0 211.7,504.5 211.4,507.5 211.2,504.5 210.9,507.9 210.7,505.6 210.4,506.5 210.2,509.5 209.9,509.1 209.7,508.2 209.4,507.7 209.2,509.6 208.9,510.4 208.7,510.1 208.4,511.5 208.2,507.2 207.9,511.3 207.7,511.1 207.4,511.6 207.2,511.9 206.9,511.8 206.7,509.8 206.4,511.3 206.2,509.9 205.9,511.3 205.7,510.8 205.4,511.7 205.2,509.3 204.9,511.1 204.7,510.1 204.4,509.8 204.2,511.0 203.9,508.1 203.7,507.5 203.4,510.1 203.2,509.5 202.9,510.4 202.7,506.7 202.4,507.6 202.2,506.3 201.9,507.8 201.7,506.1 201.4,504.5 201.2,506.0 200.9,503.2 200.7,507.2 200.4,504.9 200.2,505.1 199.9,504.4 199.7,505.7 199.4,505.5 199.2,503.6 198.9,505.1 198.7,504.2 198.4,504.3 198.2,503.0 197.9,504.4 197.7,504.2 197.4,505.1 197.2,502.6 196.9,504.4 196.7,505.1 196.4,504.5 196.2,504.4 195.9,503.4 195.7,503.8 195.4,505.0 195.2,509.2 194.9,505.5 194.7,506.5 194.4,507.6 194.2,507.2 193.9,509.4 193.7,508.4 193.4,507.5 193.2,509.0 192.9,512.7 192.7,509.9 192.4,508.0 192.2,512.1 191.9,510.1 191.7,511.2 191.4,510.9 191.2,512.4 190.9,513.1 190.7,513.4 190.4,514.0 190.2,513.6 189.9,513.4 189.7,513.5 189.4,514.1 189.2,513.9 188.9,513.1 188.7,514.2 188.4,511.6 188.2,510.3 187.9,511.4 187.7,511.4 187.4,513.2 187.2,511.5 186.9,512.5 186.7,510.5 186.4,509.3 186.2,509.4 185.9,510.6 185.7,509.5 185.4,508.9 185.2,510.1 184.9,509.5 184.7,510.0 184.4,507.7 184.2,507.4 183.9,507.0 183.7,507.0 183.4,505.9 183.2,503.1 182.9,503.8 182.7,504.7 182.4,504.6 182.2,503.5 181.9,501.8 181.7,502.6 181.4,502.3 181.2,500.6 180.9,500.7 180.7,502.3 180.4,502.0 180.2,502.3 179.9,499.1 179.7,500.3 179.4,500.1 179.2,503.8 178.9,504.5 178.7,504.0 178.4,502.9 178.2,505.1 177.9,505.1 177.7,504.3 177.4,506.1 177.2,507.3 176.9,507.2 176.7,509.6 176.4,506.9 176.2,505.5 175.9,508.3 175.7,506.2 175.4,507.0 175.2,506.6 174.9,508.2 174.7,507.9 174.4,505.0 174.2,507.1 173.9,507.5 173.7,505.0 173.4,507.3 173.2,507.3 172.9,509.7 172.7,508.5 172.4,506.7 172.2,506.8 171.9,506.4 171.7,504.9 171.4,506.1 171.2,506.1 170.9,504.6 170.7,505.1 170.4,503.6 170.2,504.5 169.9,504.9 169.7,503.8 169.4,504.1 169.2,501.4 168.9,502.3 168.7,500.9 168.4,502.6 168.2,502.2 167.9,503.6 167.7,503.5 167.4,502.3 167.2,504.1 166.9,501.2 166.7,503.6 166.4,503.4 166.2,502.8 165.9,500.0 165.7,500.3 165.4,501.9 165.2,502.5 164.9,502.8 164.7,501.1 164.4,501.4 164.2,502.9 163.9,503.5 163.7,502.3 163.4,503.3 163.2,502.9 162.9,503.5 162.7,503.1 162.4,504.0 162.2,505.5 161.9,504.2 161.7,504.4 161.4,504.1 161.2,505.9 160.9,505.3 160.7,505.9 160.4,506.1 160.2,506.9 159.9,507.3 159.7,507.8 159.4,506.5 159.2,508.1 158.9,511.1 158.7,508.2 158.4,507.1 158.2,511.8 157.9,512.0 157.7,509.5 157.4,509.2 157.2,509.3 156.9,510.4 156.7,508.5 156.4,510.1 156.2,505.4 155.9,507.4 155.7,509.5 155.4,508.8 155.2,505.6 154.9,506.3 154.7,509.3 154.4,507.8 154.2,506.4 153.9,505.8 153.7,507.9 153.4,507.4 153.2,504.0 152.9,508.9 152.7,505.6 152.4,505.4 152.2,503.8 151.9,503.0 151.7,505.5 151.4,502.3 151.2,501.9 150.9,502.2 150.7,501.9 150.4,503.1 150.2,500.7 149.9,499.4 149.7,499.5 149.4,498.8 149.2,500.1 148.9,498.5 148.7,499.3 148.4,497.8 148.2,495.9 147.9,497.4 147.7,498.5 147.4,497.4 147.2,501.4 146.9,497.9 146.7,499.2 146.4,498.5 146.2,502.8 145.9,500.1 145.7,502.8 145.4,500.5 145.2,504.5 144.9,503.8 144.7,504.0 144.4,503.5 144.2,504.5 143.9,502.7 143.7,505.0 143.4,503.8 143.2,505.1 142.9,504.0 142.7,504.4 142.4,502.9 142.2,504.6 141.9,502.6 141.7,504.0 141.4,503.5 141.2,503.9 140.9,504.2 140.7,504.8 140.4,502.6 140.2,502.9 139.9,501.5 139.7,504.2 139.4,503.0 139.2,499.8 138.9,500.6 138.7,500.0 138.4,500.7 138.2,500.3 137.9,499.2 137.7,500.9 137.4,501.1 137.2,501.9 136.9,502.0 136.7,501.2 136.4,500.9 136.2,501.2 135.9,499.2 135.7,500.5 135.4,500.9 135.2,499.8 134.9,498.5 134.7,502.1 134.4,499.4 134.2,498.5 133.9,497.1 133.7,499.1 133.4,497.6 133.2,496.2 132.9,500.0 132.7,496.8 132.4,497.9 132.2,499.4 131.9,498.3 131.7,498.8 131.4,501.1 131.2,497.2 130.9,500.3 130.7,500.2 130.4,499.0 130.2,499.7 129.9,501.1 129.7,500.0 129.4,500.7 129.2,500.9 128.9,502.4 128.7,503.1 128.4,503.3 128.2,504.9 128.0,503.9 127.7,504.6 127.5,504.9 127.2,505.1 127.0,505.1 126.7,507.3 126.5,506.1 126.2,506.6 126.0,506.8 125.7,506.7 125.5,506.2 125.2,503.7 125.0,507.5 124.7,505.6 124.5,504.1 124.2,503.3 124.0,503.6 123.7,502.6 123.5,502.4 123.2,505.4 123.0,502.9 122.7,502.3 122.5,503.3 122.2,503.5 122.0,501.6 121.7,501.9 121.5,500.3 121.2,502.2 121.0,503.1 120.7,502.8Z" fill="#0072B2" fill-opacity="0.2" stroke="#0072B2" stroke-opacity="0.2" stroke-width="1.39" stroke-linejoin="round"/>
<g stroke="#808080" stroke-opacity="0.2" stroke-width="1.39" fill="none"><path d="M152.5,15.5V542.5"/><path d="M278.5,15.5V542.5"/><path d="M404.5,15.5V542.5"/><path d="M530.5,15.5V542.5"/><path d="M657.5,15.5V542.5"/><path d="M783.5,15.5V542.5"/><path d="M909.5,15.5V542.5"/><path d="M79.5,466.5H985.5"/><path d="M79.5,379.5H985.5"/><path d="M79.5,292.5H985.5"/><path d="M79.5,205.5H985.5"/><path d="M79.5,118.5H985.5"/><path d="M79.5,32.5H985.5"/></g>
<path d="M120.9,474.4h0 M121.3,474.2h0 M120.7,473.7h0 M121.9,473.9h0 M120.8,474.5h0 M121.3,474.6h0 M121.7,473.5h0 M120.8,473.9h0 M121.3,473.8h0 M121.6,475.1h0 M121.4,474.4h0 M121.4,474.9h0 M121.0,477.3h0 M121.6,477.9h0 M121.8,478.5h0 M122.8,478.1h0 M122.1,480.5h0 M122.3,482.2h0 M122.1,484.5h0 M122.3,484.7h0 M122.0,484.0h0 M121.7,484.1h0 M120.8,485.3h0 M120.7,485.5h0 M121.2,487.2h0 M121.0,486.5h0 M120.7,485.5h0 M121.3,484.6h0 M120.4,484.2h0 M120.8,481.8h0 M120.0,481.0h0 M120.8,480.3h0 M122.1,480.9h0 M121.8,480.5h0 M120.8,480.8h0 M121.0,479.4h0 M119.9,479.2h0 M120.6,478.6h0 M120.7,477.5h0 M120.8,478.8h0 M121.5,478.6h0 M122.3,476.4h0 M122.4,475.8h0 M122.2,476.0h0 M122.5,474.0h0 M122.6,472.5h0 M122.2,471.7h0 M122.1,470.7h0 M121.5,472.5h0 M121.2,471.6h0 M121.1,471.4h0 M120.8,470.1h0 M121.5,469.4h0 M120.5,468.8h0 M120.4,468.4h0 M120.6,468.9h0 M121.1,465.2h0 M121.0,466.1h0 M120.6,466.0h0 M121.4,464.5h0 M121.4,463.9h0 M122.4,466.1h0 M122.3,466.3h0 M122.5,466.1h0 M123.7,467.3h0 M123.3,467.5h0 M123.8,470.2h0 M124.0,471.4h0 M124.9,471.5h0 M124.3,471.1h0 M125.9,470.9h0 M125.3,473.0h0 M124.3,473.5h0 M124.6,475.4h0 M124.4,476.8h0 M124.4,477.0h0 M123.6,477.1h0 M124.4,476.8h0 M125.1,477.4h0 M124.5,476.5h0 M125.0,478.2h0 M126.5,477.6h0 M126.4,478.0h0 M126.4,478.5h0 M126.6,479.9h0 M127.8,480.6h0 M127.2,480.4h0 M127.1,479.9h0 M125.8,479.2h0 M126.2,480.6h0 M127.6,484.0h0 M126.6,484.0h0 M126.5,485.5h0 M126.7,487.0h0 M126.3,489.4h0 M126.2,489.9h0 M126.1,490.7h0 M127.0,491.0h0 M126.3,489.7h0 M126.5,489.3h0 M126.4,488.4h0 M126.4,489.1h0 M126.3,490.0h0 M124.9,491.4h0 M125.3,491.9h0 M126.7,491.8h0 M126.2,492.4h0 M126.6,492.8h0 M127.8,491.6h0 M128.0,489.9h0 M128.9,492.7h0 M129.6,490.4h0 M130.6,489.6h0 M129.7,489.7h0 M129.6,490.5h0 M130.6,488.3h0 M130.8,489.0h0 M131.0,489.8h0 M130.7,490.3h0 M130.9,489.2h0 M131.1,489.0h0 M131.2,488.4h0 M131.5,488.3h0 M132.1,487.0h0 M132.8,484.3h0 M133.6,484.6h0 M133.7,484.6h0 M133.8,482.4h0 M132.8,482.4h0 M133.5,480.5h0 M132.7,481.5h0 M132.5,480.3h0 M131.6,480.7h0 M131.6,479.5h0 M133.4,479.0h0 M133.0,478.7h0 M133.6,478.9h0 M133.6,478.3h0 M132.9,476.7h0 M134.2,476.2h0 M133.2,473.3h0 M134.5,473.6h0 M134.2,473.7h0 M133.8,472.8h0 M133.3,472.7h0 M133.5,472.7h0 M133.8,472.7h0 M135.3,472.9h0 M135.4,472.6h0 M136.7,472.3h0 M136.5,472.1h0 M136.7,471.9h0 M138.3,470.7h0 M138.7,470.9h0 M138.5,470.0h0 M139.8,470.6h0 M139.6,470.5h0 M138.8,469.9h0 M139.2,470.9h0 M142.8,472.1h0 M143.0,472.6h0 M141.4,474.4h0 M140.7,473.8h0 M140.3,474.1h0 M139.8,475.5h0 M140.1,476.3h0 M139.7,476.6h0 M140.2,476.9h0 M141.3,478.0h0 M141.2,479.0h0 M143.2,479.6h0 M143.3,480.3h0 M143.7,480.2h0 M145.2,479.7h0 M145.5,480.6h0 M144.4,481.3h0 M145.0,481.7h0 M145.1,481.1h0 M146.4,482.7h0 M146.4,482.2h0 M145.8,482.0h0 M146.3,484.7h0 M145.8,482.8h0 M146.2,484.7h0 M146.1,487.1h0 M145.3,486.8h0 M145.6,488.0h0 M146.0,486.8h0 M144.8,488.8h0 M144.6,490.6h0 M144.2,490.8h0 M145.4,492.2h0 M146.1,492.7h0 M146.7,492.4h0 M146.8,490.4h0 M147.3,491.2h0 M148.4,492.0h0 M148.4,491.0h0 M148.4,491.4h0 M147.8,489.6h0 M148.0,490.1h0 M149.2,489.6h0 M149.0,490.0h0 M149.5,490.2h0 M149.9,489.2h0 M150.3,486.5h0 M150.9,486.4h0 M149.9,487.7h0 M149.6,487.6h0 M148.4,487.5h0 M149.7,486.3h0 M149.9,483.7h0 M150.0,483.7h0 M149.4,482.0h0 M151.3,481.0h0 M151.2,481.4h0 M150.7,481.5h0 M150.6,483.0h0 M150.7,480.9h0 M150.2,478.2h0 M151.8,478.5h0 M152.8,477.8h0 M152.5,478.0h0 M152.0,478.3h0 M152.3,478.4h0 M153.2,478.4h0 M151.9,478.6h0 M152.2,480.5h0 M151.4,481.0h0 M150.9,480.0h0 M151.3,479.0h0 M151.8,478.7h0 M152.5,479.3h0 M153.5,478.4h0 M154.2,478.0h0 M155.2,478.7h0 M156.4,477.5h0 M156.1,478.5h0 M157.4,480.4h0 M157.7,483.0h0 M158.4,483.0h0 M157.6,482.0h0 M158.3,480.3h0 M157.6,480.3h0 M159.0,480.1h0 M158.6,481.8h0 M160.6,482.8h0 M160.9,482.3h0 M160.1,481.0h0 M161.6,480.8h0 M161.7,479.6h0 M162.2,480.6h0 M162.3,481.5h0 M162.6,482.0h0 M162.8,484.1h0 M164.0,484.8h0 M164.2,483.5h0 M164.0,483.4h0 M165.2,483.3h0 M165.0,482.3h0 M165.7,481.3h0 M165.8,481.0h0 M166.6,479.7h0 M166.1,481.6h0 M165.2,480.4h0 M164.5,478.4h0 M166.5,479.1h0 M167.0,478.9h0 M166.2,478.8h0 M165.4,477.9h0 M165.8,477.6h0 M165.9,476.4h0 M165.7,478.3h0 M167.8,477.1h0 M168.2,474.1h0 M169.2,474.6h0 M169.2,473.9h0 M168.7,472.9h0 M168.1,474.5h0 M168.7,476.1h0 M169.4,475.6h0 M169.9,477.3h0 M170.3,476.7h0 M170.7,477.3h0 M170.2,477.5h0 M170.5,478.7h0 M171.5,478.3h0 M172.9,477.4h0 M174.2,479.6h0 M174.6,478.7h0 M174.6,480.2h0 M175.0,478.1h0 M175.1,479.5h0 M176.2,477.4h0 M174.3,475.5h0 M175.4,476.2h0 M176.2,475.9h0 M177.5,477.3h0 M176.9,478.1h0 M178.3,480.5h0 M176.9,480.7h0 M175.4,481.2h0 M175.6,480.5h0 M175.9,481.8h0 M176.6,480.8h0 M176.5,480.0h0 M176.6,480.9h0 M176.6,480.9h0 M177.7,480.6h0 M177.4,480.9h0 M177.4,482.4h0 M178.9,484.2h0 M178.9,486.8h0 M179.7,486.1h0 M179.4,487.6h0 M179.2,488.7h0 M179.0,489.5h0 M180.0,490.7h0 M179.3,490.0h0 M180.4,490.8h0 M181.1,491.5h0 M183.0,492.5h0 M183.1,491.5h0 M183.0,489.2h0 M183.7,488.6h0 M185.0,488.5h0 M184.8,487.4h0 M184.7,488.9h0 M186.2,488.5h0 M186.9,489.0h0 M186.8,488.7h0 M187.8,487.6h0 M188.2,486.6h0 M188.6,488.6h0 M189.0,486.9h0 M189.1,486.8h0 M189.9,486.6h0 M189.1,485.9h0 M189.8,486.8h0 M190.1,485.6h0 M190.3,486.4h0 M189.3,486.9h0 M188.9,486.3h0 M189.9,486.2h0 M190.4,485.8h0 M190.3,486.1h0 M190.6,485.3h0 M191.0,484.5h0 M192.0,483.8h0 M192.3,484.3h0 M192.2,482.2h0 M192.2,481.2h0 M192.1,480.1h0 M192.7,480.5h0 M194.3,481.4h0 M194.3,482.7h0 M195.2,481.6h0 M195.2,482.2h0 M194.9,481.4h0 M196.0,481.7h0 M196.2,480.3h0 M196.3,481.1h0 M196.4,480.0h0 M195.7,479.8h0 M196.8,478.4h0 M198.0,478.2h0 M199.0,476.3h0 M199.0,476.5h0 M199.6,475.1h0 M199.4,476.5h0 M199.5,477.6h0 M199.6,478.4h0 M199.7,479.8h0 M199.5,480.2h0 M200.3,480.9h0 M199.6,481.8h0 M199.9,482.4h0 M199.9,482.8h0 M200.4,482.2h0 M200.6,482.2h0 M201.8,482.8h0 M202.0,484.2h0 M201.7,482.7h0 M202.8,481.0h0 M202.0,479.6h0 M202.0,479.9h0 M203.2,481.7h0 M202.2,480.7h0 M202.6,480.1h0 M203.3,479.0h0 M204.0,479.2h0 M203.5,478.8h0 M204.1,480.4h0 M203.9,481.1h0 M204.9,480.2h0 M205.5,482.8h0 M206.6,484.2h0 M207.8,484.0h0 M207.3,482.1h0 M207.6,481.7h0 M208.5,483.2h0 M209.7,483.2h0 M209.9,483.4h0 M210.1,484.4h0 M211.8,483.8h0 M212.2,482.4h0 M211.7,482.5h0 M212.7,483.9h0 M213.0,485.4h0 M213.3,484.8h0 M212.7,485.4h0 M213.1,485.5h0 M214.1,486.6h0 M215.5,485.0h0 M215.5,485.9h0 M215.5,487.7h0 M215.8,486.2h0 M216.0,485.6h0 M215.4,487.3h0 M215.4,488.8h0 M216.3,489.8h0 M217.2,489.1h0 M217.2,489.3h0 M217.1,489.0h0 M217.6,489.5h0 M218.5,488.7h0 M217.4,489.5h0 M218.7,490.9h0 M219.5,490.4h0 M220.0,491.0h0 M220.7,492.7h0 M220.8,492.7h0 M220.9,494.4h0 M220.9,493.2h0 M222.6,492.4h0 M222.8,492.6h0 M223.7,493.4h0 M223.1,494.4h0 M222.6,495.8h0 M223.4,495.8h0 M223.7,496.0h0 M224.7,494.2h0 M224.7,493.4h0 M226.1,492.4h0 M225.9,493.8h0 M226.7,493.1h0 M226.5,493.3h0 M226.9,492.3h0 M226.9,493.6h0 M227.5,495.4h0 M228.5,494.9h0 M229.5,493.7h0 M228.2,493.6h0 M230.0,495.1h0 M229.5,495.4h0 M229.6,496.0h0 M230.8,496.6h0 M231.0,496.5h0 M231.3,496.6h0 M231.2,494.8h0 M230.1,494.8h0 M230.6,494.7h0 M232.0,496.0h0 M233.4,495.6h0 M233.7,493.3h0 M233.5,494.2h0 M233.5,494.5h0 M233.5,493.8h0 M234.1,492.9h0 M234.0,493.1h0 M234.5,491.9h0 M236.0,491.8h0 M236.6,491.0h0 M236.3,490.9h0 M236.6,489.4h0 M235.7,490.5h0 M236.8,489.2h0 M237.3,489.4h0 M237.8,492.2h0 M237.6,492.4h0 M239.2,491.6h0 M239.8,491.7h0 M239.9,491.5h0 M240.3,491.3h0 M241.6,492.6h0 M242.1,491.4h0 M242.5,491.5h0 M241.6,490.1h0 M241.9,488.3h0 M242.7,488.2h0 M242.6,489.1h0 M243.4,489.0h0 M243.2,488.9h0 M243.3,487.7h0 M242.9,489.3h0 M243.8,488.9h0 M243.7,489.2h0 M243.9,489.5h0 M243.7,488.2h0 M243.8,488.3h0 M243.8,488.4h0 M244.8,487.3h0 M244.4,487.3h0 M244.3,486.4h0 M244.4,487.2h0 M244.9,487.5h0 M246.3,489.0h0 M247.1,488.3h0 M247.0,487.0h0 M247.5,486.0h0 M248.0,485.1h0 M248.6,486.1h0 M249.6,484.5h0 M249.8,485.5h0 M251.3,484.6h0 M252.1,486.9h0 M251.3,488.2h0 M252.6,488.9h0 M250.9,488.4h0 M251.5,488.9h0 M250.8,489.4h0 M250.5,488.2h0 M252.1,485.2h0 M251.0,484.6h0 M251.7,485.1h0 M252.0,485.3h0 M253.3,483.0h0 M254.2,482.4h0 M254.9,483.1h0 M254.6,482.3h0 M255.7,481.5h0 M256.0,482.0h0 M256.3,480.8h0 M256.6,479.2h0 M256.5,478.7h0 M256.3,477.5h0 M256.1,478.4h0 M257.2,478.4h0 M257.1,480.0h0 M256.0,478.8h0 M256.7,479.3h0 M257.7,479.7h0 M259.1,478.1h0 M258.5,476.5h0 M259.4,477.6h0 M259.8,477.4h0 M260.9,478.1h0 M260.6,478.4h0 M260.9,479.2h0 M262.1,479.3h0 M262.5,478.9h0 M263.1,476.3h0 M263.2,477.5h0 M263.6,478.0h0 M264.4,478.8h0 M262.9,478.9h0 M263.9,478.9h0 M264.0,480.4h0 M264.5,479.5h0 M265.3,480.0h0 M265.4,481.2h0 M266.7,481.0h0 M266.0,482.3h0 M266.8,480.7h0 M266.6,480.9h0 M267.1,480.9h0 M267.7,476.8h0 M266.9,477.0h0 M267.0,478.0h0 M268.1,475.3h0 M268.0,476.3h0 M267.6,474.0h0 M269.5,471.1h0 M270.6,470.8h0 M269.8,471.3h0 M270.8,469.9h0 M270.9,471.2h0 M271.0,470.8h0 M271.2,471.4h0 M270.9,471.0h0 M271.4,471.0h0 M271.3,470.7h0 M272.0,470.1h0 M271.4,469.5h0 M271.0,467.9h0 M270.8,468.3h0 M272.7,467.0h0 M272.3,467.0h0 M271.4,466.3h0 M273.4,465.2h0 M272.4,464.6h0 M274.2,464.9h0 M274.0,463.0h0 M273.0,466.0h0 M273.4,465.7h0 M274.4,465.9h0 M274.8,464.2h0 M273.1,464.1h0 M274.0,462.2h0 M274.2,460.0h0 M275.1,459.8h0 M273.8,460.3h0 M273.7,459.9h0 M273.0,461.6h0 M273.2,459.7h0 M273.1,458.4h0 M273.3,458.3h0 M273.8,456.6h0 M273.6,457.1h0 M275.2,458.4h0 M275.5,456.6h0 M277.0,455.6h0 M278.5,454.1h0 M277.8,453.8h0 M277.6,451.8h0 M277.8,452.4h0 M276.3,451.8h0 M277.0,452.6h0 M277.2,453.4h0 M277.1,452.0h0 M278.4,453.8h0 M277.5,455.1h0 M277.9,454.7h0 M278.7,455.7h0 M279.5,457.2h0 M279.7,456.9h0 M279.6,457.1h0 M278.7,458.8h0 M279.0,460.8h0 M280.2,461.3h0 M281.2,460.4h0 M280.9,461.1h0 M282.6,461.2h0 M282.7,462.0h0 M282.8,462.3h0 M283.8,463.2h0 M282.9,464.1h0 M281.7,462.5h0 M282.4,461.3h0 M282.8,460.8h0 M284.4,460.8h0 M283.9,460.3h0 M283.8,458.6h0 M284.9,457.2h0 M284.1,458.9h0 M284.1,458.5h0 M284.7,457.3h0 M284.1,457.5h0 M284.0,455.5h0 M284.4,454.3h0 M284.7,453.3h0 M285.1,451.8h0 M284.4,450.0h0 M283.3,450.6h0 M283.5,450.8h0 M284.1,449.2h0 M284.0,450.0h0 M282.8,446.8h0 M283.7,446.5h0 M283.6,446.7h0 M283.6,446.7h0 M283.8,446.0h0 M284.5,445.1h0 M283.9,443.7h0 M284.9,444.0h0 M284.7,443.5h0 M282.8,442.0h0 M283.9,441.1h0 M284.8,441.3h0 M285.4,441.1h0 M285.4,440.2h0 M285.5,438.4h0 M285.8,437.5h0 M285.2,439.0h0 M285.3,439.4h0 M285.5,439.2h0 M286.5,438.6h0 M286.1,436.5h0 M287.2,436.4h0 M286.9,434.4h0 M288.0,434.4h0 M286.8,433.8h0 M287.6,434.2h0 M287.9,434.3h0 M287.6,432.4h0 M288.3,432.3h0 M287.7,433.3h0 M286.9,430.2h0 M288.5,429.5h0 M288.9,428.3h0 M288.4,427.3h0 M289.2,427.6h0 M289.6,429.9h0 M291.2,428.8h0 M289.7,426.9h0 M290.0,424.9h0 M289.9,423.6h0 M290.0,424.5h0 M289.9,424.4h0 M290.0,423.5h0 M290.5,420.7h0 M292.1,420.7h0 M292.1,419.6h0 M292.4,419.6h0 M292.9,417.9h0 M292.0,418.2h0 M292.0,417.6h0 M291.9,416.6h0 M293.5,417.2h0 M293.2,417.0h0 M294.6,417.1h0 M295.2,417.6h0 M296.0,417.7h0 M297.4,416.1h0 M298.1,415.5h0 M297.0,416.1h0 M297.3,415.0h0 M297.4,415.2h0 M297.6,413.9h0 M298.6,413.7h0 M298.1,412.8h0 M297.3,414.6h0 M296.9,414.2h0 M297.8,412.2h0 M298.3,410.5h0 M296.6,410.1h0 M296.9,410.1h0 M296.7,408.6h0 M297.5,409.3h0 M298.0,409.8h0 M298.7,407.9h0 M299.5,407.4h0 M298.5,407.5h0 M297.7,406.4h0 M297.2,406.9h0 M297.2,405.8h0 M297.8,404.7h0 M298.3,404.0h0 M299.6,402.9h0 M299.1,403.8h0 M299.5,402.6h0 M299.9,403.2h0 M299.3,403.2h0 M300.1,401.3h0 M299.9,400.0h0 M299.5,399.1h0 M301.1,398.2h0 M301.1,398.8h0 M301.8,397.0h0 M301.6,397.3h0 M302.9,396.9h0 M303.0,396.4h0 M303.0,397.2h0 M303.8,397.0h0 M303.4,394.2h0 M303.1,393.0h0 M301.7,391.8h0 M303.3,392.2h0 M304.0,391.7h0 M304.3,392.2h0 M305.2,395.0h0 M307.2,394.0h0 M306.1,395.1h0 M306.2,397.2h0 M305.8,396.1h0 M306.9,397.2h0 M305.3,397.6h0 M306.1,397.1h0 M306.4,397.5h0 M306.3,396.0h0 M306.9,396.3h0 M305.7,397.6h0 M306.1,400.9h0 M304.7,399.5h0 M304.1,402.1h0 M304.8,401.2h0 M305.6,401.2h0 M304.8,403.0h0 M303.8,404.5h0 M305.8,404.0h0 M306.3,403.2h0 M307.3,404.7h0 M306.7,404.1h0 M306.0,405.9h0 M306.3,407.7h0 M306.9,409.4h0 M306.9,410.0h0 M307.7,411.0h0 M307.0,410.6h0 M306.2,412.3h0 M305.7,412.1h0 M307.3,411.9h0 M305.8,414.0h0 M306.2,414.9h0 M306.3,414.6h0 M306.7,411.6h0 M306.7,412.9h0 M307.7,409.3h0 M307.8,410.6h0 M307.2,411.2h0 M308.2,409.9h0 M308.1,409.0h0 M308.5,410.3h0 M309.0,411.1h0 M308.6,409.5h0 M308.9,408.2h0 M309.7,408.5h0 M310.0,407.9h0 M309.6,406.2h0 M309.6,405.3h0 M309.8,404.7h0 M310.0,404.8h0 M310.4,403.2h0 M310.7,402.6h0 M310.9,400.0h0 M310.5,400.1h0 M311.2,400.2h0 M310.7,400.5h0 M311.0,399.3h0 M311.1,398.3h0 M311.2,398.1h0 M312.1,398.8h0 M312.2,395.9h0 M311.2,394.6h0 M312.2,393.5h0 M311.6,392.5h0 M311.1,391.8h0 M311.7,391.0h0 M312.3,390.9h0 M313.6,391.3h0 M312.7,391.5h0 M314.4,390.5h0 M314.4,392.4h0 M313.8,389.4h0 M314.3,388.9h0 M314.8,389.1h0 M314.0,388.1h0 M313.0,387.8h0 M314.0,386.1h0 M313.9,386.1h0 M313.6,385.0h0 M314.7,385.1h0 M315.5,382.9h0 M316.2,383.8h0 M316.3,381.5h0 M315.1,381.1h0 M315.2,379.6h0 M314.6,378.0h0 M314.8,379.9h0 M315.5,379.0h0 M315.8,378.1h0 M315.7,380.2h0 M315.7,379.7h0 M315.8,377.2h0 M315.7,377.9h0 M315.1,375.7h0 M315.2,375.5h0 M315.8,378.2h0 M316.1,378.5h0 M316.2,377.5h0 M316.7,374.6h0 M316.9,375.8h0 M316.7,375.4h0 M315.6,374.4h0 M316.4,372.8h0 M315.8,373.4h0 M316.8,372.4h0 M317.9,372.6h0 M318.3,371.7h0 M319.2,369.3h0 M317.9,367.8h0 M317.9,367.9h0 M318.7,368.5h0 M319.1,367.6h0 M320.0,367.9h0 M318.9,368.5h0 M319.9,369.7h0 M319.6,368.7h0 M320.0,367.1h0 M319.7,366.2h0 M319.6,364.7h0 M318.2,364.5h0 M319.3,361.4h0 M318.6,361.7h0 M319.4,360.0h0 M320.7,359.4h0 M321.2,357.6h0 M322.0,356.2h0 M320.1,356.5h0 M319.5,356.3h0 M319.3,356.5h0 M318.2,357.3h0 M318.8,357.5h0 M318.8,356.6h0 M318.6,355.7h0 M319.0,354.7h0 M319.3,352.9h0 M319.5,354.5h0 M318.9,353.4h0 M319.7,353.4h0 M319.2,352.6h0 M318.8,351.3h0 M319.4,351.6h0 M320.2,350.6h0 M320.1,349.7h0 M319.3,352.0h0 M319.7,353.8h0 M319.2,353.6h0 M318.7,354.1h0 M318.1,354.6h0 M318.1,355.2h0 M317.6,355.0h0 M317.3,356.6h0 M317.7,358.3h0 M317.1,354.8h0 M318.0,356.2h0 M318.0,358.0h0 M318.8,357.8h0 M318.9,359.4h0 M319.6,359.9h0 M319.1,361.4h0 M320.2,361.5h0 M320.9,360.5h0 M320.4,360.5h0 M319.6,359.5h0 M321.4,360.3h0 M321.8,362.7h0 M320.8,363.9h0 M322.9,365.2h0 M322.2,364.4h0 M322.2,365.4h0 M323.7,365.0h0 M323.9,364.3h0 M323.6,366.4h0 M322.9,366.8h0 M323.2,364.3h0 M324.3,366.3h0 M324.0,366.9h0 M323.8,368.1h0 M323.4,366.8h0 M323.6,367.2h0 M323.9,368.7h0 M323.4,369.9h0 M323.8,370.9h0 M322.8,371.9h0 M322.4,370.6h0 M322.4,371.1h0 M321.6,373.6h0 M322.0,374.4h0 M322.0,375.8h0 M322.9,377.5h0 M322.7,377.7h0 M322.9,377.0h0 M322.1,377.4h0 M322.5,378.4h0 M321.3,377.4h0 M322.0,378.8h0 M322.5,380.7h0 M323.1,381.9h0 M322.9,381.5h0 M322.9,382.7h0 M322.4,384.0h0 M323.7,384.8h0 M323.8,385.1h0 M323.5,387.0h0 M323.0,386.3h0 M323.4,388.0h0 M324.0,387.3h0 M325.4,388.4h0 M326.3,388.2h0 M325.7,387.5h0 M324.7,389.2h0 M324.1,389.2h0 M323.9,389.3h0 M323.1,389.5h0 M322.5,387.9h0 M323.4,387.5h0 M322.9,385.5h0 M324.0,385.7h0 M323.9,387.2h0 M324.0,387.4h0 M325.9,385.4h0 M325.4,385.6h0 M325.5,383.3h0 M325.3,382.8h0 M324.9,382.3h0 M324.5,380.4h0 M325.0,380.6h0 M325.9,380.7h0 M325.6,379.3h0 M324.4,379.9h0 M323.6,379.9h0 M324.4,379.7h0 M324.7,377.5h0 M325.9,378.8h0 M326.3,377.6h0 M326.3,376.0h0 M325.9,376.3h0 M327.1,376.1h0 M327.1,376.0h0 M326.4,375.1h0 M326.4,372.4h0 M327.1,371.1h0 M326.6,370.6h0 M327.1,371.1h0 M327.9,368.7h0 M328.2,368.0h0 M328.3,368.2h0 M328.7,368.6h0 M328.0,367.6h0 M327.6,368.2h0 M327.6,366.7h0 M328.0,366.8h0 M327.5,365.9h0 M328.0,365.0h0 M328.3,363.5h0 M328.4,361.8h0 M327.3,360.1h0 M327.7,360.9h0 M328.4,359.4h0 M328.0,360.1h0 M328.1,360.4h0 M328.6,359.7h0 M329.7,358.3h0 M329.8,356.8h0 M330.0,355.1h0 M329.9,356.0h0 M330.1,355.2h0 M329.9,354.1h0 M330.0,355.3h0 M330.6,354.0h0 M330.8,355.3h0 M330.8,354.5h0 M330.3,354.2h0 M330.3,354.6h0 M330.0,354.8h0 M331.3,353.6h0 M330.7,352.6h0 M331.6,352.1h0 M331.3,351.1h0 M331.7,351.7h0 M331.9,349.5h0 M331.9,349.6h0 M333.0,350.0h0 M334.2,347.3h0 M334.5,345.3h0 M334.8,346.6h0 M334.9,344.9h0 M335.0,343.7h0 M335.6,344.0h0 M335.5,343.2h0 M335.1,342.9h0 M335.0,342.5h0 M334.0,342.2h0 M334.3,340.9h0 M335.5,339.9h0 M335.0,340.1h0 M334.4,339.9h0 M334.9,339.0h0 M334.5,338.0h0 M333.9,337.6h0 M333.7,337.4h0 M333.7,336.0h0 M334.1,334.3h0 M336.1,333.2h0 M335.9,331.3h0 M336.8,332.0h0 M336.8,333.1h0 M337.1,332.1h0 M337.0,333.0h0 M336.2,330.2h0 M337.0,331.9h0 M337.5,330.5h0 M337.3,331.4h0 M338.0,329.5h0 M338.5,327.6h0 M339.3,327.5h0 M338.4,327.5h0 M338.6,326.6h0 M338.0,325.4h0 M337.7,324.6h0 M337.0,323.6h0 M337.1,323.0h0 M337.5,323.7h0 M339.0,324.4h0 M339.2,325.0h0 M338.8,323.5h0 M338.0,325.2h0 M337.6,323.4h0 M337.2,324.7h0 M337.7,325.9h0 M339.0,325.1h0 M339.6,328.6h0 M337.8,329.2h0 M338.6,328.6h0 M338.3,330.0h0 M337.2,328.9h0 M337.7,331.0h0 M338.0,331.4h0 M338.1,331.0h0 M337.8,331.3h0 M337.3,332.2h0 M337.0,335.1h0 M336.8,335.1h0 M336.4,336.2h0 M339.0,337.3h0 M337.4,339.9h0 M340.0,339.3h0 M340.1,338.7h0 M339.7,339.1h0 M339.5,337.6h0 M339.3,337.5h0 M339.7,335.7h0 M339.9,334.7h0 M341.4,334.9h0 M341.2,333.9h0 M341.7,333.2h0 M342.6,333.9h0 M341.8,333.6h0 M341.0,331.3h0 M340.6,331.0h0 M340.3,332.9h0 M339.9,332.4h0 M339.5,333.1h0 M340.0,333.0h0 M340.7,331.7h0 M340.0,329.8h0 M339.4,330.3h0 M337.9,330.4h0 M338.7,327.3h0 M337.5,324.3h0 M337.4,323.4h0 M338.3,323.3h0 M338.8,323.1h0 M338.9,322.0h0 M339.9,324.0h0 M339.8,324.2h0 M339.2,323.9h0 M339.4,323.1h0 M339.3,323.7h0 M338.9,321.3h0 M339.3,320.1h0 M339.1,319.6h0 M339.6,319.2h0 M340.4,317.8h0 M340.1,315.7h0 M339.9,315.0h0 M339.8,314.1h0 M339.7,312.4h0 M339.5,312.8h0 M339.3,312.1h0 M339.8,310.8h0 M340.2,311.7h0 M339.8,312.8h0 M337.9,312.2h0 M338.4,309.9h0 M339.2,308.7h0 M340.0,307.9h0 M340.5,306.7h0 M341.0,304.6h0 M341.0,306.2h0 M340.5,304.8h0 M341.2,305.1h0 M339.4,306.4h0 M339.2,305.2h0 M339.4,306.8h0 M339.3,305.0h0 M339.1,305.0h0 M339.4,304.9h0 M339.2,304.5h0 M338.9,304.4h0 M339.1,303.2h0 M339.7,301.5h0 M339.8,301.6h0 M340.6,301.4h0 M340.8,303.1h0 M339.6,302.4h0 M339.5,301.9h0 M340.6,301.3h0 M341.5,302.3h0 M342.2,301.8h0 M341.2,300.9h0 M341.8,299.6h0 M342.6,298.8h0 M342.7,300.1h0 M342.6,300.8h0 M342.3,299.8h0 M342.4,300.8h0 M342.5,300.4h0 M341.8,300.9h0 M341.4,301.3h0 M341.2,302.4h0 M341.3,303.1h0 M341.2,302.4h0 M340.7,301.7h0 M341.2,302.7h0 M341.9,304.0h0 M342.0,306.7h0 M341.5,307.4h0 M342.4,304.5h0 M342.0,304.9h0 M342.1,306.5h0 M342.6,307.6h0 M342.5,309.6h0 M343.6,310.7h0 M344.3,310.9h0 M344.2,313.6h0 M343.7,314.7h0 M343.6,315.3h0 M343.2,314.3h0 M342.9,315.3h0 M343.6,315.7h0 M343.1,314.1h0 M344.1,316.4h0 M344.7,317.0h0 M345.5,318.0h0 M345.1,316.8h0 M345.4,316.9h0 M346.5,316.7h0 M346.4,318.4h0 M347.0,318.7h0 M346.2,317.3h0 M346.6,316.0h0 M346.6,317.7h0 M346.7,317.6h0 M347.7,321.5h0 M347.5,322.8h0 M346.8,325.0h0 M347.7,324.0h0 M347.3,324.2h0 M346.3,324.8h0 M347.3,325.6h0 M347.1,325.7h0 M347.8,325.6h0 M345.9,326.8h0 M346.5,328.9h0 M346.4,329.7h0 M347.1,329.2h0 M346.7,329.7h0 M347.8,328.6h0 M346.5,328.2h0 M346.9,324.6h0 M345.8,324.2h0 M346.3,323.0h0 M346.3,321.8h0 M346.0,321.2h0 M345.8,321.4h0 M346.3,320.2h0 M347.0,319.2h0 M348.0,320.0h0 M347.9,321.0h0 M348.5,319.8h0 M348.6,318.2h0 M349.5,319.4h0 M349.9,318.0h0 M348.3,316.9h0 M348.6,318.6h0 M348.3,319.1h0 M347.5,316.5h0 M348.0,315.7h0 M348.1,314.9h0 M348.7,314.7h0 M347.8,315.5h0 M348.6,312.5h0 M349.4,313.0h0 M349.2,312.8h0 M349.0,312.6h0 M348.5,313.4h0 M348.0,312.6h0 M348.2,311.0h0 M348.4,310.4h0 M347.7,309.3h0 M348.6,308.2h0 M348.5,308.5h0 M348.9,306.4h0 M350.0,306.7h0 M349.2,306.9h0 M350.2,305.7h0 M349.3,303.0h0 M349.5,302.4h0 M348.8,300.9h0 M349.8,300.7h0 M349.3,299.2h0 M349.4,298.3h0 M349.7,298.7h0 M349.5,298.0h0 M349.9,298.8h0 M349.2,300.0h0 M349.3,298.9h0 M349.5,297.2h0 M351.1,295.2h0 M350.1,295.7h0 M350.6,296.2h0 M350.7,295.8h0 M350.7,293.6h0 M350.5,293.1h0 M350.0,292.7h0 M351.4,291.2h0 M350.0,291.0h0 M349.6,291.3h0 M349.4,289.7h0 M349.2,289.2h0 M349.4,289.0h0 M348.3,290.2h0 M349.2,290.1h0 M350.4,290.3h0 M350.2,288.1h0 M349.6,286.6h0 M349.4,287.0h0 M349.3,287.9h0 M350.9,286.2h0 M350.2,285.6h0 M350.8,284.7h0 M350.9,285.6h0 M351.6,287.3h0 M352.1,287.5h0 M353.5,289.0h0 M352.9,290.7h0 M352.7,291.8h0 M353.9,292.0h0 M353.5,293.2h0 M353.8,292.4h0 M353.8,291.5h0 M352.7,292.0h0 M353.7,289.9h0 M353.7,290.9h0 M353.2,288.5h0 M353.4,287.2h0 M353.6,287.2h0 M353.4,285.3h0 M353.3,284.3h0 M355.0,284.6h0 M354.4,283.8h0 M355.2,282.2h0 M355.6,280.7h0 M354.4,281.0h0 M355.8,280.3h0 M354.7,281.6h0 M355.4,280.9h0 M354.8,282.0h0 M355.7,281.4h0 M354.3,280.9h0 M355.3,279.5h0 M354.9,277.3h0 M354.8,278.3h0 M355.2,278.0h0 M356.0,277.4h0 M357.8,275.1h0 M357.7,275.8h0 M357.7,275.6h0 M359.4,275.6h0 M358.6,275.4h0 M358.4,275.3h0 M359.7,273.6h0 M357.6,271.5h0 M358.0,272.0h0 M357.0,270.9h0 M357.7,269.9h0 M358.1,269.9h0 M357.7,270.2h0 M357.8,270.4h0 M358.3,270.6h0 M359.0,271.8h0 M359.1,273.7h0 M359.4,274.8h0 M358.8,274.8h0 M359.2,273.9h0 M358.9,276.1h0 M358.5,277.0h0 M359.4,277.2h0 M360.9,275.8h0 M359.8,275.1h0 M359.7,275.7h0 M359.6,276.4h0 M359.4,277.6h0 M358.4,280.0h0 M359.3,281.0h0 M358.6,282.1h0 M359.3,282.5h0 M359.1,283.7h0 M359.7,284.6h0 M359.3,283.9h0 M359.0,282.9h0 M359.5,282.6h0 M359.0,283.5h0 M359.0,287.1h0 M358.5,288.2h0 M357.6,289.1h0 M357.3,287.9h0 M357.5,287.2h0 M357.6,287.9h0 M359.8,289.3h0 M360.0,290.6h0 M361.1,291.6h0 M359.8,293.0h0 M359.3,293.9h0 M359.9,293.6h0 M358.8,294.0h0 M358.3,294.9h0 M358.1,294.2h0 M358.1,295.0h0 M357.9,295.6h0 M359.6,297.0h0 M358.7,296.3h0 M359.9,296.9h0 M359.8,299.1h0 M360.5,299.5h0 M359.1,301.4h0 M360.7,301.7h0 M360.3,300.6h0 M360.6,300.6h0 M361.0,299.5h0 M362.4,297.9h0 M362.7,296.3h0 M363.2,295.8h0 M362.8,297.5h0 M363.3,296.7h0 M363.8,296.4h0 M363.8,294.3h0 M362.4,293.9h0 M362.6,292.6h0 M363.1,293.0h0 M363.9,291.6h0 M364.7,291.0h0 M365.1,289.5h0 M363.0,288.3h0 M364.9,288.6h0 M363.6,287.7h0 M363.5,287.1h0 M363.0,287.7h0 M362.1,287.6h0 M360.9,286.3h0 M360.5,287.3h0 M361.1,286.5h0 M361.2,285.5h0 M361.0,285.4h0 M361.1,284.0h0 M359.7,283.4h0 M359.9,283.8h0 M360.6,281.9h0 M360.7,282.7h0 M361.0,281.3h0 M360.7,282.0h0 M361.4,282.3h0 M362.7,280.2h0 M362.9,279.1h0 M363.4,280.6h0 M362.7,278.5h0 M363.3,278.1h0 M363.7,276.8h0 M364.0,275.6h0 M363.6,275.0h0 M363.8,275.1h0 M362.4,274.0h0 M364.3,273.3h0 M364.2,271.9h0 M364.2,272.4h0 M363.1,271.9h0 M363.2,271.2h0 M364.2,272.4h0 M364.0,271.3h0 M365.0,270.2h0 M365.1,269.2h0 M365.6,270.3h0 M365.1,268.2h0 M365.6,267.6h0 M365.9,265.9h0 M366.4,265.7h0 M366.8,264.8h0 M366.3,263.5h0 M366.7,263.7h0 M366.9,263.6h0 M366.7,263.0h0 M366.4,260.7h0 M367.2,259.4h0 M366.8,260.8h0 M366.2,260.4h0 M366.6,260.5h0 M367.4,258.7h0 M367.2,259.3h0 M366.8,258.6h0 M366.5,258.2h0 M365.6,258.5h0 M366.3,257.4h0 M365.6,255.8h0 M366.7,254.0h0 M365.9,254.7h0 M365.7,254.2h0 M364.9,252.8h0 M366.0,254.5h0 M365.8,255.4h0 M366.7,255.9h0 M366.5,257.7h0 M365.9,256.6h0 M367.3,258.6h0 M366.8,258.4h0 M366.1,259.4h0 M367.1,260.2h0 M367.3,260.9h0 M367.3,260.6h0 M367.0,261.1h0 M368.0,260.6h0 M366.2,262.5h0 M364.0,261.3h0 M365.6,263.7h0 M366.2,263.9h0 M365.6,264.8h0 M366.0,266.4h0 M365.7,267.6h0 M366.8,266.5h0 M366.8,266.8h0 M366.8,267.2h0 M367.5,269.2h0 M368.2,270.5h0 M368.1,269.3h0 M369.0,269.7h0 M367.8,268.4h0 M369.5,266.7h0 M371.0,267.5h0 M370.3,267.8h0 M368.7,266.5h0 M369.9,265.6h0 M369.8,265.4h0 M369.7,265.6h0 M368.8,264.5h0 M369.3,261.7h0 M369.3,260.0h0 M369.5,259.9h0 M368.9,258.6h0 M369.0,257.0h0 M369.3,256.3h0 M369.5,256.4h0 M369.5,254.5h0 M370.1,253.7h0 M369.4,256.3h0 M371.3,254.6h0 M370.8,256.5h0 M370.2,256.0h0 M370.5,256.3h0 M371.4,255.5h0 M371.4,254.2h0 M371.7,252.2h0 M371.2,253.4h0 M370.8,252.6h0 M371.3,253.6h0 M371.5,253.5h0 M371.8,253.1h0 M371.9,252.1h0 M371.6,251.4h0 M371.3,250.6h0 M371.0,253.7h0 M371.1,252.5h0 M372.1,253.3h0 M370.9,254.5h0 M371.0,255.0h0 M371.2,254.8h0 M371.3,254.3h0 M370.6,253.9h0 M370.8,254.9h0 M371.1,255.1h0 M370.0,256.5h0 M370.9,255.5h0 M372.2,256.8h0 M372.4,257.6h0 M372.1,258.5h0 M372.9,259.4h0 M374.0,260.4h0 M374.7,260.9h0 M374.9,261.6h0 M374.6,262.6h0 M374.1,260.7h0 M374.6,262.5h0 M374.1,263.8h0 M373.9,262.8h0 M372.8,262.5h0 M373.2,263.7h0 M373.3,265.4h0 M372.8,267.6h0 M372.5,267.5h0 M373.3,267.6h0 M374.0,267.7h0 M373.8,268.1h0 M373.7,271.8h0 M373.4,273.4h0 M373.2,275.8h0 M373.6,274.9h0 M373.6,274.0h0 M373.5,274.0h0 M372.8,274.7h0 M374.0,275.3h0 M375.0,275.3h0 M374.7,275.6h0 M374.7,277.6h0 M375.1,277.7h0 M374.2,279.1h0 M374.9,279.2h0 M374.7,279.2h0 M374.6,280.5h0 M374.7,279.5h0 M373.8,281.2h0 M375.4,281.2h0 M374.9,279.2h0 M374.9,280.7h0 M374.7,281.4h0 M374.0,281.2h0 M372.7,282.8h0 M372.5,283.8h0 M371.6,283.5h0 M371.0,282.9h0 M370.5,283.7h0 M371.7,282.6h0 M371.5,282.5h0 M372.5,280.4h0 M371.8,280.1h0 M372.0,279.5h0 M372.6,278.2h0 M372.5,278.7h0 M373.1,276.1h0 M373.4,275.2h0 M373.5,274.5h0 M373.7,276.9h0 M374.8,275.3h0 M375.5,274.9h0 M375.7,275.4h0 M375.9,273.0h0 M376.1,274.8h0 M376.6,276.7h0 M376.0,278.3h0 M375.2,278.2h0 M376.2,277.7h0 M377.5,278.6h0 M377.2,280.0h0 M376.5,280.8h0 M376.8,280.3h0 M375.9,282.4h0 M376.8,282.5h0 M376.5,283.5h0 M377.0,284.1h0 M377.9,284.5h0 M377.5,285.2h0 M377.5,285.5h0 M377.6,286.3h0 M376.7,284.8h0 M375.8,285.3h0 M376.0,285.1h0 M376.9,283.5h0 M376.0,286.8h0 M376.2,288.6h0 M375.8,288.2h0 M375.7,286.8h0 M375.6,289.0h0 M376.6,289.2h0 M377.4,290.6h0 M376.3,291.2h0 M377.4,290.6h0 M376.7,291.8h0 M376.1,294.0h0 M376.0,296.0h0 M375.6,296.3h0 M375.3,299.2h0 M375.2,300.1h0 M376.2,299.6h0 M377.7,298.7h0 M377.9,299.1h0 M377.6,298.9h0 M377.7,299.9h0 M378.0,299.3h0 M378.9,298.7h0 M378.6,299.9h0 M378.2,301.9h0 M378.2,302.4h0 M378.5,303.3h0 M379.6,303.7h0 M378.6,304.0h0 M379.0,303.7h0 M379.0,304.5h0 M379.9,305.5h0 M380.0,306.6h0 M379.8,304.3h0 M379.8,307.2h0 M380.5,305.4h0 M380.7,307.6h0 M380.8,308.0h0 M381.1,309.3h0 M380.5,310.7h0 M379.5,310.7h0 M379.4,311.4h0 M378.3,313.1h0 M378.3,315.1h0 M378.6,316.4h0 M378.2,315.6h0 M377.2,314.0h0 M377.4,312.2h0 M377.0,312.9h0 M375.2,314.2h0 M375.2,313.5h0 M375.0,312.1h0 M374.8,312.5h0 M375.5,314.0h0 M375.4,315.5h0 M375.6,315.8h0 M376.3,316.0h0 M376.6,317.5h0 M377.0,318.7h0 M377.1,319.2h0 M377.3,320.1h0 M376.8,321.0h0 M378.0,318.7h0 M379.0,318.5h0 M379.5,320.2h0 M380.4,321.7h0 M381.1,322.6h0 M379.9,321.3h0 M381.5,323.0h0 M381.7,324.2h0 M381.2,325.6h0 M380.1,324.4h0 M379.5,327.2h0 M380.2,327.3h0 M380.9,326.5h0 M381.6,326.8h0 M380.9,326.7h0 M381.8,326.1h0 M381.4,324.8h0 M381.0,324.1h0 M381.2,322.4h0 M381.1,320.9h0 M381.2,322.3h0 M382.2,321.8h0 M383.6,320.7h0 M382.7,319.3h0 M382.0,319.1h0 M384.4,318.9h0 M384.0,319.5h0 M383.3,319.1h0 M384.1,321.0h0 M383.7,320.1h0 M384.2,319.4h0 M385.2,319.4h0 M385.6,319.5h0 M385.9,318.6h0 M386.1,318.6h0 M386.1,319.6h0 M385.3,320.6h0 M384.8,320.7h0 M384.9,321.1h0 M385.0,321.4h0 M383.5,322.7h0 M384.5,321.6h0 M384.0,322.3h0 M383.5,324.1h0 M383.7,324.6h0 M383.0,327.5h0 M384.4,328.6h0 M384.1,328.8h0 M384.6,328.2h0 M385.7,328.0h0 M385.2,329.7h0 M384.6,330.2h0 M385.5,328.7h0 M384.7,330.0h0 M384.4,329.3h0 M384.9,331.5h0 M384.6,331.2h0 M384.5,331.1h0 M383.5,330.5h0 M384.5,330.2h0 M384.4,332.3h0 M384.3,332.6h0 M384.0,331.9h0 M384.8,331.8h0 M383.8,331.5h0 M383.6,332.0h0 M383.1,332.5h0 M382.8,334.2h0 M381.7,334.5h0 M381.5,335.5h0 M382.9,336.1h0 M381.8,336.2h0 M382.5,336.2h0 M383.0,336.0h0 M382.6,337.2h0 M382.2,338.2h0 M382.2,338.0h0 M382.8,339.3h0 M383.9,341.4h0 M382.6,341.8h0 M383.4,341.7h0 M383.4,341.8h0 M384.0,340.7h0 M384.8,338.9h0 M384.0,336.9h0 M385.0,338.2h0 M385.7,338.5h0 M386.3,338.4h0 M388.0,338.5h0 M389.6,339.0h0 M388.7,337.0h0 M390.1,336.3h0 M389.3,336.5h0 M388.7,335.6h0 M388.9,335.8h0 M389.6,335.3h0 M389.3,333.4h0 M389.6,331.4h0 M390.0,332.7h0 M389.9,332.1h0 M389.1,332.8h0 M389.9,334.5h0 M388.7,334.5h0 M388.9,333.6h0 M389.6,331.4h0 M390.1,330.8h0 M391.4,330.8h0 M391.2,330.5h0 M390.9,330.1h0 M391.0,328.8h0 M391.1,327.5h0 M390.7,327.2h0 M391.4,327.4h0 M392.0,326.6h0 M391.8,329.8h0 M391.8,332.1h0 M390.9,332.3h0 M391.4,331.5h0 M392.5,331.5h0 M392.6,334.2h0 M392.5,333.8h0 M392.0,334.3h0 M391.6,335.9h0 M392.3,337.2h0 M392.5,337.5h0 M393.7,338.2h0 M394.2,340.0h0 M394.4,339.2h0 M393.7,338.3h0 M394.4,337.3h0 M394.7,339.9h0 M395.5,340.4h0 M395.7,341.2h0 M394.2,340.9h0 M393.5,342.7h0 M394.1,343.0h0 M393.9,343.5h0 M393.0,344.4h0 M392.9,345.3h0 M393.4,344.9h0 M394.0,343.2h0 M393.6,345.0h0 M387.3,362.7h0 M387.2,363.7h0 M387.0,362.3h0 M388.2,363.3h0 M387.8,362.2h0 M387.6,363.2h0 M389.3,363.3h0 M388.3,365.9h0 M388.5,366.3h0 M389.6,365.9h0 M388.8,368.7h0 M390.9,369.8h0 M390.3,368.9h0 M390.8,369.1h0 M390.1,369.6h0 M389.2,368.8h0 M390.0,367.8h0 M389.8,367.1h0 M390.7,366.6h0 M391.3,367.0h0 M390.3,366.2h0 M391.6,365.2h0 M391.1,365.4h0 M390.1,365.8h0 M391.0,365.6h0 M390.9,365.2h0 M391.3,364.8h0 M391.7,364.3h0 M392.2,361.4h0 M391.4,362.1h0 M392.6,362.3h0 M394.0,360.4h0 M392.5,360.2h0 M393.4,361.1h0 M393.9,359.8h0 M393.5,360.7h0 M393.4,358.6h0 M392.9,357.7h0 M393.6,357.6h0 M393.9,358.3h0 M394.8,355.8h0 M396.1,355.5h0 M395.9,353.9h0 M394.7,352.4h0 M394.0,351.4h0 M392.9,352.1h0 M393.8,353.1h0 M394.2,351.3h0 M394.1,352.2h0 M393.8,350.7h0 M394.1,350.2h0 M394.1,349.3h0 M394.0,349.2h0 M394.4,347.1h0 M395.2,348.8h0 M396.5,351.3h0 M395.7,352.9h0 M396.6,353.7h0 M396.3,353.0h0 M396.8,352.8h0 M397.6,352.6h0 M396.2,352.5h0 M397.1,352.0h0 M396.6,352.3h0 M397.6,352.5h0 M396.9,352.8h0 M397.0,352.5h0 M397.0,352.5h0 M397.2,353.9h0 M395.4,354.9h0 M395.6,356.1h0 M395.6,357.6h0 M397.0,358.1h0 M395.9,359.7h0 M396.2,360.8h0 M395.3,361.0h0 M395.3,361.3h0 M395.0,362.8h0 M395.1,364.4h0 M395.4,362.4h0 M395.2,364.1h0 M395.8,363.6h0 M395.9,364.3h0 M397.7,363.8h0 M396.2,367.0h0 M396.4,366.6h0 M396.0,365.6h0 M396.1,368.1h0 M395.9,367.8h0 M395.4,366.5h0 M395.8,370.0h0 M396.7,369.4h0 M396.0,370.8h0 M395.5,373.0h0 M395.7,373.2h0 M396.0,373.8h0 M397.0,373.4h0 M397.0,373.0h0 M396.8,375.4h0 M396.9,373.7h0 M396.7,374.5h0 M396.1,375.2h0 M395.0,375.4h0 M395.2,374.6h0 M395.3,376.0h0 M395.7,375.9h0 M395.1,377.1h0 M396.4,377.7h0 M396.2,378.3h0 M396.7,379.4h0 M397.2,379.8h0 M396.8,381.4h0 M396.7,383.0h0 M397.1,383.7h0 M397.3,383.7h0 M397.3,382.7h0 M396.0,382.0h0 M397.4,382.7h0 M397.0,384.5h0 M397.5,384.3h0 M396.7,385.7h0 M397.0,385.9h0 M395.5,385.9h0 M396.8,386.9h0 M395.7,387.6h0 M396.6,387.3h0 M395.6,387.2h0 M397.1,387.6h0 M397.3,389.7h0 M397.5,390.2h0 M398.0,391.4h0 M397.7,392.3h0 M398.5,393.9h0 M399.0,394.3h0 M398.9,394.7h0 M399.1,395.5h0 M398.9,396.2h0 M399.1,395.7h0 M398.7,397.0h0 M398.3,397.5h0 M397.7,398.6h0 M397.0,398.0h0 M397.3,398.6h0 M398.4,398.7h0 M398.2,398.3h0 M397.7,398.8h0 M398.4,400.7h0 M397.7,400.2h0 M398.1,401.4h0 M398.3,400.3h0 M399.2,400.5h0 M398.8,400.0h0 M397.3,401.4h0 M396.9,402.8h0 M397.2,404.5h0 M397.4,406.9h0 M398.5,409.3h0 M397.5,409.7h0 M397.1,410.7h0 M398.7,410.7h0 M397.8,410.2h0 M396.8,412.5h0 M396.8,413.2h0 M396.8,413.5h0 M396.5,412.3h0 M396.6,412.5h0 M397.5,412.7h0 M397.1,412.6h0 M397.7,412.7h0 M397.3,413.5h0 M397.3,414.6h0 M396.8,414.6h0 M397.1,416.2h0 M396.1,416.4h0 M397.2,416.2h0 M396.9,415.9h0 M397.4,415.9h0 M398.7,418.3h0 M397.7,418.4h0 M397.9,418.0h0 M397.5,418.6h0 M397.2,417.9h0 M397.6,418.9h0 M398.3,420.7h0 M397.7,421.6h0 M398.5,422.8h0 M397.8,422.9h0 M398.4,424.5h0 M398.2,426.0h0 M398.6,426.5h0 M398.9,427.7h0 M399.9,427.2h0 M399.2,427.5h0 M398.9,428.9h0 M398.7,429.3h0 M399.3,429.1h0 M398.3,428.2h0 M398.4,430.0h0 M398.1,431.7h0 M397.4,432.6h0 M398.8,433.6h0 M397.8,434.8h0 M397.3,435.3h0 M397.0,435.5h0 M397.0,435.5h0 M397.6,436.7h0 M397.9,436.6h0 M398.0,436.3h0 M398.7,435.7h0 M399.4,432.8h0 M399.9,430.8h0 M399.8,431.5h0 M401.2,429.1h0 M400.0,429.9h0 M401.0,428.6h0 M400.3,427.8h0 M400.5,428.7h0 M400.6,428.7h0 M401.0,427.9h0 M402.8,427.1h0 M403.2,427.8h0 M403.1,428.1h0 M403.2,426.8h0 M403.9,426.5h0 M403.6,425.4h0 M403.6,426.2h0 M403.3,427.4h0 M404.4,428.3h0 M403.9,427.9h0 M404.7,427.7h0 M404.4,428.1h0 M403.7,427.9h0 M403.3,429.1h0 M403.9,430.0h0 M403.4,430.0h0 M402.8,433.3h0 M402.9,434.4h0 M401.4,433.8h0 M401.4,434.6h0 M402.5,435.6h0 M401.2,436.6h0 M402.3,435.7h0 M402.2,436.5h0 M402.7,435.3h0 M402.3,437.5h0 M402.5,438.5h0 M401.8,439.0h0 M401.8,438.8h0 M401.1,439.4h0 M401.6,440.7h0 M400.5,439.6h0 M401.0,439.3h0 M400.5,438.7h0 M400.1,439.7h0 M401.6,440.5h0 M403.0,442.6h0 M402.7,442.1h0 M403.0,444.0h0 M404.0,443.7h0 M403.3,441.8h0 M404.8,443.1h0 M404.8,441.5h0 M405.5,442.3h0 M404.4,443.0h0 M405.1,443.8h0 M405.4,444.2h0 M405.4,445.8h0 M405.6,445.1h0 M405.5,445.3h0 M405.7,446.1h0 M406.8,447.2h0 M406.5,445.4h0 M407.0,447.7h0 M407.2,449.1h0 M406.7,449.9h0 M407.5,451.0h0 M406.3,450.9h0 M405.8,452.9h0 M405.9,454.3h0 M407.1,455.7h0 M405.9,456.8h0 M406.0,457.9h0 M405.7,458.6h0 M405.8,458.5h0 M406.5,458.2h0 M407.2,456.4h0 M407.3,457.2h0 M406.8,457.8h0 M408.0,457.5h0 M407.4,458.6h0 M408.3,459.1h0 M409.0,460.0h0 M408.1,455.5h0 M407.9,454.2h0 M409.2,455.6h0 M410.2,456.6h0 M409.9,457.2h0 M408.1,457.0h0 M409.5,457.3h0 M410.6,457.1h0 M410.7,458.7h0 M411.5,456.7h0 M412.0,455.1h0 M412.1,453.6h0 M412.0,454.3h0 M411.0,452.8h0 M411.2,453.6h0 M410.5,452.0h0 M410.6,452.8h0 M411.8,452.4h0 M411.0,450.5h0 M412.2,450.0h0 M412.3,450.1h0 M413.1,449.7h0 M413.1,449.4h0 M411.6,447.5h0 M412.1,446.5h0 M410.9,446.4h0 M411.2,445.4h0 M412.0,445.2h0 M411.7,444.2h0 M411.0,444.6h0 M411.1,444.9h0 M411.0,443.6h0 M409.6,443.4h0 M408.9,442.4h0 M410.3,443.9h0 M408.4,444.4h0 M409.1,445.0h0 M409.1,444.0h0 M410.1,442.8h0 M409.0,441.9h0 M409.4,441.5h0 M410.0,442.9h0 M409.8,442.0h0 M409.7,442.9h0 M409.2,441.6h0 M408.9,440.5h0 M410.3,439.5h0 M409.0,437.6h0 M410.3,437.2h0 M410.5,434.5h0 M411.5,434.4h0 M411.8,432.9h0 M412.2,431.8h0 M412.1,430.8h0 M411.4,431.1h0 M412.8,431.0h0 M413.2,431.0h0 M413.3,431.4h0 M412.6,432.6h0 M412.7,433.4h0 M412.4,433.3h0 M412.6,432.6h0 M412.6,433.3h0 M413.9,432.5h0 M413.3,433.6h0 M412.9,434.0h0 M413.9,435.1h0 M414.0,437.1h0 M414.0,438.9h0 M412.8,439.0h0 M413.3,439.1h0 M412.6,439.1h0 M413.0,439.8h0 M413.5,441.1h0 M414.5,441.5h0 M414.6,441.6h0 M413.7,441.3h0 M414.2,443.1h0 M414.3,445.4h0 M414.4,445.4h0 M413.8,446.2h0 M414.8,445.7h0 M414.8,444.8h0 M415.6,443.4h0 M415.6,444.4h0 M415.1,445.1h0 M414.7,444.6h0 M414.6,445.9h0 M413.7,445.2h0 M414.4,448.1h0 M413.8,448.3h0 M415.1,449.7h0 M415.6,452.3h0 M416.0,451.2h0 M416.7,450.3h0 M416.9,450.1h0 M418.0,451.3h0 M418.1,451.3h0 M417.8,450.3h0 M417.4,450.2h0 M416.9,449.6h0 M417.9,447.9h0 M417.6,446.3h0 M416.1,445.8h0 M417.4,444.7h0 M416.5,443.2h0 M416.5,444.3h0 M415.9,443.3h0 M416.9,442.6h0 M417.3,445.3h0 M416.7,444.3h0 M416.3,444.3h0 M417.3,442.7h0 M416.1,439.7h0 M416.4,439.8h0 M415.7,440.8h0 M416.1,438.5h0 M415.4,438.1h0 M414.6,438.0h0 M415.0,438.4h0 M415.6,437.2h0 M415.7,437.1h0 M416.0,437.8h0 M416.7,436.5h0 M416.5,435.4h0 M416.4,433.2h0 M416.8,431.8h0 M417.4,432.1h0 M417.3,431.0h0 M417.9,431.6h0 M417.3,430.5h0 M418.0,431.8h0 M417.4,430.2h0 M418.6,429.4h0 M417.7,426.9h0 M417.4,429.0h0 M416.7,427.3h0 M417.0,425.3h0 M416.0,425.2h0 M417.9,425.5h0 M417.7,424.6h0 M417.9,422.6h0 M417.9,422.0h0 M417.6,422.0h0 M416.7,422.0h0 M417.5,420.0h0 M416.9,420.5h0 M418.1,421.6h0 M418.1,421.6h0 M418.5,420.7h0 M418.3,419.1h0 M419.2,417.6h0 M418.7,415.9h0 M418.0,416.2h0 M418.7,415.7h0 M418.7,414.9h0 M418.8,413.7h0 M419.3,413.6h0 M419.2,412.7h0 M420.2,411.7h0 M419.8,410.0h0 M420.2,410.5h0 M420.8,408.5h0 M421.5,410.2h0 M420.1,410.7h0 M420.4,413.1h0 M419.8,415.1h0 M419.0,415.5h0 M419.2,417.4h0 M419.9,418.7h0 M419.2,419.4h0 M419.1,419.6h0 M420.6,420.2h0 M420.4,420.1h0 M421.0,421.6h0 M420.2,420.7h0 M420.0,420.3h0 M420.2,422.0h0 M419.9,422.5h0 M420.1,423.3h0 M419.8,423.7h0 M420.1,424.1h0 M421.5,423.4h0 M422.1,423.7h0 M420.8,422.3h0 M420.0,423.8h0 M421.5,423.3h0 M419.7,424.4h0 M418.8,425.0h0 M421.4,424.4h0 M420.1,425.7h0 M420.9,427.5h0 M420.5,428.5h0 M420.1,428.6h0 M419.8,429.4h0 M420.4,430.4h0 M420.8,429.9h0 M420.1,429.8h0 M420.1,430.1h0 M420.6,430.1h0 M419.8,431.9h0 M420.4,432.2h0 M420.1,434.2h0 M420.3,434.0h0 M420.3,435.2h0 M419.9,433.9h0 M420.4,435.2h0 M420.0,436.1h0 M420.2,438.3h0 M419.5,438.7h0 M419.8,439.3h0 M419.6,441.8h0 M420.0,441.8h0 M422.2,440.6h0 M421.6,442.0h0 M422.2,443.4h0 M423.1,442.2h0 M422.7,442.0h0 M423.1,442.2h0 M424.1,440.5h0 M424.4,440.5h0 M423.9,439.2h0 M423.4,438.4h0 M423.5,437.3h0 M424.0,437.2h0 M424.1,436.4h0 M423.7,436.1h0 M423.9,433.9h0 M424.0,433.4h0 M424.5,433.8h0 M424.8,432.3h0 M424.1,433.8h0 M424.5,434.5h0 M424.8,434.4h0 M425.3,433.5h0 M424.5,433.5h0 M425.7,435.5h0 M425.4,433.1h0 M425.6,432.8h0 M426.4,431.1h0 M426.8,429.6h0 M426.4,428.1h0 M427.9,426.5h0 M426.3,426.8h0 M427.8,424.8h0 M427.7,425.0h0 M427.5,425.5h0 M427.3,425.8h0 M427.6,424.1h0 M427.0,422.2h0 M427.6,423.0h0 M428.0,421.7h0 M427.4,421.2h0 M428.0,420.8h0 M427.8,421.0h0 M428.0,419.5h0 M427.3,419.1h0 M427.0,418.4h0 M426.4,418.1h0 M427.2,416.5h0 M426.5,417.6h0 M426.6,417.0h0 M427.6,414.1h0 M427.8,413.9h0 M427.0,413.8h0 M427.1,416.3h0 M427.5,418.4h0 M427.1,417.8h0 M426.9,417.7h0 M427.1,416.6h0 M427.6,415.9h0 M426.8,417.8h0 M426.9,418.0h0 M426.2,418.2h0 M426.8,420.2h0 M426.4,421.1h0 M426.4,423.5h0 M426.3,423.6h0 M427.6,423.8h0 M426.9,424.1h0 M427.1,424.4h0 M427.2,426.7h0 M427.7,429.4h0 M427.1,431.0h0 M426.7,430.6h0 M425.8,430.4h0 M427.0,431.7h0 M427.9,431.1h0 M427.8,429.9h0 M428.0,432.6h0 M428.1,432.8h0 M428.1,432.4h0 M427.4,431.8h0 M426.8,432.2h0 M426.3,431.6h0 M426.5,434.3h0 M427.0,434.2h0 M426.1,434.7h0 M426.0,436.9h0 M427.1,434.7h0 M428.2,435.8h0 M427.3,436.7h0 M426.5,437.7h0 M427.4,438.7h0 M428.5,439.8h0 M428.4,440.9h0 M427.5,440.6h0 M429.0,441.1h0 M430.1,442.0h0 M430.7,442.1h0 M430.8,441.4h0 M430.2,441.2h0 M430.7,442.3h0 M431.6,442.6h0 M431.6,441.9h0 M432.4,441.2h0 M433.6,442.4h0 M433.5,443.0h0 M434.3,442.7h0 M433.5,444.2h0 M433.6,443.9h0 M434.6,443.8h0 M434.1,444.9h0 M434.1,442.7h0 M432.4,443.7h0 M432.7,442.7h0 M433.1,442.0h0 M433.1,443.4h0 M432.5,441.7h0 M432.4,441.8h0 M433.6,440.4h0 M432.3,440.5h0 M433.0,440.0h0 M432.5,439.5h0 M432.8,438.7h0 M432.3,437.2h0 M432.7,436.3h0 M431.9,436.2h0 M432.2,435.1h0 M432.4,434.8h0 M432.4,433.4h0 M432.1,431.2h0 M432.0,432.1h0 M433.0,431.1h0 M432.7,432.9h0 M432.5,431.5h0 M431.9,432.0h0 M432.8,431.8h0 M432.6,430.4h0 M433.2,430.8h0 M434.6,429.3h0 M434.3,427.4h0 M435.3,427.9h0 M435.8,427.0h0 M435.6,426.3h0 M435.3,425.0h0 M435.8,424.1h0 M436.1,423.8h0 M436.1,425.3h0 M436.2,424.2h0 M436.1,421.9h0 M434.6,421.4h0 M433.9,420.9h0 M433.1,419.5h0 M434.6,419.1h0 M434.6,420.2h0 M435.3,419.6h0 M434.7,419.2h0 M435.1,419.6h0 M435.0,417.6h0 M433.5,416.2h0 M433.6,416.3h0 M432.9,416.7h0 M433.5,417.5h0 M433.5,417.2h0 M434.1,416.0h0 M434.5,414.6h0 M434.9,414.2h0 M434.8,413.4h0 M435.5,413.4h0 M436.6,410.9h0 M436.8,410.1h0 M437.0,408.6h0 M437.4,409.0h0 M437.7,406.6h0 M437.7,406.1h0 M437.4,405.5h0 M436.5,405.0h0 M436.8,406.2h0 M438.0,406.6h0 M437.8,407.8h0 M438.9,407.0h0 M437.8,408.8h0 M438.3,410.1h0 M438.1,409.9h0 M439.0,409.4h0 M440.4,412.6h0 M439.6,413.5h0 M439.8,413.7h0 M440.0,414.8h0 M440.2,415.3h0 M440.3,414.9h0 M440.2,416.5h0 M440.0,413.9h0 M441.1,413.0h0 M441.3,412.7h0 M440.3,412.8h0 M439.7,410.5h0 M440.6,411.2h0 M440.5,411.5h0 M442.0,411.3h0 M441.0,410.3h0 M441.7,409.9h0 M440.4,410.8h0 M441.1,409.3h0 M441.6,409.3h0 M442.4,407.1h0 M441.5,403.6h0 M442.3,403.7h0 M441.9,402.6h0 M442.2,404.8h0 M442.2,403.4h0 M441.9,404.9h0 M441.3,405.9h0 M441.9,404.4h0 M441.6,405.3h0 M442.6,405.2h0 M442.6,405.7h0 M443.3,408.2h0 M444.0,407.6h0 M444.9,407.0h0 M445.4,408.0h0 M445.9,407.6h0 M445.8,408.7h0 M444.8,409.2h0 M445.2,408.2h0 M444.5,409.6h0 M444.8,411.7h0 M444.9,411.8h0 M446.3,411.4h0 M446.4,413.8h0 M447.2,413.1h0 M446.9,413.9h0 M447.4,415.2h0 M446.1,414.6h0 M447.3,415.4h0 M447.5,416.3h0 M448.3,416.0h0 M448.9,416.7h0 M448.8,416.4h0 M449.9,417.7h0 M448.9,417.2h0 M449.9,418.6h0 M449.7,418.7h0 M450.0,419.2h0 M450.6,419.7h0 M449.2,419.3h0 M448.9,420.4h0 M449.8,420.4h0 M450.5,421.3h0 M450.9,420.7h0 M449.8,420.7h0 M449.4,421.4h0 M449.4,422.2h0 M448.0,423.8h0 M448.6,424.5h0 M448.8,425.0h0 M448.5,423.5h0 M448.7,425.4h0 M448.2,425.1h0 M446.8,426.4h0 M448.1,429.0h0 M447.8,429.2h0 M448.1,429.8h0 M446.7,431.2h0 M447.1,429.5h0 M447.1,429.2h0 M448.3,427.1h0 M448.2,428.0h0 M448.8,428.1h0 M449.4,428.4h0 M449.1,425.8h0 M449.5,425.9h0 M450.4,423.2h0 M450.6,422.4h0 M451.1,423.3h0 M450.5,422.2h0 M450.8,422.1h0 M451.3,425.9h0 M451.7,428.4h0 M451.4,430.9h0 M451.6,431.0h0 M451.5,431.9h0 M451.9,432.0h0 M453.0,433.1h0 M453.0,432.8h0 M453.1,433.2h0 M454.3,434.9h0 M454.7,433.9h0 M455.2,436.3h0 M455.8,437.7h0 M456.2,438.0h0 M456.7,437.0h0 M457.2,437.3h0 M457.6,436.4h0 M457.3,438.5h0 M457.8,439.1h0 M458.0,438.2h0 M458.0,440.0h0 M457.7,439.6h0 M457.4,437.8h0 M457.7,438.6h0 M458.9,440.8h0 M458.8,440.3h0 M457.2,441.0h0 M457.0,439.9h0 M457.7,442.8h0 M457.2,442.7h0 M457.3,442.5h0 M458.7,445.1h0 M458.6,445.4h0 M457.5,446.3h0 M459.1,444.1h0 M458.6,443.1h0 M459.4,444.9h0 M459.7,441.4h0 M461.3,442.2h0 M461.1,441.7h0 M461.7,443.8h0 M461.5,443.4h0 M461.1,443.0h0 M462.6,439.7h0 M462.8,438.6h0 M461.6,437.7h0 M461.8,437.6h0 M462.2,437.5h0 M461.8,438.0h0 M462.5,438.0h0 M461.9,436.5h0 M461.6,435.0h0 M461.4,435.3h0 M461.3,435.3h0 M463.3,434.5h0 M461.9,434.8h0 M461.9,434.0h0 M463.5,432.3h0 M463.4,431.2h0 M463.1,431.1h0 M463.7,433.0h0 M462.7,431.8h0 M463.9,431.2h0 M464.5,430.3h0 M464.7,431.3h0 M464.2,430.5h0 M465.4,430.6h0 M464.4,430.6h0 M465.9,429.6h0 M466.6,428.4h0 M466.4,427.5h0 M467.2,426.0h0 M466.8,425.3h0 M466.8,426.4h0 M467.7,424.1h0 M466.8,423.2h0 M467.2,421.8h0 M468.0,422.4h0 M468.3,421.1h0 M468.0,420.7h0 M468.1,421.2h0 M467.5,420.8h0 M467.4,419.9h0 M466.8,419.6h0 M467.5,419.4h0 M468.2,418.7h0 M468.8,415.9h0 M469.0,416.1h0 M469.0,414.9h0 M469.4,414.8h0 M468.7,413.6h0 M469.5,412.1h0 M470.2,413.3h0 M470.1,413.7h0 M469.4,414.2h0 M469.6,410.8h0 M469.0,408.8h0 M468.4,408.5h0 M468.9,407.9h0 M470.1,409.9h0 M470.1,409.1h0 M470.4,408.3h0 M469.8,407.5h0 M470.7,406.9h0 M470.3,406.1h0 M469.8,404.2h0 M471.1,403.7h0 M470.8,402.7h0 M471.5,403.5h0 M471.3,402.5h0 M472.1,402.4h0 M472.3,402.3h0 M472.3,401.6h0 M473.9,400.2h0 M472.8,401.4h0 M473.8,402.5h0 M473.6,405.0h0 M473.0,405.5h0 M473.4,405.1h0 M473.6,404.7h0 M473.7,406.2h0 M474.6,405.5h0 M475.4,406.1h0 M474.0,406.8h0 M475.4,408.2h0 M474.4,408.0h0 M474.2,411.2h0 M473.6,411.6h0 M473.9,413.8h0 M474.5,416.3h0 M473.3,415.5h0 M473.9,414.7h0 M473.7,412.9h0 M472.9,412.4h0 M472.2,414.3h0 M474.0,415.2h0 M472.8,414.7h0 M474.2,417.3h0 M473.9,416.9h0 M474.8,416.9h0 M474.8,417.9h0 M473.9,417.5h0 M473.5,418.5h0 M473.4,419.8h0 M475.3,420.2h0 M475.8,419.9h0 M476.1,421.0h0 M475.2,419.5h0 M475.2,421.4h0 M476.0,422.6h0 M475.7,423.0h0 M476.2,422.5h0 M476.9,423.5h0 M476.1,421.3h0 M476.2,421.5h0 M476.5,420.7h0 M476.9,419.0h0 M477.0,418.5h0 M477.5,418.2h0 M477.5,418.3h0 M477.6,419.0h0 M478.2,417.7h0 M479.4,420.2h0 M479.0,420.0h0 M480.0,420.8h0 M479.9,421.5h0 M480.6,421.3h0 M480.3,422.5h0 M480.5,423.4h0 M480.3,425.7h0 M480.9,424.8h0 M481.1,427.0h0 M481.2,425.8h0 M481.7,426.0h0 M479.5,425.4h0 M480.5,425.9h0 M482.2,427.3h0 M481.1,426.3h0 M481.4,426.2h0 M481.7,427.3h0 M482.4,428.0h0 M482.7,426.5h0 M483.0,425.8h0 M482.9,424.8h0 M482.4,424.6h0 M483.7,426.0h0 M483.9,426.0h0 M483.9,427.0h0 M483.9,427.4h0 M483.6,425.7h0 M483.8,426.0h0 M482.7,426.5h0 M483.1,422.1h0 M483.5,421.6h0 M483.9,422.5h0 M484.0,423.2h0 M484.7,422.5h0 M484.8,421.0h0 M484.9,420.9h0 M485.8,420.0h0 M485.7,420.2h0 M484.9,419.5h0 M485.4,418.9h0 M486.8,419.5h0 M487.2,419.0h0 M486.1,417.3h0 M486.0,416.6h0 M485.6,416.3h0 M486.1,414.0h0 M485.9,412.8h0 M486.5,410.1h0 M485.8,408.0h0 M485.6,407.8h0 M485.8,407.9h0 M486.7,405.9h0 M486.9,403.6h0 M486.9,406.4h0 M486.4,404.5h0 M485.6,404.7h0 M486.5,405.2h0 M484.8,405.1h0 M485.0,403.1h0 M484.5,401.4h0 M485.5,399.3h0 M485.9,399.0h0 M486.3,400.7h0 M486.7,400.9h0 M487.2,400.8h0 M487.2,400.3h0 M488.1,398.0h0 M487.8,398.8h0 M487.6,400.1h0 M488.3,398.7h0 M488.1,397.8h0 M487.3,397.5h0 M488.1,398.2h0 M489.4,396.6h0 M488.4,395.7h0 M489.6,398.0h0 M490.2,400.7h0 M489.9,402.0h0 M490.9,402.6h0 M490.4,403.6h0 M489.2,403.9h0 M489.1,404.5h0 M488.6,404.8h0 M488.5,406.7h0 M487.0,405.8h0 M488.6,405.0h0 M489.2,404.4h0 M489.7,404.1h0 M489.0,404.4h0 M488.0,403.7h0 M488.7,403.1h0 M488.9,402.9h0 M489.2,402.5h0 M490.3,403.8h0 M489.3,402.6h0 M490.2,403.2h0 M490.8,401.8h0 M491.6,400.0h0 M492.9,400.1h0 M492.3,398.1h0 M492.0,398.6h0 M492.4,395.7h0 M492.2,394.4h0 M492.2,394.3h0 M491.7,394.7h0 M492.5,391.4h0 M493.3,391.9h0 M493.9,392.4h0 M493.1,392.4h0 M492.7,391.1h0 M493.4,389.4h0 M493.4,388.1h0 M493.1,390.2h0 M494.6,389.8h0 M494.5,389.0h0 M494.2,388.6h0 M492.6,388.7h0 M492.8,387.9h0 M493.1,389.0h0 M493.1,387.0h0 M493.3,387.1h0 M493.8,387.8h0 M492.3,386.5h0 M492.0,385.7h0 M492.1,385.8h0 M492.4,383.5h0 M492.7,382.1h0 M494.5,382.6h0 M494.3,381.6h0 M493.9,382.3h0 M495.3,382.8h0 M496.2,383.0h0 M496.0,383.9h0 M496.2,383.1h0 M496.6,385.0h0 M495.6,384.5h0 M496.1,386.6h0 M496.8,386.3h0 M496.7,387.4h0 M496.3,388.1h0 M496.5,390.5h0 M496.6,391.8h0 M495.4,390.9h0 M495.2,389.9h0 M496.1,393.4h0 M496.3,394.1h0 M495.9,393.5h0 M496.0,394.2h0 M497.3,394.0h0 M496.5,393.6h0 M495.8,393.5h0 M496.4,396.4h0 M496.2,395.9h0 M497.7,397.6h0 M496.4,397.0h0 M496.3,396.8h0 M497.3,396.8h0 M497.9,397.3h0 M498.8,395.5h0 M498.0,395.3h0 M498.0,395.3h0 M497.9,394.3h0 M497.2,392.4h0 M497.1,393.8h0 M498.1,392.4h0 M498.5,393.4h0 M497.6,394.5h0 M497.8,393.0h0 M497.5,393.2h0 M498.2,393.4h0 M499.0,393.4h0 M499.2,392.5h0 M499.7,392.5h0 M499.5,392.6h0 M499.7,390.7h0 M499.1,391.1h0 M499.3,391.2h0 M499.5,393.8h0 M499.1,391.3h0 M498.8,391.9h0 M499.5,392.6h0 M500.0,392.9h0 M500.7,391.7h0 M500.1,392.4h0 M500.6,391.7h0 M500.9,391.6h0 M499.9,392.0h0 M500.7,393.3h0 M500.0,391.8h0 M500.6,391.3h0 M500.5,392.5h0 M500.7,391.2h0 M501.0,389.7h0 M501.5,389.0h0 M502.6,389.5h0 M503.4,389.0h0 M503.2,387.3h0 M502.9,387.4h0 M503.5,385.8h0 M503.2,386.9h0 M503.5,387.7h0 M503.5,388.8h0 M503.6,387.0h0 M504.4,386.4h0 M504.4,385.4h0 M504.2,385.0h0 M502.4,384.7h0 M503.4,380.7h0 M504.2,380.8h0 M503.7,379.9h0 M504.0,379.9h0 M503.6,378.3h0 M502.3,378.8h0 M504.9,376.2h0 M504.4,376.1h0 M504.3,374.7h0 M503.8,373.5h0 M503.8,372.9h0 M504.2,374.4h0 M503.9,373.2h0 M503.2,373.8h0 M503.6,372.5h0 M503.4,372.2h0 M504.0,371.1h0 M504.4,369.8h0 M504.4,368.3h0 M505.7,366.7h0 M505.8,367.8h0 M505.2,370.5h0 M506.2,368.6h0 M505.9,368.5h0 M505.9,368.6h0 M506.6,369.1h0 M505.5,368.0h0 M504.8,365.2h0 M505.0,364.0h0 M506.6,363.2h0 M506.6,363.8h0 M506.5,364.5h0 M507.2,361.4h0 M508.7,360.9h0 M507.9,361.1h0 M509.1,360.6h0 M507.2,359.7h0 M507.7,359.4h0 M507.9,358.3h0 M506.7,357.9h0 M506.3,357.2h0 M504.5,355.9h0 M506.0,355.8h0 M505.4,355.6h0 M505.7,355.3h0 M505.6,355.0h0 M504.6,352.7h0 M504.7,351.1h0 M504.7,352.2h0 M505.2,351.7h0 M507.1,351.8h0 M507.8,352.0h0 M506.8,352.6h0 M507.0,352.0h0 M507.0,351.3h0 M507.2,349.2h0 M508.1,349.0h0 M507.9,348.5h0 M507.8,347.7h0 M507.0,346.3h0 M507.0,347.8h0 M508.3,348.3h0 M507.8,347.7h0 M508.9,348.2h0 M508.4,348.9h0 M509.0,349.7h0 M508.9,349.1h0 M509.4,349.5h0 M509.7,351.0h0 M508.9,350.9h0 M509.1,350.7h0 M509.6,351.6h0 M508.7,351.6h0 M507.7,352.6h0 M508.2,353.1h0 M508.8,352.1h0 M509.1,354.4h0 M509.0,355.5h0 M510.0,355.5h0 M509.7,357.5h0 M510.6,358.8h0 M509.6,359.3h0 M510.7,359.9h0 M510.3,360.3h0 M509.7,361.0h0 M509.9,363.0h0 M511.0,364.2h0 M511.8,366.0h0 M512.9,365.5h0 M511.1,365.4h0 M511.2,365.5h0 M511.2,365.2h0 M511.4,364.7h0 M512.5,364.8h0 M512.7,367.0h0 M511.0,367.0h0 M511.7,365.3h0 M510.6,365.4h0 M510.5,367.8h0 M510.7,371.1h0 M510.8,371.2h0 M510.0,372.7h0 M510.5,373.3h0 M511.4,372.2h0 M509.9,373.4h0 M510.8,373.0h0 M510.8,371.9h0 M510.5,371.0h0 M511.8,370.9h0 M512.8,369.7h0 M511.5,368.8h0 M512.1,369.0h0 M513.0,367.2h0 M514.4,365.4h0 M513.0,365.5h0 M513.4,365.3h0 M512.7,365.5h0 M512.7,364.8h0 M512.2,364.4h0 M511.6,363.4h0 M510.9,362.4h0 M512.0,362.2h0 M513.6,359.9h0 M514.6,358.9h0 M515.1,357.2h0 M514.5,358.8h0 M513.7,357.4h0 M514.1,358.6h0 M513.6,358.3h0 M513.3,357.5h0 M513.6,356.7h0 M513.0,356.3h0 M513.7,354.2h0 M513.2,355.4h0 M513.4,355.6h0 M513.3,355.8h0 M513.3,354.4h0 M513.3,354.5h0 M513.5,354.1h0 M513.5,353.4h0 M513.8,352.1h0 M513.7,351.4h0 M512.6,351.0h0 M512.7,351.1h0 M513.0,351.6h0 M513.9,348.1h0 M514.7,346.4h0 M514.9,346.9h0 M514.4,344.9h0 M514.1,344.1h0 M514.2,342.4h0 M515.6,343.1h0 M515.5,341.3h0 M515.6,341.1h0 M517.1,341.9h0 M517.4,340.8h0 M516.6,341.7h0 M516.8,340.4h0 M517.3,340.5h0 M516.3,341.0h0 M516.9,341.8h0 M515.8,340.2h0 M516.2,340.8h0 M515.5,338.9h0 M516.6,337.9h0 M516.7,337.4h0 M517.8,337.4h0 M517.2,336.7h0 M517.8,336.0h0 M516.1,336.0h0 M517.2,333.2h0 M516.9,333.6h0 M518.1,333.1h0 M517.1,331.9h0 M518.0,331.4h0 M519.2,330.8h0 M517.9,330.3h0 M519.0,327.1h0 M517.5,328.1h0 M518.0,330.1h0 M517.8,331.3h0 M517.7,330.5h0 M517.9,330.1h0 M518.4,330.8h0 M518.8,332.0h0 M519.3,333.9h0 M519.2,335.2h0 M520.2,334.1h0 M520.5,334.6h0 M520.5,335.6h0 M520.7,337.9h0 M520.4,339.9h0 M520.5,343.0h0 M520.9,343.7h0 M518.9,344.3h0 M520.3,343.7h0 M519.9,345.0h0 M519.5,345.6h0 M518.1,346.0h0 M519.5,347.4h0 M519.1,346.5h0 M518.9,348.5h0 M520.4,348.0h0 M520.2,347.1h0 M521.4,347.4h0 M522.9,348.5h0 M522.4,348.1h0 M522.6,348.3h0 M522.4,348.1h0 M522.8,351.3h0 M521.4,351.4h0 M521.7,351.1h0 M521.5,352.3h0 M520.8,350.8h0 M519.8,352.2h0 M521.0,350.9h0 M521.2,350.7h0 M521.8,350.2h0 M520.4,351.5h0 M520.7,352.8h0 M521.3,353.5h0 M522.0,353.4h0 M521.5,352.5h0 M522.2,353.8h0 M523.8,354.6h0 M523.0,356.0h0 M523.1,358.4h0 M523.2,358.4h0 M524.6,358.9h0 M523.4,357.9h0 M523.1,360.4h0 M523.1,360.5h0 M522.5,361.8h0 M522.4,361.2h0 M522.9,364.5h0 M522.6,364.7h0 M521.8,364.9h0 M520.6,366.3h0 M520.6,367.4h0 M521.5,367.8h0 M519.8,367.1h0 M521.1,367.0h0 M521.3,366.3h0 M522.6,364.9h0 M522.8,362.6h0 M523.4,363.9h0 M523.4,363.5h0 M524.0,365.0h0 M523.7,364.0h0 M524.5,364.4h0 M523.4,361.4h0 M523.4,362.1h0 M524.7,360.4h0 M525.7,359.3h0 M525.5,359.2h0 M525.6,357.8h0 M525.8,356.4h0 M525.9,355.7h0 M526.0,354.9h0 M526.0,353.9h0 M527.0,353.7h0 M526.1,353.2h0 M527.2,353.6h0 M526.3,353.6h0 M527.3,353.3h0 M527.9,352.6h0 M526.6,353.5h0 M526.1,351.7h0 M526.0,351.0h0 M527.4,350.3h0 M528.9,351.1h0 M528.7,351.0h0 M528.7,349.0h0 M528.8,348.4h0 M528.9,347.9h0 M529.1,345.8h0 M529.5,345.5h0 M528.8,345.8h0 M528.9,344.6h0 M528.9,343.6h0 M529.8,343.3h0 M529.4,343.3h0 M529.2,342.5h0 M530.1,344.2h0 M530.0,343.9h0 M530.3,343.3h0 M530.6,345.4h0 M530.2,343.6h0 M530.6,344.3h0 M531.1,344.3h0 M531.5,346.8h0 M530.4,347.2h0 M531.5,346.2h0 M531.7,344.5h0 M532.1,346.6h0 M531.5,347.0h0 M532.1,344.2h0 M531.1,344.6h0 M530.3,343.3h0 M530.6,342.3h0 M530.8,340.8h0 M531.6,339.8h0 M531.2,340.0h0 M533.1,341.8h0 M532.5,340.4h0 M531.9,339.9h0 M531.8,339.1h0 M531.2,338.7h0 M532.5,338.4h0 M531.9,341.2h0 M532.3,339.2h0 M531.6,337.7h0 M531.2,336.7h0 M532.3,337.9h0 M531.6,336.8h0 M531.8,335.7h0 M531.0,334.0h0 M530.9,333.9h0 M530.6,332.4h0 M531.7,331.1h0 M531.6,329.6h0 M531.4,328.2h0 M531.5,326.7h0 M532.1,325.5h0 M530.8,324.1h0 M532.7,323.2h0 M531.9,321.3h0 M532.3,319.1h0 M532.7,318.3h0 M532.7,316.8h0 M532.6,316.2h0 M533.2,314.7h0 M532.9,312.0h0 M533.3,310.9h0 M533.4,309.9h0 M533.5,308.7h0 M533.1,306.7h0 M533.5,306.0h0 M533.5,304.3h0 M533.3,303.4h0 M534.1,301.1h0 M534.4,299.8h0 M534.0,298.5h0 M535.1,296.9h0 M534.5,295.3h0 M535.1,293.7h0 M534.5,292.3h0 M535.0,290.5h0 M534.9,289.2h0 M535.3,287.6h0 M535.1,286.2h0 M535.1,285.1h0 M535.7,283.5h0 M536.1,282.2h0 M536.4,280.1h0 M536.1,278.9h0 M535.7,277.9h0 M535.4,276.3h0 M535.6,275.2h0 M536.3,273.4h0 M537.2,272.0h0 M538.7,266.6h0 M537.8,266.9h0 M537.9,268.7h0 M538.4,267.7h0 M539.2,266.7h0 M538.7,266.4h0 M538.8,265.0h0 M538.7,265.4h0 M538.6,263.9h0 M538.4,262.6h0 M539.6,263.1h0 M539.8,261.7h0 M539.8,261.0h0 M539.3,259.7h0 M538.9,260.7h0 M539.3,258.5h0 M538.1,257.4h0 M539.1,257.7h0 M538.6,257.2h0 M538.5,256.6h0 M538.4,255.1h0 M539.2,254.7h0 M539.3,255.4h0 M539.0,256.2h0 M539.3,255.8h0 M540.3,254.1h0 M540.3,253.4h0 M539.0,254.0h0 M539.8,253.3h0 M539.4,251.7h0 M540.6,250.7h0 M540.1,250.1h0 M541.0,249.4h0 M540.7,250.1h0 M540.9,249.7h0 M541.1,248.9h0 M542.1,248.4h0 M542.8,247.3h0 M541.8,245.2h0 M542.2,243.3h0 M542.7,242.3h0 M543.2,241.5h0 M543.9,243.0h0 M542.9,241.1h0 M543.2,239.7h0 M542.7,239.1h0 M541.2,239.4h0 M541.4,239.0h0 M541.6,239.0h0 M540.4,237.2h0 M540.1,235.9h0 M541.3,236.3h0 M542.0,235.9h0 M541.6,236.0h0 M541.0,234.8h0 M541.3,235.2h0 M541.3,235.1h0 M541.6,233.9h0 M541.6,234.6h0 M541.2,232.9h0 M542.3,233.7h0 M542.1,233.7h0 M542.1,234.9h0 M541.5,233.0h0 M542.0,231.7h0 M542.7,232.9h0 M542.8,233.1h0 M541.8,231.8h0 M541.3,228.4h0 M542.3,226.7h0 M540.8,227.5h0 M540.8,226.7h0 M540.7,226.6h0 M541.2,225.3h0 M542.0,226.7h0 M541.7,224.3h0 M543.0,224.1h0 M542.5,224.5h0 M543.2,226.1h0 M543.9,227.1h0 M543.7,227.4h0 M542.8,227.7h0 M543.7,229.1h0 M543.5,231.0h0 M542.9,230.3h0 M543.1,230.0h0 M543.9,231.5h0 M543.9,231.2h0 M543.2,231.7h0 M542.9,231.9h0 M542.9,231.2h0 M543.8,231.7h0 M543.4,233.1h0 M543.1,233.4h0 M543.6,235.1h0 M542.8,233.3h0 M542.5,234.4h0 M543.7,235.0h0 M543.1,235.2h0 M543.6,236.7h0 M543.6,236.3h0 M542.8,237.6h0 M543.6,238.5h0 M542.8,237.7h0 M543.4,238.4h0 M542.8,240.1h0 M543.5,240.0h0 M542.7,240.0h0 M543.3,240.4h0 M543.4,242.8h0 M543.7,242.3h0 M544.0,243.2h0 M544.2,243.9h0 M543.7,244.6h0 M543.7,245.0h0 M542.1,246.2h0 M543.4,245.9h0 M543.2,246.8h0 M543.4,246.3h0 M543.9,248.0h0 M544.5,247.2h0 M544.8,248.8h0 M544.5,249.6h0 M544.6,251.3h0 M543.9,251.5h0 M544.2,251.7h0 M543.8,252.6h0 M543.4,252.6h0 M544.4,253.3h0 M543.9,254.0h0 M544.0,255.4h0 M544.2,257.0h0 M544.4,256.7h0 M545.4,257.2h0 M545.4,257.6h0 M545.8,258.1h0 M546.5,257.9h0 M546.4,260.0h0 M547.5,260.5h0 M546.8,259.7h0 M546.2,259.5h0 M546.0,261.6h0 M546.9,261.9h0 M546.1,262.4h0 M546.8,260.4h0 M547.0,260.4h0 M547.2,260.1h0 M547.4,260.2h0 M547.4,258.3h0 M548.3,256.9h0 M547.2,257.0h0 M547.6,256.3h0 M547.1,254.8h0 M547.1,253.0h0 M546.1,253.7h0 M547.0,255.0h0 M546.1,252.9h0 M546.8,253.4h0 M547.1,252.0h0 M547.6,251.7h0 M548.1,251.5h0 M546.2,249.8h0 M545.5,248.8h0 M546.2,249.4h0 M545.7,245.6h0 M546.5,244.6h0 M548.1,244.0h0 M548.3,242.8h0 M546.8,243.7h0 M548.7,242.2h0 M547.3,242.0h0 M547.3,241.2h0 M546.9,241.6h0 M547.4,239.9h0 M547.7,239.9h0 M547.2,239.8h0 M547.5,237.7h0 M548.2,237.0h0 M547.4,236.1h0 M547.2,237.0h0 M547.3,234.5h0 M547.0,234.0h0 M547.3,234.5h0 M547.8,234.0h0 M547.9,235.3h0 M548.2,235.5h0 M547.6,237.0h0 M547.8,234.6h0 M547.3,233.9h0 M546.7,232.6h0 M546.2,232.7h0 M546.4,233.6h0 M546.2,231.3h0 M546.4,232.1h0 M547.3,231.6h0 M547.5,232.4h0 M547.9,234.2h0 M547.8,234.1h0 M549.1,234.0h0 M548.8,232.7h0 M550.0,232.8h0 M550.2,232.9h0 M549.8,235.1h0 M549.5,235.8h0 M548.5,236.1h0 M548.1,236.8h0 M548.6,237.8h0 M548.7,237.3h0 M549.2,238.2h0 M550.1,239.3h0 M548.5,238.8h0 M549.4,238.8h0 M549.0,239.6h0 M549.1,239.8h0 M549.7,241.4h0 M549.9,243.2h0 M549.8,242.3h0 M550.8,242.9h0 M551.4,244.4h0 M551.4,245.8h0 M551.9,246.1h0 M549.5,246.8h0 M550.9,246.8h0 M550.3,246.9h0 M549.3,245.8h0 M549.1,245.6h0 M547.9,246.6h0 M547.8,247.0h0 M547.6,247.2h0 M549.3,248.0h0 M550.2,250.5h0 M550.9,251.4h0 M550.4,252.6h0 M551.5,251.6h0 M551.2,253.3h0 M551.2,252.8h0 M551.6,252.7h0 M550.8,254.7h0 M550.7,255.2h0 M551.5,256.5h0 M551.2,257.8h0 M551.5,259.2h0 M551.2,258.6h0 M551.6,258.9h0 M550.8,258.9h0 M551.7,259.1h0 M551.5,258.6h0 M551.6,260.1h0 M552.5,259.8h0 M553.0,260.8h0 M554.1,261.0h0 M554.4,261.0h0 M554.6,261.5h0 M554.0,260.9h0 M553.3,260.1h0 M554.1,258.9h0 M553.6,258.4h0 M553.9,257.0h0 M553.8,256.8h0 M554.4,255.7h0 M553.8,256.6h0 M553.4,254.1h0 M553.2,253.0h0 M554.1,251.1h0 M554.1,249.4h0 M553.4,248.8h0 M553.9,249.1h0 M553.5,249.9h0 M554.0,247.6h0 M553.4,249.0h0 M552.8,249.1h0 M553.1,247.2h0 M553.2,247.0h0 M553.4,246.9h0 M552.7,247.0h0 M552.9,246.6h0 M552.2,246.9h0 M553.3,245.6h0 M553.9,245.8h0 M553.9,245.4h0 M555.2,245.3h0 M555.4,246.1h0 M554.7,244.3h0 M556.0,244.1h0 M556.0,242.5h0 M555.1,240.9h0 M555.9,240.2h0 M555.6,239.8h0 M555.5,240.2h0 M556.0,241.0h0 M556.6,244.6h0 M555.9,244.7h0 M555.7,244.1h0 M555.9,243.8h0 M555.6,244.7h0 M556.3,245.0h0 M555.1,245.2h0 M556.0,246.0h0 M555.9,247.9h0 M557.5,246.4h0 M557.3,248.1h0 M558.5,246.9h0 M556.7,246.8h0 M557.3,246.5h0 M557.4,246.6h0 M557.8,246.9h0 M557.7,246.5h0 M557.3,245.1h0 M558.1,245.2h0 M558.5,243.7h0 M558.0,243.8h0 M558.1,241.9h0 M559.4,241.3h0 M559.7,239.0h0 M559.4,237.8h0 M559.5,236.7h0 M558.6,236.1h0 M559.1,236.6h0 M558.3,236.5h0 M558.6,236.3h0 M558.6,233.9h0 M557.8,233.2h0 M557.4,232.1h0 M558.7,231.8h0 M558.5,230.8h0 M558.3,232.0h0 M559.1,230.8h0 M558.8,231.9h0 M559.6,232.0h0 M558.6,232.5h0 M559.1,232.7h0 M559.4,233.3h0 M558.8,234.7h0 M560.2,234.9h0 M559.2,235.1h0 M559.7,235.2h0 M559.5,235.4h0 M559.1,236.4h0 M559.5,237.7h0 M559.7,238.5h0 M560.4,240.8h0 M560.0,240.0h0 M560.7,239.8h0 M559.2,242.4h0 M559.7,243.4h0 M560.2,243.0h0 M559.0,245.4h0 M560.4,244.5h0 M558.9,244.3h0 M560.3,245.6h0 M559.8,245.6h0 M559.7,247.5h0 M560.1,247.4h0 M559.3,246.8h0 M559.0,247.0h0 M560.3,246.9h0 M560.1,249.9h0 M559.9,250.3h0 M560.5,250.9h0 M560.0,251.2h0 M560.2,251.6h0 M560.4,252.4h0 M560.2,252.7h0 M561.0,253.3h0 M560.7,252.4h0 M560.9,254.1h0 M561.5,254.9h0 M560.6,255.4h0 M561.1,255.9h0 M561.1,255.7h0 M561.1,256.1h0 M562.4,257.6h0 M561.7,258.2h0 M561.8,258.4h0 M561.7,260.9h0 M561.6,261.9h0 M562.7,263.2h0 M562.5,263.9h0 M562.7,264.6h0 M562.9,264.0h0 M562.0,264.0h0 M561.4,264.1h0 M561.4,265.1h0 M562.3,266.2h0 M561.1,267.5h0 M561.5,267.1h0 M562.0,267.7h0 M562.3,268.1h0 M562.8,268.7h0 M563.1,268.4h0 M563.0,268.3h0 M562.8,269.8h0 M563.8,270.4h0 M563.5,272.5h0 M564.1,271.7h0 M564.7,274.1h0 M564.9,274.9h0 M564.4,275.8h0 M563.3,276.3h0 M563.8,276.3h0 M564.7,276.4h0 M563.9,275.9h0 M564.0,275.6h0 M564.5,275.9h0 M564.6,277.0h0 M564.7,276.7h0 M563.8,277.8h0 M564.2,279.1h0 M564.4,278.7h0 M565.2,278.9h0 M564.8,280.3h0 M565.1,281.4h0 M565.2,282.4h0 M564.9,283.2h0 M565.9,282.7h0 M565.2,283.4h0 M565.6,282.7h0 M565.5,284.6h0 M565.1,286.0h0 M564.9,286.1h0 M565.2,287.4h0 M565.7,287.8h0 M565.9,289.1h0 M566.6,288.5h0 M566.5,289.0h0 M566.4,289.4h0 M567.7,290.0h0 M567.6,288.9h0 M566.6,288.3h0 M568.2,286.2h0 M568.1,286.3h0 M570.1,284.6h0 M569.0,285.8h0 M569.5,287.9h0 M569.2,288.0h0 M568.7,287.9h0 M568.4,286.6h0 M569.2,286.8h0 M569.3,286.4h0 M570.0,285.8h0 M570.6,284.9h0 M570.3,283.9h0 M571.0,283.4h0 M570.6,284.0h0 M570.4,284.6h0 M571.8,284.0h0 M570.9,284.3h0 M570.5,284.2h0 M570.8,284.1h0 M570.2,283.0h0 M569.7,283.3h0 M570.0,279.6h0 M570.3,279.5h0 M570.0,278.9h0 M571.0,277.5h0 M571.1,277.0h0 M570.2,275.6h0 M570.7,275.3h0 M570.7,274.7h0 M569.9,274.5h0 M570.1,274.2h0 M570.9,274.2h0 M571.1,272.7h0 M571.5,273.2h0 M571.4,272.4h0 M570.6,271.6h0 M570.8,270.8h0 M570.5,270.7h0 M571.7,270.7h0 M571.2,270.6h0 M571.2,268.2h0 M572.2,269.2h0 M572.0,269.7h0 M572.0,269.9h0 M572.5,269.4h0 M572.1,270.1h0 M572.8,269.5h0 M572.4,269.7h0 M573.8,268.3h0 M574.7,270.6h0 M575.1,270.4h0 M574.7,271.8h0 M574.0,271.8h0 M574.7,270.1h0 M574.4,269.8h0 M574.5,268.1h0 M574.5,267.1h0 M574.8,267.9h0 M575.1,267.0h0 M575.5,267.3h0 M576.1,267.6h0 M576.2,266.8h0 M576.1,266.4h0 M575.6,265.4h0 M575.7,266.3h0 M575.8,265.4h0 M575.7,266.5h0 M575.2,263.6h0 M565.1,261.3h0 M564.8,263.2h0 M565.1,264.4h0 M564.9,264.7h0 M565.3,266.8h0 M565.6,265.6h0 M565.4,266.2h0 M564.7,266.8h0 M564.5,265.9h0 M565.6,266.8h0 M565.3,267.2h0 M565.5,269.3h0 M565.9,270.2h0 M566.5,269.5h0 M566.2,270.1h0 M567.2,270.3h0 M565.9,271.3h0 M566.1,271.9h0 M565.9,272.2h0 M565.0,273.9h0 M566.6,275.3h0 M566.5,275.5h0 M566.2,276.5h0 M565.6,277.0h0 M565.9,278.4h0 M566.2,279.2h0 M566.1,279.8h0 M566.5,281.2h0 M566.7,281.5h0 M566.1,282.6h0 M567.1,282.3h0 M568.5,280.5h0 M567.8,280.3h0 M568.4,279.3h0 M568.9,279.2h0 M567.3,277.7h0 M569.4,277.1h0 M568.7,277.2h0 M568.2,276.7h0 M568.6,275.9h0 M569.0,276.0h0 M568.6,273.9h0 M568.8,273.6h0 M570.1,273.4h0 M569.6,272.3h0 M569.1,270.6h0 M568.9,271.6h0 M569.2,269.8h0 M569.3,269.1h0 M568.1,267.6h0 M567.2,268.1h0 M567.8,268.0h0 M567.8,267.0h0 M568.2,266.8h0 M568.9,267.3h0 M568.7,268.5h0 M568.8,266.7h0 M568.8,266.1h0 M569.1,265.7h0 M568.3,263.1h0 M568.1,262.0h0 M568.4,260.6h0 M568.3,258.9h0 M568.5,258.2h0 M567.6,257.8h0 M568.8,256.1h0 M567.8,255.2h0 M569.7,255.6h0 M569.3,255.5h0 M570.0,255.0h0 M570.4,255.1h0 M570.9,254.9h0 M570.4,255.2h0 M574.7,248.9h0 M574.1,248.0h0 M574.7,247.3h0 M574.4,246.7h0 M575.1,245.0h0 M575.4,246.5h0 M575.7,246.5h0 M575.0,244.8h0 M575.4,244.1h0 M575.8,244.0h0 M575.3,242.7h0 M576.4,241.1h0 M576.1,241.3h0 M576.3,241.2h0 M575.9,240.2h0 M576.5,239.8h0 M576.8,238.7h0 M576.5,239.9h0 M576.5,238.8h0 M576.3,237.7h0 M576.6,236.2h0 M576.7,236.6h0 M577.2,236.4h0 M576.7,234.6h0 M576.7,234.5h0 M576.1,232.3h0 M576.8,230.6h0 M577.2,230.1h0 M577.4,229.3h0 M576.7,228.6h0 M576.5,227.7h0 M576.6,227.0h0 M576.9,225.6h0 M577.4,224.9h0 M578.0,225.1h0 M578.5,224.7h0 M578.1,225.8h0 M579.1,224.5h0 M578.5,224.5h0 M580.0,224.5h0 M580.1,223.5h0 M581.2,223.8h0 M579.5,225.7h0 M580.5,226.5h0 M581.3,224.8h0 M581.3,226.1h0 M580.6,225.5h0 M580.2,227.3h0 M580.2,226.4h0 M581.0,226.9h0 M581.9,227.9h0 M581.3,229.5h0 M581.6,230.2h0 M582.2,231.9h0 M582.7,233.5h0 M582.1,233.6h0 M582.1,233.5h0 M582.1,232.3h0 M581.5,232.5h0 M582.4,233.5h0 M582.1,234.6h0 M583.1,236.0h0 M583.0,237.1h0 M583.6,237.2h0 M583.5,237.3h0 M583.7,235.5h0 M583.5,235.2h0 M582.7,234.6h0 M582.9,235.1h0 M583.0,233.4h0 M577.9,242.9h0 M579.3,243.4h0 M578.5,243.1h0 M578.9,245.8h0 M579.6,247.0h0 M579.5,248.8h0 M580.9,245.5h0 M581.6,245.4h0 M582.4,245.1h0 M582.9,245.5h0 M582.8,245.5h0 M585.0,248.8h0 M585.8,250.5h0 M586.4,249.9h0 M586.7,248.7h0 M586.7,244.5h0 M586.0,244.9h0 M585.8,243.9h0 M586.2,242.4h0 M583.6,241.2h0 M588.4,197.7h0 M589.1,199.6h0 M590.0,201.3h0 M590.5,205.1h0 M591.0,206.6h0 M591.5,209.7h0 M591.3,212.8h0 M591.3,215.2h0 M591.3,219.4h0 M590.0,223.5h0 M589.5,224.6h0 M588.8,225.7h0 M588.0,228.4h0 M590.5,230.3h0 M590.7,232.3h0 M591.0,235.0h0 M590.4,236.0h0 M591.3,237.0h0 M589.2,239.3h0 M588.3,242.9h0 M589.1,244.8h0 M589.6,245.7h0 M589.9,247.7h0 M588.8,249.5h0 M588.0,253.4h0 M589.0,255.4h0 M587.9,257.5h0 M587.3,259.2h0 M587.4,261.7h0 M588.4,263.1h0 M587.4,266.2h0 M587.4,268.2h0 M595.1,284.4h0 M596.1,282.7h0 M596.8,282.2h0 M597.6,278.7h0 M598.2,275.2h0 M598.8,273.4h0 M599.0,270.4h0 M598.9,268.7h0 M598.0,265.9h0 M597.6,263.2h0 M597.5,262.8h0 M598.1,261.0h0 M599.3,258.5h0 M598.0,256.1h0 M598.2,254.9h0 M598.7,253.3h0 M598.3,252.5h0 M599.0,251.8h0 M599.1,250.1h0 M598.0,246.8h0 M597.7,244.5h0 M599.1,241.9h0 M599.0,239.2h0 M599.8,236.7h0 M600.2,234.0h0 M599.7,232.2h0 M599.7,231.1h0 M599.1,227.2h0 M599.9,224.3h0 M599.7,221.5h0 M599.8,220.4h0 M599.5,218.7h0 M599.2,216.3h0 M599.7,215.0h0 M599.5,213.4h0 M600.1,211.2h0 M600.6,208.3h0 M602.0,205.0h0 M602.3,200.9h0 M602.4,198.6h0 M603.4,197.2h0 M602.8,195.6h0 M591.6,232.3h0 M592.3,234.4h0 M592.1,235.0h0 M591.5,238.3h0 M591.4,239.7h0 M591.3,241.0h0 M591.2,242.0h0 M591.0,243.4h0 M591.2,244.8h0 M592.0,246.9h0 M591.8,248.3h0 M591.9,249.4h0 M593.2,252.0h0 M602.7,194.2h0 M603.0,192.6h0 M603.1,190.8h0 M603.0,190.3h0 M603.3,189.7h0 M604.4,189.5h0 M603.3,188.2h0 M604.1,188.3h0 M604.5,187.1h0 M603.9,186.5h0 M605.0,185.2h0 M604.9,184.8h0 M605.3,185.2h0 M604.9,184.6h0 M605.4,184.5h0 M605.1,183.3h0 M605.8,182.2h0 M605.4,181.9h0 M605.2,181.4h0 M604.1,179.8h0 M603.8,179.8h0 M605.3,179.1h0 M605.0,177.3h0 M604.5,175.1h0 M605.1,175.9h0 M604.7,176.1h0 M604.6,173.7h0 M604.8,173.4h0 M604.2,172.1h0 M604.2,171.0h0 M603.9,170.7h0 M604.0,170.6h0 M603.3,169.6h0 M603.4,167.9h0 M602.8,167.8h0 M602.8,166.7h0 M602.5,167.1h0 M602.4,165.6h0 M603.2,166.2h0 M603.7,164.7h0 M603.1,165.2h0 M603.8,163.6h0 M603.4,163.5h0 M603.4,162.6h0 M604.2,162.9h0 M603.7,161.8h0 M604.2,160.1h0 M603.7,159.8h0 M603.9,158.3h0 M604.3,157.2h0 M604.1,156.2h0 M604.4,156.7h0 M604.6,156.1h0 M605.3,154.7h0 M603.8,153.3h0 M604.4,153.2h0 M604.9,151.8h0 M604.6,150.0h0 M605.0,148.3h0 M605.5,148.3h0 M605.9,148.4h0 M605.7,147.2h0 M606.9,147.4h0 M606.4,145.0h0 M606.1,145.3h0 M606.1,145.2h0 M606.2,144.1h0 M606.9,144.8h0 M607.0,144.6h0 M607.1,145.5h0 M606.9,147.6h0 M607.6,148.4h0 M606.9,149.5h0 M607.1,151.3h0 M607.8,151.6h0 M606.9,153.6h0 M607.5,154.3h0 M607.4,154.6h0 M607.1,156.0h0 M607.3,155.6h0 M607.0,157.5h0 M607.4,160.2h0 M607.3,160.8h0 M606.6,160.5h0 M606.7,161.8h0 M606.8,161.6h0 M606.3,160.9h0 M606.9,162.6h0 M607.0,163.7h0 M608.4,165.7h0 M607.6,166.3h0 M607.4,166.9h0 M607.7,165.4h0 M607.7,167.1h0 M607.6,168.5h0 M607.1,169.5h0 M608.2,170.8h0 M608.3,170.3h0 M608.5,171.0h0 M608.2,170.3h0 M607.5,172.5h0 M608.2,174.4h0 M608.0,175.5h0 M607.9,176.3h0 M609.2,175.9h0 M609.2,174.8h0 M609.3,175.5h0 M609.5,175.5h0 M609.4,172.8h0 M609.6,171.9h0 M610.0,171.6h0 M609.3,170.7h0 M609.7,169.7h0 M609.2,168.4h0 M609.4,168.3h0 M609.6,166.4h0 M609.5,165.5h0 M609.5,164.6h0 M609.8,164.5h0 M609.9,165.0h0 M610.4,164.0h0 M609.8,164.3h0 M609.9,163.8h0 M610.5,162.3h0 M610.3,161.1h0 M610.0,158.2h0 M609.5,158.3h0 M610.2,158.7h0 M609.8,157.1h0 M609.2,155.6h0 M609.3,155.0h0 M609.5,155.8h0 M609.9,155.4h0 M610.4,154.2h0 M609.5,155.7h0 M610.2,154.2h0 M610.5,153.2h0 M610.7,152.6h0 M610.5,150.8h0 M610.2,149.0h0 M610.9,149.7h0 M610.9,149.0h0 M611.3,147.9h0 M611.1,145.7h0 M610.3,144.7h0 M610.4,144.2h0 M611.1,143.2h0 M610.2,141.1h0 M610.8,139.4h0 M609.9,138.6h0 M610.2,137.6h0 M611.0,136.8h0 M610.5,135.3h0 M610.9,136.3h0 M611.0,135.2h0 M611.6,133.9h0 M612.1,134.0h0 M610.7,132.3h0 M612.3,131.9h0 M612.3,132.3h0 M612.5,134.0h0 M612.0,135.4h0 M613.5,137.4h0 M612.5,137.3h0 M613.2,137.3h0 M612.6,138.3h0 M613.2,138.3h0 M613.8,138.7h0 M613.7,139.5h0 M613.4,140.6h0 M613.5,140.9h0 M614.3,142.9h0 M614.5,144.1h0 M614.3,144.5h0 M614.8,144.5h0 M614.0,146.1h0 M614.5,146.8h0 M614.3,146.5h0 M614.3,148.8h0 M614.2,149.7h0 M613.1,149.3h0 M613.3,150.7h0 M612.5,151.6h0 M612.4,153.1h0 M614.1,152.2h0 M613.0,152.8h0 M614.2,153.5h0 M613.7,154.5h0 M613.2,156.5h0 M613.3,155.5h0 M614.0,155.5h0 M613.4,156.1h0 M613.1,156.2h0 M613.0,157.7h0 M613.0,157.2h0 M613.4,159.9h0 M612.7,161.5h0 M612.5,160.8h0 M613.0,161.8h0 M614.0,163.6h0 M614.2,165.4h0 M613.4,166.3h0 M613.7,167.7h0 M612.7,167.6h0 M613.5,168.9h0 M613.3,170.1h0 M613.6,171.4h0 M614.4,170.6h0 M613.7,171.6h0 M614.4,171.2h0 M614.7,170.7h0 M615.2,173.2h0 M613.9,174.0h0 M614.1,174.6h0 M613.6,174.9h0 M613.0,175.1h0 M613.0,176.3h0 M612.4,178.1h0 M612.1,177.5h0 M612.8,179.6h0 M612.6,179.8h0 M612.8,182.1h0 M613.0,182.2h0 M611.8,182.8h0 M612.1,184.3h0 M612.3,185.8h0 M612.7,186.3h0 M612.6,185.9h0 M613.6,187.7h0 M612.7,190.1h0 M613.2,189.1h0 M613.9,189.9h0 M613.9,190.6h0 M614.1,192.2h0 M613.9,193.1h0 M614.0,194.2h0 M614.5,194.9h0 M614.1,197.2h0 M614.8,196.3h0 M613.9,197.6h0 M614.3,199.4h0 M613.9,197.9h0 M614.2,198.8h0 M614.0,199.2h0 M615.4,198.6h0 M615.6,200.8h0 M616.2,200.8h0 M615.9,202.3h0 M615.9,202.2h0 M616.6,203.3h0 M616.9,204.3h0 M617.1,204.7h0 M617.7,205.6h0 M618.1,205.5h0 M618.5,205.3h0 M617.8,204.8h0 M617.9,206.0h0 M616.9,206.0h0 M617.2,207.2h0 M617.1,208.1h0 M617.4,209.0h0 M618.2,208.1h0 M618.7,208.2h0 M619.8,207.3h0 M619.3,205.9h0 M619.3,204.1h0 M619.5,204.1h0 M618.7,203.5h0 M618.7,203.8h0 M619.6,202.2h0 M619.4,202.0h0 M618.1,201.2h0 M617.0,200.9h0 M618.5,199.7h0 M617.7,200.1h0 M618.0,198.5h0 M618.1,196.7h0 M618.4,196.3h0 M618.1,195.9h0 M619.3,193.8h0 M619.2,192.2h0 M619.0,189.6h0 M620.1,188.8h0 M619.6,187.6h0 M620.4,187.6h0 M619.4,187.2h0 M620.1,186.4h0 M620.6,186.4h0 M621.0,186.2h0 M620.6,187.1h0 M620.2,186.0h0 M620.0,183.9h0 M620.4,183.2h0 M620.7,183.6h0 M620.6,182.2h0 M620.8,179.0h0 M620.4,179.5h0 M621.5,180.2h0 M622.1,178.0h0 M621.2,178.3h0 M621.5,177.6h0 M621.4,177.3h0 M621.5,177.6h0 M621.6,177.0h0 M621.6,176.2h0 M620.6,174.7h0 M621.9,174.5h0 M621.7,173.8h0 M621.1,173.5h0 M621.5,173.4h0 M621.1,172.2h0 M621.1,173.4h0 M621.5,172.9h0 M621.1,170.7h0 M621.6,169.1h0 M622.2,168.4h0 M622.0,169.1h0 M621.2,167.9h0 M621.7,165.7h0 M622.0,165.4h0 M621.4,165.2h0 M621.7,165.0h0 M621.5,164.4h0 M621.6,162.7h0 M620.8,161.3h0 M621.6,160.7h0 M621.9,160.9h0 M622.3,159.1h0 M623.1,159.4h0 M623.5,157.9h0 M623.2,157.5h0 M624.3,156.1h0 M623.4,155.2h0 M623.8,154.4h0 M624.6,154.0h0 M623.5,153.8h0 M624.0,151.4h0 M623.8,150.6h0 M623.6,150.1h0 M623.9,150.5h0 M623.2,151.5h0 M623.4,152.1h0 M624.4,153.4h0 M624.5,154.6h0 M625.3,154.5h0 M626.1,155.3h0 M625.7,156.4h0 M625.9,157.8h0 M624.1,158.5h0 M623.9,159.8h0 M624.9,161.6h0 M624.6,162.0h0 M624.5,162.5h0 M625.5,163.5h0 M625.0,163.5h0 M624.5,164.5h0 M625.5,164.6h0 M626.0,165.6h0 M625.2,166.2h0 M625.5,168.1h0 M626.2,169.3h0 M625.4,169.2h0 M626.0,170.1h0 M626.1,170.4h0 M625.9,169.5h0 M625.0,171.6h0 M625.4,171.8h0 M625.7,173.4h0 M625.2,173.9h0 M624.8,173.9h0 M625.0,175.0h0 M624.6,175.5h0 M625.8,175.9h0 M625.4,176.3h0 M625.3,178.1h0 M626.1,178.0h0 M625.4,179.0h0 M625.2,179.8h0 M625.7,180.0h0 M626.5,180.8h0 M626.1,180.5h0 M627.0,182.5h0 M626.8,184.2h0 M627.1,186.1h0 M627.6,186.5h0 M627.9,186.9h0 M627.3,186.4h0 M627.7,187.5h0 M626.7,189.0h0 M626.9,188.1h0 M627.1,189.9h0 M627.3,190.5h0 M627.8,192.3h0 M627.1,192.0h0 M627.6,192.8h0 M627.8,194.3h0 M627.5,195.0h0 M627.5,196.0h0 M627.9,197.2h0 M627.5,198.5h0 M628.2,199.9h0 M627.6,201.0h0 M627.3,200.8h0 M627.6,199.1h0 M627.5,197.8h0 M627.3,198.2h0 M627.5,195.6h0 M627.9,194.6h0 M628.7,192.7h0 M628.2,191.4h0 M628.6,190.5h0 M628.3,189.5h0 M628.0,189.3h0 M628.7,187.2h0 M627.4,188.2h0 M628.1,187.8h0 M627.8,186.4h0 M628.7,186.0h0 M628.5,185.6h0 M629.3,186.1h0 M629.3,183.7h0 M629.1,182.3h0 M629.0,180.7h0 M629.2,180.5h0 M628.0,181.0h0 M630.0,179.7h0 M628.8,179.1h0 M630.1,178.9h0 M629.7,177.9h0 M629.6,177.9h0 M629.4,176.3h0 M628.7,177.0h0 M629.6,174.6h0 M628.5,174.9h0 M628.6,174.6h0 M628.9,173.5h0 M628.7,173.2h0 M628.1,172.8h0 M628.0,173.1h0 M628.9,172.1h0 M629.0,170.8h0 M629.5,170.8h0 M628.9,169.7h0 M629.3,168.8h0 M629.2,167.7h0 M629.0,168.3h0 M629.2,165.8h0 M628.5,166.0h0 M628.4,165.5h0 M629.6,163.2h0 M630.2,163.2h0 M629.5,161.8h0 M629.9,160.5h0 M630.1,159.2h0 M629.3,157.5h0 M630.8,155.8h0 M631.0,155.6h0 M630.6,155.9h0 M629.2,155.4h0 M630.7,154.0h0 M629.5,154.4h0 M630.4,153.3h0 M629.5,151.7h0 M630.8,151.3h0 M630.0,150.6h0 M630.4,148.9h0 M630.6,148.8h0 M630.4,147.6h0 M629.7,146.2h0 M630.1,145.0h0 M629.9,144.5h0 M630.4,142.4h0 M630.0,142.6h0 M630.1,141.9h0 M629.7,142.5h0 M629.7,141.2h0 M629.6,141.2h0 M629.6,140.9h0 M628.4,139.1h0 M629.1,140.1h0 M628.6,139.5h0 M629.7,139.3h0 M629.1,137.8h0 M629.3,136.4h0 M629.2,136.6h0 M628.7,135.0h0 M628.8,134.7h0 M628.3,135.4h0 M628.8,135.5h0 M629.0,136.9h0 M629.4,137.7h0 M630.3,139.1h0 M630.0,139.7h0 M630.6,140.4h0 M630.5,140.4h0 M631.1,141.1h0 M632.2,142.7h0 M632.2,144.2h0 M632.4,145.0h0 M632.3,145.8h0 M632.4,146.9h0 M633.0,147.4h0 M633.0,148.1h0 M633.9,148.4h0 M632.5,150.5h0 M633.2,150.2h0 M632.6,151.3h0 M633.6,150.7h0 M633.4,149.8h0 M634.0,149.2h0 M633.6,147.2h0 M633.3,147.2h0 M634.3,146.9h0 M633.5,145.6h0 M633.8,145.6h0 M633.9,144.7h0 M634.7,142.3h0 M635.3,141.3h0 M635.7,141.0h0 M635.0,139.5h0 M635.7,139.6h0 M636.5,138.6h0 M636.1,137.6h0 M636.1,138.1h0 M635.9,137.6h0 M635.5,138.4h0 M635.9,140.1h0 M635.3,139.2h0 M634.9,139.7h0 M634.5,140.0h0 M635.4,138.6h0 M633.9,138.3h0 M634.6,139.8h0 M636.4,141.8h0 M635.7,142.3h0 M636.9,145.1h0 M635.9,145.9h0 M635.9,147.6h0 M634.3,147.7h0 M633.8,150.6h0 M634.0,151.8h0 M634.3,151.9h0 M634.3,152.4h0 M634.6,153.2h0 M634.9,155.5h0 M635.6,154.3h0 M636.0,156.2h0 M636.2,156.0h0 M637.0,155.7h0 M637.0,156.8h0 M637.0,155.9h0 M636.5,155.5h0 M637.7,156.4h0 M637.2,159.0h0 M637.4,160.2h0 M637.5,161.2h0 M636.9,161.8h0 M638.3,162.6h0 M638.1,163.4h0 M637.8,163.5h0 M637.8,163.7h0 M637.8,163.9h0 M637.9,165.1h0 M638.1,165.3h0 M638.3,165.2h0 M638.6,165.7h0 M639.0,166.3h0 M639.0,168.7h0 M638.7,168.1h0 M638.1,170.0h0 M638.9,170.6h0 M638.1,171.3h0 M639.1,172.0h0 M639.3,173.3h0 M639.3,174.7h0 M638.9,176.0h0 M638.1,176.7h0 M637.7,176.9h0 M638.6,177.1h0 M638.4,178.8h0 M638.5,178.8h0 M638.3,180.3h0 M638.6,180.8h0 M639.3,182.1h0 M639.1,183.6h0 M639.6,184.1h0 M639.5,185.3h0 M639.5,185.3h0 M639.3,186.4h0 M639.8,187.3h0 M639.9,188.8h0 M639.7,188.0h0 M639.6,189.2h0 M639.3,190.8h0 M640.2,191.0h0 M639.7,193.4h0 M641.1,194.5h0 M641.0,195.0h0 M640.2,196.6h0 M640.5,197.5h0 M640.8,199.3h0 M640.7,200.2h0 M640.9,201.3h0 M642.3,201.7h0 M641.3,201.1h0 M641.9,202.1h0 M641.4,201.8h0 M641.8,203.7h0 M641.6,204.3h0 M642.1,204.3h0 M642.2,205.3h0 M641.3,207.0h0 M641.8,207.9h0 M640.4,208.3h0 M641.6,207.7h0 M640.9,207.9h0 M641.4,209.4h0 M640.8,209.9h0 M641.2,212.6h0 M640.4,210.0h0 M640.2,188.3h0 M639.1,187.3h0 M639.0,187.6h0 M639.8,189.2h0 M640.3,190.6h0 M639.4,190.6h0 M640.4,190.6h0 M640.8,191.2h0 M641.1,192.3h0 M641.2,192.8h0 M641.1,193.7h0 M641.4,195.3h0 M640.7,195.4h0 M640.2,195.4h0 M639.8,195.2h0 M638.9,195.0h0 M639.2,195.7h0 M640.3,194.5h0 M640.5,196.0h0 M640.4,197.6h0 M641.0,199.3h0 M640.4,201.5h0 M639.3,202.6h0 M640.0,203.5h0 M640.7,202.2h0 M640.6,199.8h0 M640.2,199.8h0 M640.4,198.7h0 M640.2,198.3h0 M639.6,197.1h0 M639.4,195.3h0 M640.7,193.9h0 M641.2,193.1h0 M640.2,191.7h0 M639.3,191.9h0 M640.1,192.2h0 M640.3,192.4h0 M640.7,193.1h0 M639.9,194.9h0 M640.3,192.2h0 M640.0,193.4h0 M641.0,192.6h0 M641.8,192.0h0 M642.4,189.0h0 M642.0,189.3h0 M642.0,187.2h0 M641.8,184.3h0 M642.6,185.6h0 M641.4,185.8h0 M642.5,185.6h0 M641.1,184.6h0 M640.5,182.4h0 M640.5,182.1h0 M640.3,180.8h0 M641.2,182.6h0 M641.6,182.2h0 M643.3,183.2h0 M643.4,182.3h0 M643.4,184.9h0 M643.8,185.7h0 M643.5,184.8h0 M644.2,184.4h0 M644.5,183.8h0 M643.5,184.7h0 M644.0,186.6h0 M643.8,186.9h0 M645.1,187.4h0 M645.2,189.3h0 M644.9,190.8h0 M644.2,191.4h0 M644.9,190.6h0 M644.3,190.9h0 M644.5,193.1h0 M645.6,192.6h0 M645.6,192.6h0 M644.7,193.8h0 M643.6,193.2h0 M644.9,194.4h0 M645.4,196.3h0 M645.3,195.2h0 M644.3,197.1h0 M645.2,198.0h0 M646.1,197.1h0 M646.3,197.3h0 M645.7,196.7h0 M645.2,199.2h0 M644.9,199.6h0 M645.6,200.3h0 M644.8,201.6h0 M644.0,201.5h0 M644.1,202.9h0 M644.3,204.9h0 M644.7,206.0h0 M644.4,206.9h0 M645.1,206.2h0 M646.1,206.3h0 M644.8,207.5h0 M645.8,206.8h0 M646.2,206.5h0 M647.3,205.6h0 M647.2,206.5h0 M647.4,208.2h0 M648.2,209.2h0 M647.1,209.7h0 M647.8,210.9h0 M647.7,211.9h0 M647.9,212.2h0 M647.8,212.2h0 M647.8,213.5h0 M647.7,216.6h0 M647.1,217.3h0 M648.8,217.3h0 M647.1,218.9h0 M646.9,219.4h0 M646.7,218.9h0 M646.2,219.8h0 M647.3,219.6h0 M648.0,218.6h0 M647.0,218.8h0 M646.6,218.0h0 M647.0,217.0h0 M648.4,217.2h0 M647.4,216.3h0 M648.1,214.5h0 M647.7,212.9h0 M648.3,211.7h0 M648.4,211.7h0 M647.3,210.3h0 M646.5,209.2h0 M647.9,208.4h0 M647.2,208.7h0 M648.1,207.7h0 M647.7,207.7h0 M647.7,206.9h0 M647.5,206.6h0 M648.1,204.9h0 M648.2,208.4h0 M649.0,208.1h0 M648.6,206.8h0 M647.9,208.1h0 M647.6,206.6h0 M647.6,206.3h0 M646.6,206.7h0 M647.0,205.3h0 M648.1,203.9h0 M648.9,202.9h0 M649.6,202.8h0 M649.9,202.8h0 M650.1,201.7h0 M649.5,201.8h0 M650.7,199.0h0 M651.4,198.6h0 M652.0,197.7h0 M651.3,197.2h0 M650.5,195.1h0 M651.3,194.1h0 M650.9,193.4h0 M651.2,193.6h0 M651.0,193.1h0 M651.8,192.5h0 M650.3,192.6h0 M649.8,190.7h0 M649.2,188.0h0 M649.9,188.6h0 M650.1,187.3h0 M649.7,188.0h0 M651.0,189.9h0 M650.3,189.8h0 M651.4,189.9h0 M650.6,191.9h0 M651.6,191.9h0 M652.4,190.0h0 M652.5,190.0h0 M652.4,191.5h0 M652.9,192.7h0 M653.3,193.2h0 M652.2,194.2h0 M652.3,193.5h0 M651.9,193.4h0 M652.4,194.7h0 M651.0,196.0h0 M650.9,196.6h0 M650.8,197.7h0 M650.4,197.2h0 M650.8,198.4h0 M649.9,199.3h0 M650.9,201.1h0 M650.1,199.9h0 M650.7,201.4h0 M650.2,201.2h0 M649.5,203.4h0 M650.0,203.7h0 M651.0,206.3h0 M650.0,207.4h0 M650.0,208.0h0 M650.9,207.1h0 M651.1,207.5h0 M651.9,207.7h0 M652.0,209.5h0 M652.4,209.4h0 M652.8,211.1h0 M653.2,212.0h0 M652.8,212.8h0 M653.7,211.9h0 M653.1,211.8h0 M652.8,212.1h0 M653.4,213.3h0 M653.5,213.8h0 M653.4,214.0h0 M653.0,214.9h0 M653.3,215.6h0 M653.4,215.4h0 M653.7,215.8h0 M653.6,214.3h0 M653.3,216.3h0 M653.6,217.9h0 M653.8,217.9h0 M653.4,220.5h0 M653.4,220.6h0 M654.3,222.6h0 M655.0,222.3h0 M654.8,222.0h0 M655.4,221.5h0 M654.3,223.1h0 M653.2,223.4h0 M653.0,224.8h0 M652.0,224.9h0 M652.0,225.7h0 M650.2,227.8h0 M651.3,229.8h0 M651.9,229.9h0 M650.8,231.3h0 M651.7,230.8h0 M653.6,230.4h0 M652.9,231.5h0 M652.3,231.1h0 M653.0,230.3h0 M653.7,228.4h0 M653.4,229.8h0 M654.6,226.9h0 M654.2,226.1h0 M653.2,225.4h0 M654.2,224.6h0 M654.3,223.4h0 M656.1,223.2h0 M655.2,222.5h0 M655.8,223.2h0 M656.4,222.2h0 M656.8,218.8h0 M656.7,219.4h0 M655.6,221.5h0 M656.3,221.5h0 M657.3,222.3h0 M656.6,223.3h0 M656.8,222.8h0 M657.2,223.1h0 M657.0,224.7h0 M657.0,225.5h0 M656.9,226.3h0 M656.7,226.9h0 M656.9,226.6h0 M656.3,227.2h0 M657.2,228.5h0 M657.1,229.3h0 M657.9,229.2h0 M656.9,230.0h0 M658.6,229.8h0 M658.5,231.3h0 M658.1,231.3h0 M658.9,231.5h0 M659.1,235.1h0 M659.4,233.9h0 M659.9,234.6h0 M659.8,237.3h0 M660.9,237.5h0 M659.9,239.7h0 M659.9,239.9h0 M661.1,239.7h0 M659.9,240.7h0 M659.8,240.9h0 M659.7,239.8h0 M660.0,240.4h0 M661.5,239.8h0 M660.2,239.2h0 M660.2,236.7h0 M660.8,235.2h0 M660.7,236.1h0 M662.5,234.7h0 M662.5,233.5h0 M662.9,232.3h0 M664.0,231.4h0 M664.3,231.1h0 M663.9,231.5h0 M664.2,230.7h0 M664.9,231.2h0 M664.7,230.9h0 M664.9,229.9h0 M664.6,228.8h0 M665.8,230.2h0 M665.9,232.0h0 M666.1,233.3h0 M666.1,235.3h0 M665.8,237.2h0 M665.5,237.8h0 M664.5,237.7h0 M665.5,239.6h0 M665.4,238.1h0 M666.0,239.7h0 M665.4,240.6h0 M664.8,240.8h0 M665.7,240.9h0 M665.4,239.7h0 M665.6,238.3h0 M667.0,238.3h0 M667.5,237.6h0 M667.8,236.6h0 M667.4,235.9h0 M668.0,234.5h0 M668.1,232.8h0 M667.2,231.7h0 M667.7,231.4h0 M668.6,230.8h0 M668.7,230.7h0 M668.0,230.5h0 M668.5,231.2h0 M667.5,231.8h0 M668.5,229.8h0 M667.3,228.4h0 M667.2,227.1h0 M666.3,226.5h0 M666.3,226.0h0 M665.8,226.3h0 M665.8,227.6h0 M667.0,227.0h0 M666.9,225.9h0 M668.3,224.0h0 M668.3,223.4h0 M668.0,219.7h0 M669.0,218.5h0 M668.2,218.0h0 M668.1,217.3h0 M669.3,217.6h0 M669.2,218.3h0 M668.3,215.5h0 M667.9,215.1h0 M667.4,214.9h0 M666.8,214.2h0 M667.0,213.7h0 M666.8,212.2h0 M666.1,211.5h0 M666.9,213.2h0 M667.4,212.9h0 M668.3,212.9h0 M669.2,213.5h0 M669.7,213.1h0 M669.8,214.2h0 M669.9,212.8h0 M668.9,211.4h0 M669.2,210.7h0 M670.2,209.4h0 M669.8,208.3h0 M670.1,207.5h0 M669.4,208.0h0 M668.1,207.2h0 M668.8,206.9h0 M668.0,205.9h0 M668.0,204.2h0 M668.2,204.1h0 M668.2,203.4h0 M668.5,202.7h0 M667.7,201.8h0 M667.8,201.4h0 M666.1,199.9h0 M666.8,199.3h0 M666.1,199.7h0 M666.2,199.8h0 M666.8,198.6h0 M666.9,196.3h0 M667.1,197.2h0 M668.5,195.8h0 M670.1,195.2h0 M668.7,193.7h0 M669.1,192.0h0 M668.7,192.8h0 M669.4,190.3h0 M669.1,188.8h0 M670.2,189.3h0 M668.7,187.8h0 M668.8,189.2h0 M668.6,188.1h0 M669.6,188.3h0 M669.9,189.1h0 M669.6,187.7h0 M670.0,187.6h0 M670.8,189.5h0 M670.1,188.7h0 M670.6,188.4h0 M670.0,187.2h0 M671.1,188.5h0 M670.2,191.3h0 M670.6,190.8h0 M670.0,192.5h0 M669.7,192.4h0 M670.2,193.2h0 M670.3,192.9h0 M670.5,194.7h0 M670.2,193.3h0 M669.6,193.3h0 M670.2,194.3h0 M669.8,195.7h0 M670.3,195.6h0 M669.8,194.7h0 M669.4,196.1h0 M670.3,196.4h0 M670.4,197.6h0 M669.6,198.2h0 M669.3,198.3h0 M669.1,199.7h0 M669.7,200.6h0 M669.5,202.1h0 M671.0,202.8h0 M671.7,202.7h0 M670.7,202.0h0 M671.7,202.5h0 M671.6,201.6h0 M672.0,204.8h0 M672.0,204.6h0 M672.0,207.5h0 M671.6,206.2h0 M671.4,207.6h0 M672.1,207.4h0 M672.1,207.6h0 M671.7,209.2h0 M670.9,208.9h0 M671.2,209.9h0 M671.8,209.8h0 M671.2,208.7h0 M671.3,209.5h0 M671.0,211.1h0 M671.0,213.3h0 M670.3,213.9h0 M670.6,215.4h0 M671.3,216.1h0 M670.9,216.2h0 M671.9,216.0h0 M671.1,216.7h0 M671.2,215.4h0 M672.5,214.9h0 M671.9,215.4h0 M672.4,217.8h0 M672.6,216.5h0 M673.0,218.3h0 M672.4,219.3h0 M673.7,219.3h0 M673.4,220.2h0 M674.6,219.9h0 M675.0,221.8h0 M674.3,221.5h0 M675.2,222.2h0 M674.7,223.0h0 M677.1,222.8h0 M675.4,224.2h0 M675.5,225.2h0 M676.6,225.8h0 M676.1,226.2h0 M676.4,226.0h0 M675.9,228.8h0 M676.3,227.7h0 M675.8,229.3h0 M675.9,230.9h0 M675.6,231.6h0 M674.8,231.9h0 M675.4,231.1h0 M675.2,234.1h0 M676.6,233.9h0 M676.2,235.4h0 M677.3,235.6h0 M675.7,236.3h0 M674.8,235.0h0 M676.8,233.1h0 M676.2,232.7h0 M675.9,234.3h0 M676.1,233.9h0 M677.9,234.8h0 M677.7,232.3h0 M677.6,232.6h0 M678.1,231.6h0 M678.7,231.4h0 M679.4,229.4h0 M678.9,230.6h0 M678.6,230.2h0 M680.3,228.8h0 M680.2,227.8h0 M680.3,228.2h0 M681.4,227.4h0 M682.1,229.0h0 M680.3,228.9h0 M680.8,227.6h0 M680.2,226.7h0 M680.6,226.4h0 M680.9,225.9h0 M680.5,226.2h0 M681.4,225.4h0 M682.5,223.8h0 M683.1,222.0h0 M682.0,222.0h0 M682.1,220.4h0 M681.4,218.6h0 M681.3,218.0h0 M681.5,218.2h0 M682.4,218.0h0 M682.6,217.4h0 M682.1,216.2h0 M681.9,215.0h0 M682.9,215.4h0 M683.2,214.9h0 M684.0,215.6h0 M684.3,217.3h0 M684.2,218.3h0 M684.8,216.6h0 M683.8,217.4h0 M684.0,219.1h0 M683.3,219.3h0 M682.9,219.5h0 M683.4,221.3h0 M683.5,220.1h0 M684.4,220.2h0 M683.1,221.3h0 M684.6,221.7h0 M683.6,222.3h0 M683.9,220.2h0 M684.9,220.4h0 M686.1,221.6h0 M686.3,224.0h0 M685.7,225.2h0 M685.6,225.5h0 M685.5,225.8h0 M685.4,228.4h0 M685.2,228.6h0 M684.8,229.2h0 M685.4,229.8h0 M685.5,231.7h0 M685.4,230.4h0 M685.8,230.2h0 M686.6,232.9h0 M686.5,233.9h0 M687.0,233.8h0 M686.8,233.9h0 M687.5,236.6h0 M688.7,236.4h0 M690.3,236.2h0 M689.4,236.7h0 M689.4,237.2h0 M689.6,238.5h0 M690.8,239.3h0 M690.6,240.0h0 M689.9,239.6h0 M690.5,239.4h0 M691.0,239.0h0 M689.6,264.4h0 M690.9,264.4h0 M691.2,263.1h0 M690.8,262.8h0 M690.2,263.8h0 M690.5,263.9h0 M690.9,263.3h0 M691.3,262.9h0 M689.7,265.2h0 M689.8,265.6h0 M689.4,264.9h0 M688.8,266.4h0 M690.3,265.9h0 M689.9,266.5h0 M690.0,268.3h0 M691.0,269.4h0 M691.5,270.5h0 M692.2,270.5h0 M691.3,270.9h0 M691.0,270.5h0 M691.1,272.6h0 M691.4,272.7h0 M691.7,272.9h0 M691.3,274.1h0 M690.4,275.6h0 M690.7,277.1h0 M690.8,280.1h0 M690.8,278.2h0 M691.6,279.9h0 M691.4,280.8h0 M691.2,281.4h0 M690.8,280.2h0 M691.8,282.4h0 M693.1,284.0h0 M693.8,283.3h0 M693.8,284.0h0 M694.2,283.1h0 M694.0,281.9h0 M693.9,283.0h0 M693.4,283.2h0 M693.1,283.6h0 M693.6,281.5h0 M693.4,284.9h0 M694.6,284.2h0 M693.9,284.4h0 M693.5,285.2h0 M692.4,286.1h0 M693.2,286.7h0 M693.3,289.1h0 M694.4,289.6h0 M694.2,290.1h0 M693.9,290.9h0 M694.1,290.5h0 M693.5,290.5h0 M694.0,291.1h0 M694.1,290.8h0 M694.1,292.2h0 M693.1,293.9h0 M693.3,293.5h0 M692.8,294.5h0 M692.7,293.8h0 M692.8,294.8h0 M692.9,296.6h0 M692.6,294.9h0 M692.6,297.0h0 M694.4,296.8h0 M692.9,298.8h0 M694.4,299.2h0 M693.2,299.8h0 M694.1,301.7h0 M695.7,301.9h0 M694.9,303.0h0 M695.0,302.3h0 M696.0,302.0h0 M696.0,300.8h0 M696.0,298.5h0 M695.6,300.7h0 M695.7,301.3h0 M695.3,299.4h0 M696.2,300.4h0 M697.3,298.6h0 M696.7,299.4h0 M697.4,299.7h0 M696.6,299.0h0 M697.3,298.8h0 M697.5,298.8h0 M697.3,299.3h0 M697.4,297.9h0 M697.4,297.1h0 M696.8,297.9h0 M696.6,296.3h0 M696.3,296.8h0 M696.0,292.8h0 M696.6,292.7h0 M696.3,293.0h0 M697.9,290.4h0 M698.3,290.7h0 M697.9,289.2h0 M697.6,287.9h0 M699.7,288.8h0 M699.1,289.2h0 M698.1,288.5h0 M698.3,289.2h0 M699.3,286.1h0 M698.6,285.4h0 M699.1,283.5h0 M698.0,283.5h0 M698.8,284.6h0 M699.1,284.8h0 M699.3,284.7h0 M697.9,284.8h0 M699.6,284.1h0 M699.2,284.8h0 M699.9,284.8h0 M699.2,282.7h0 M699.0,282.6h0 M699.1,282.0h0 M700.2,281.9h0 M700.2,281.0h0 M700.6,279.0h0 M700.5,278.4h0 M699.9,279.4h0 M699.6,278.5h0 M700.8,277.5h0 M699.1,276.7h0 M699.4,275.2h0 M699.9,275.5h0 M699.5,274.6h0 M700.7,276.2h0 M701.6,275.6h0 M702.7,276.1h0 M703.7,277.0h0 M703.3,278.8h0 M703.0,278.6h0 M703.1,278.0h0 M703.4,279.2h0 M703.4,279.9h0 M703.1,280.5h0 M702.8,280.5h0 M704.0,280.4h0 M703.3,278.7h0 M703.3,279.3h0 M703.5,277.8h0 M703.5,278.1h0 M703.1,277.4h0 M702.9,280.1h0 M703.1,280.3h0 M702.9,280.2h0 M703.4,281.8h0 M702.7,282.7h0 M702.8,283.2h0 M703.4,282.7h0 M703.8,284.2h0 M702.8,285.0h0 M704.3,286.3h0 M702.6,286.0h0 M702.8,286.1h0 M703.2,288.8h0 M704.1,291.5h0 M704.1,291.1h0 M703.1,292.5h0 M703.3,292.0h0 M703.5,293.2h0 M703.9,292.2h0 M704.1,294.4h0 M703.5,295.4h0 M703.3,295.1h0 M703.9,295.3h0 M703.1,296.1h0 M703.8,297.4h0 M702.9,297.0h0 M704.9,298.3h0 M704.1,298.5h0 M705.7,297.5h0 M705.1,297.5h0 M705.2,297.7h0 M705.8,294.8h0 M707.1,295.1h0 M706.9,294.6h0 M705.4,293.7h0 M706.2,293.4h0 M706.2,291.1h0 M705.7,289.9h0 M706.6,290.1h0 M707.2,290.2h0 M707.1,289.9h0 M707.5,290.0h0 M707.8,289.7h0 M707.8,290.2h0 M709.3,290.4h0 M707.9,290.4h0 M708.4,291.2h0 M708.3,291.7h0 M709.7,292.3h0 M708.7,292.0h0 M708.9,291.5h0 M708.7,292.7h0 M709.1,292.6h0 M710.3,295.9h0 M710.2,294.7h0 M710.8,294.7h0 M710.1,294.9h0 M710.8,295.0h0 M709.4,295.4h0 M709.2,296.2h0 M710.3,298.5h0 M709.6,299.0h0 M710.2,300.0h0 M710.3,301.0h0 M710.4,300.4h0 M709.2,302.9h0 M710.9,304.4h0 M711.7,304.6h0 M712.6,304.7h0 M712.7,303.6h0 M712.8,304.3h0 M712.5,304.9h0 M713.3,304.9h0 M713.9,306.1h0 M713.5,305.8h0 M713.8,306.4h0 M715.3,305.9h0 M714.9,306.4h0 M716.3,304.2h0 M715.9,304.5h0 M716.6,306.1h0 M716.0,307.7h0 M716.4,308.8h0 M716.8,309.0h0 M716.9,310.3h0 M717.3,310.3h0 M717.1,310.4h0 M716.1,312.2h0 M716.6,314.7h0 M717.5,315.2h0 M717.0,314.3h0 M717.6,316.7h0 M716.7,316.7h0 M717.7,317.4h0 M717.0,319.3h0 M718.3,319.9h0 M718.3,321.1h0 M718.8,321.1h0 M717.6,319.0h0 M718.5,321.3h0 M718.3,321.9h0 M718.8,321.2h0 M718.4,321.7h0 M719.1,323.8h0 M719.5,324.2h0 M720.3,325.8h0 M720.3,326.9h0 M720.1,326.9h0 M719.6,326.0h0 M720.1,326.9h0 M719.2,329.5h0 M718.7,330.2h0 M718.9,329.4h0 M717.8,328.4h0 M719.3,329.5h0 M719.8,329.6h0 M719.2,332.1h0 M720.3,333.0h0 M720.3,335.6h0 M720.3,336.0h0 M719.8,335.4h0 M719.1,335.4h0 M720.4,334.1h0 M719.8,333.9h0 M719.6,333.1h0 M719.2,332.9h0 M719.6,332.8h0 M718.4,333.4h0 M719.1,331.6h0 M718.7,332.5h0 M720.4,332.7h0 M720.4,331.6h0 M720.2,329.4h0 M721.2,329.8h0 M721.5,328.0h0 M720.5,328.1h0 M720.8,326.5h0 M721.9,326.6h0 M722.4,328.7h0 M722.0,327.0h0 M721.5,326.3h0 M720.9,327.2h0 M719.9,324.9h0 M720.5,323.0h0 M720.7,322.3h0 M720.7,321.9h0 M720.6,321.7h0 M721.2,321.2h0 M720.2,320.2h0 M721.1,319.6h0 M719.8,318.7h0 M719.9,318.1h0 M720.0,318.4h0 M720.5,319.2h0 M720.0,318.3h0 M720.9,318.7h0 M720.6,316.1h0 M720.7,314.6h0 M721.2,312.7h0 M720.9,312.7h0 M720.8,313.3h0 M720.1,314.6h0 M720.2,312.6h0 M721.3,312.1h0 M721.0,311.4h0 M721.7,308.6h0 M721.7,308.6h0 M721.3,309.3h0 M721.8,310.6h0 M722.6,307.3h0 M722.4,307.4h0 M722.8,306.7h0 M723.7,305.5h0 M724.4,305.5h0 M724.1,304.1h0 M723.1,302.3h0 M723.6,303.2h0 M723.1,304.3h0 M723.9,303.0h0 M724.9,302.1h0 M725.1,302.5h0 M726.2,302.6h0 M725.2,306.0h0 M724.9,307.1h0 M726.4,307.5h0 M726.5,309.2h0 M726.9,309.1h0 M726.6,309.9h0 M726.6,310.0h0 M726.4,311.2h0 M725.4,311.0h0 M725.1,311.8h0 M724.9,313.2h0 M725.8,314.0h0 M727.4,315.2h0 M727.4,316.3h0 M726.5,316.1h0 M727.3,316.7h0 M727.4,317.0h0 M726.2,316.2h0 M726.2,315.6h0 M726.9,315.7h0 M727.6,315.7h0 M728.5,317.5h0 M727.5,317.9h0 M727.7,317.4h0 M727.3,319.4h0 M727.9,317.6h0 M727.7,320.0h0 M726.3,320.5h0 M727.0,320.3h0 M727.2,321.0h0 M726.9,320.1h0 M727.3,321.7h0 M727.7,323.3h0 M727.7,322.4h0 M728.8,322.7h0 M728.6,323.3h0 M727.7,323.4h0 M727.1,323.0h0 M727.4,323.3h0 M727.8,324.1h0 M727.2,326.1h0 M727.5,325.5h0 M726.7,326.9h0 M726.5,326.2h0 M727.4,328.4h0 M729.0,327.5h0 M729.0,327.9h0 M729.0,330.0h0 M729.6,329.9h0 M730.0,331.6h0 M730.0,330.3h0 M728.8,332.0h0 M729.3,334.3h0 M729.9,335.6h0 M730.2,336.2h0 M730.3,336.0h0 M731.6,336.0h0 M735.6,340.7h0 M736.9,342.2h0 M737.2,341.1h0 M737.1,340.5h0 M737.1,339.4h0 M736.2,340.4h0 M736.2,343.5h0 M735.5,345.2h0 M736.7,344.4h0 M737.0,343.5h0 M737.5,344.8h0 M738.0,345.1h0 M738.1,345.8h0 M738.3,346.8h0 M737.6,347.3h0 M737.7,349.8h0 M738.9,350.0h0 M738.9,352.8h0 M740.1,352.8h0 M739.2,352.2h0 M738.5,352.8h0 M740.0,351.8h0 M740.6,354.1h0 M740.4,354.5h0 M741.0,356.2h0 M739.9,356.2h0 M739.6,355.1h0 M740.2,356.9h0 M739.8,356.3h0 M739.5,357.8h0 M739.7,358.4h0 M739.8,361.4h0 M739.8,360.7h0 M739.4,360.2h0 M740.6,360.9h0 M741.3,362.0h0 M740.9,363.8h0 M740.8,366.0h0 M740.4,366.1h0 M740.7,362.3h0 M741.7,362.0h0 M740.5,363.6h0 M741.7,362.4h0 M741.2,361.2h0 M740.7,357.8h0 M741.1,358.3h0 M741.1,357.0h0 M741.2,356.6h0 M741.8,357.4h0 M741.7,355.4h0 M741.9,355.9h0 M742.5,357.1h0 M742.7,355.7h0 M743.0,355.1h0 M743.4,355.0h0 M743.3,354.7h0 M742.9,353.5h0 M743.9,353.3h0 M744.0,352.4h0 M744.9,352.1h0 M743.9,350.9h0 M743.8,349.4h0 M743.8,349.1h0 M744.5,348.9h0 M745.3,348.5h0 M745.4,348.3h0 M744.9,346.9h0 M746.3,346.1h0 M746.6,344.6h0 M744.8,345.7h0 M745.2,345.1h0 M745.6,345.7h0 M745.3,346.1h0 M746.3,347.1h0 M746.2,348.7h0 M747.6,348.6h0 M749.2,349.1h0 M750.0,350.8h0 M750.8,350.5h0 M750.0,349.9h0 M750.5,349.9h0 M751.1,349.5h0 M749.6,349.5h0 M750.5,348.6h0 M750.7,348.4h0 M750.7,349.5h0 M751.8,349.8h0 M752.3,351.5h0 M752.5,351.2h0 M751.7,350.1h0 M750.9,350.3h0 M749.8,349.9h0 M751.5,351.9h0 M751.0,352.0h0 M751.6,352.3h0 M751.8,350.8h0 M753.7,353.4h0 M753.4,353.8h0 M753.1,354.7h0 M753.3,356.1h0 M753.7,355.1h0 M753.4,356.7h0 M753.1,357.4h0 M753.3,357.0h0 M755.4,357.5h0 M755.8,358.3h0 M755.1,360.4h0 M755.3,361.6h0 M754.4,361.8h0 M754.6,361.2h0 M755.3,361.8h0 M755.7,363.0h0 M755.5,362.1h0 M755.9,363.6h0 M756.3,364.2h0 M757.2,365.6h0 M757.1,365.5h0 M757.6,366.1h0 M757.1,366.1h0 M757.2,367.4h0 M757.1,367.9h0 M757.5,369.8h0 M757.7,371.6h0 M757.8,371.2h0 M757.3,372.2h0 M758.2,371.2h0 M758.7,370.4h0 M759.0,370.2h0 M759.6,369.6h0 M759.3,370.6h0 M759.9,372.5h0 M758.2,372.3h0 M758.7,372.8h0 M758.3,373.1h0 M757.5,373.7h0 M757.3,375.1h0 M756.9,376.5h0 M757.8,376.0h0 M758.7,376.6h0 M758.2,378.1h0 M758.4,377.3h0 M757.8,377.1h0 M756.5,378.8h0 M757.9,378.7h0 M757.7,381.4h0 M758.3,380.3h0 M758.2,379.1h0 M757.8,381.6h0 M757.3,382.9h0 M757.8,383.7h0 M757.5,384.8h0 M757.5,384.7h0 M758.3,385.3h0 M758.8,385.0h0 M758.6,387.1h0 M759.4,386.6h0 M760.2,385.4h0 M759.9,384.7h0 M760.5,384.7h0 M760.2,384.4h0 M760.0,383.7h0 M759.5,384.3h0 M759.5,384.0h0 M760.0,383.0h0 M759.0,381.7h0 M760.0,381.6h0 M760.2,382.0h0 M760.9,383.0h0 M762.3,381.0h0 M761.9,381.1h0 M761.2,380.3h0 M761.5,380.0h0 M761.8,378.3h0 M762.4,378.4h0 M764.2,377.0h0 M763.6,376.3h0 M763.7,376.0h0 M764.0,376.9h0 M763.9,375.7h0 M762.5,374.8h0 M762.7,374.0h0 M763.8,374.3h0 M762.6,373.1h0 M761.7,372.5h0 M763.0,370.9h0 M762.3,370.3h0 M761.5,370.5h0 M762.7,369.0h0 M763.5,369.2h0 M765.0,368.2h0 M763.7,368.5h0 M762.8,368.4h0 M763.2,368.5h0 M763.1,369.7h0 M762.6,367.8h0 M762.8,369.1h0 M763.5,367.0h0 M763.0,366.2h0 M763.2,364.5h0 M763.4,365.8h0 M762.8,364.4h0 M762.8,365.1h0 M763.6,365.6h0 M764.9,366.9h0 M764.1,366.5h0 M762.9,365.9h0 M763.7,365.2h0 M762.8,366.5h0 M764.7,366.2h0 M764.3,366.2h0 M763.6,367.4h0 M763.6,367.3h0 M763.4,369.0h0 M763.0,368.9h0 M763.7,369.3h0 M765.6,368.4h0 M766.3,370.2h0 M765.8,371.2h0 M766.4,371.6h0 M767.2,370.8h0 M766.0,369.7h0 M767.1,371.4h0 M766.9,370.7h0 M766.5,372.0h0 M766.1,372.0h0 M766.5,372.0h0 M766.8,374.7h0 M768.0,374.8h0 M768.4,374.8h0 M769.3,375.4h0 M768.0,374.2h0 M768.1,374.9h0 M768.6,375.7h0 M768.3,375.8h0 M768.5,378.3h0 M768.4,378.9h0 M768.5,379.0h0 M769.2,379.5h0 M767.2,380.3h0 M768.0,381.5h0 M765.6,381.7h0 M765.5,382.2h0 M765.6,382.2h0 M765.6,383.6h0 M765.2,385.0h0 M766.4,385.7h0 M767.0,387.9h0 M766.3,389.4h0 M767.6,389.6h0 M768.1,389.2h0 M767.8,390.9h0 M768.2,389.7h0 M767.8,390.4h0 M768.4,390.5h0 M768.5,390.3h0 M768.8,392.7h0 M769.8,393.2h0 M769.9,393.4h0 M770.3,393.9h0 M770.0,393.6h0 M769.9,393.9h0 M770.4,394.2h0 M769.8,395.1h0 M769.8,394.5h0 M770.1,395.2h0 M770.2,395.1h0 M771.2,395.8h0 M771.1,395.6h0 M771.4,394.8h0 M770.5,394.3h0 M771.1,396.0h0 M771.8,394.0h0 M772.5,394.0h0 M772.2,392.1h0 M771.8,391.0h0 M772.4,389.3h0 M772.5,388.5h0 M770.7,388.3h0 M770.8,387.9h0 M771.2,388.0h0 M770.3,388.3h0 M770.2,386.5h0 M770.8,385.8h0 M771.9,386.3h0 M772.5,384.4h0 M772.0,384.1h0 M771.4,383.0h0 M770.8,382.5h0 M771.8,381.8h0 M770.7,381.2h0 M771.2,379.2h0 M772.5,379.6h0 M773.1,378.8h0 M773.0,378.4h0 M772.6,376.9h0 M772.3,375.2h0 M771.9,375.1h0 M772.4,377.1h0 M772.7,378.0h0 M772.1,378.6h0 M773.1,379.6h0 M773.1,380.7h0 M773.7,381.1h0 M774.5,382.4h0 M773.6,383.3h0 M774.6,386.0h0 M774.4,386.2h0 M774.9,385.0h0 M774.8,385.8h0 M774.9,385.4h0 M774.7,386.7h0 M774.9,387.1h0 M775.2,385.0h0 M775.5,383.8h0 M776.4,382.9h0 M776.9,382.1h0 M776.3,381.8h0 M776.1,380.9h0 M776.1,380.1h0 M775.3,379.3h0 M776.5,380.6h0 M777.4,380.4h0 M777.3,379.3h0 M776.4,381.4h0 M778.2,380.3h0 M778.4,379.8h0 M778.4,378.6h0 M778.2,378.0h0 M778.0,376.9h0 M778.1,378.9h0 M777.8,378.5h0 M778.0,377.1h0 M778.1,377.5h0 M777.6,378.3h0 M778.3,378.1h0 M778.9,375.4h0 M778.9,375.2h0 M777.8,373.5h0 M776.5,372.4h0 M777.9,372.5h0 M777.5,370.8h0 M777.3,371.0h0 M777.1,371.3h0 M776.3,369.6h0 M776.3,371.0h0 M777.0,370.8h0 M776.0,372.2h0 M775.4,370.4h0 M776.7,367.2h0 M776.4,366.6h0 M777.9,364.7h0 M779.2,365.4h0 M780.3,364.4h0 M780.3,363.1h0 M780.7,362.5h0 M780.9,360.0h0 M781.9,359.4h0 M781.9,360.2h0 M782.1,360.7h0 M782.4,360.3h0 M783.1,362.8h0 M782.3,362.8h0 M783.0,364.4h0 M783.2,365.4h0 M782.6,365.1h0 M781.8,366.1h0 M782.0,366.9h0 M781.7,367.3h0 M781.4,369.2h0 M782.3,367.5h0 M782.9,368.7h0 M782.2,367.5h0 M782.4,368.2h0 M783.6,369.6h0 M783.6,369.2h0 M783.9,371.1h0 M783.9,372.3h0 M783.7,372.6h0 M784.9,373.4h0 M786.9,374.9h0 M786.7,375.3h0 M786.2,375.3h0 M786.2,375.7h0 M786.6,376.2h0 M786.3,376.1h0 M784.8,375.6h0 M785.1,376.1h0 M786.0,375.9h0 M785.9,375.7h0 M785.1,376.7h0 M784.7,378.7h0 M785.0,378.8h0 M784.5,379.0h0 M785.3,380.4h0 M785.8,382.3h0 M785.7,382.4h0 M786.3,381.7h0 M786.5,381.6h0 M786.5,380.6h0 M785.9,379.6h0 M787.2,381.1h0 M786.5,382.6h0 M787.5,384.1h0 M787.3,385.7h0 M787.8,386.2h0 M787.5,386.1h0 M786.8,385.9h0 M788.1,387.3h0 M787.8,387.0h0 M787.3,386.5h0 M787.1,385.3h0 M787.6,386.2h0 M788.3,385.9h0 M788.5,385.3h0 M787.9,382.5h0 M787.6,383.7h0 M787.7,383.8h0 M787.0,383.4h0 M788.6,385.2h0 M789.3,384.6h0 M788.5,381.8h0 M789.1,379.9h0 M789.2,378.5h0 M789.4,377.4h0 M788.9,376.8h0 M789.1,377.6h0 M789.6,376.5h0 M789.6,374.7h0 M790.4,374.8h0 M789.7,375.8h0 M787.6,376.5h0 M788.4,375.8h0 M788.1,376.1h0 M789.1,375.3h0 M788.4,374.1h0 M789.5,373.0h0 M788.4,370.5h0 M789.1,370.2h0 M789.1,368.5h0 M788.6,368.4h0 M789.9,369.0h0 M790.1,370.4h0 M789.8,368.7h0 M789.7,367.9h0 M790.9,366.6h0 M792.7,366.4h0 M791.6,366.6h0 M792.6,366.0h0 M793.3,367.6h0 M794.2,366.4h0 M794.8,368.5h0 M795.1,369.2h0 M795.3,370.7h0 M794.3,369.2h0 M794.5,368.1h0 M795.9,366.6h0 M795.5,366.6h0 M795.3,364.6h0 M795.4,363.9h0 M794.8,363.2h0 M795.8,363.4h0 M797.1,363.1h0 M797.7,361.5h0 M796.9,362.2h0 M798.2,362.7h0 M799.2,362.9h0 M799.4,363.9h0 M798.7,361.8h0 M798.0,361.1h0 M798.6,359.9h0 M800.0,360.6h0 M800.8,361.7h0 M799.6,363.1h0 M800.1,363.4h0 M800.6,363.3h0 M800.5,364.3h0 M800.4,363.2h0 M801.0,363.7h0 M802.0,364.9h0 M802.3,364.9h0 M802.2,365.5h0 M800.9,366.1h0 M802.2,366.7h0 M802.3,367.1h0 M802.0,368.0h0 M801.2,367.9h0 M802.3,368.3h0 M803.1,368.4h0 M803.4,369.5h0 M803.6,369.0h0 M803.7,366.5h0 M804.2,367.5h0 M803.4,367.1h0 M802.7,365.9h0 M802.8,365.5h0 M803.4,365.9h0 M803.7,365.1h0 M804.7,365.3h0 M805.2,365.1h0 M804.7,365.0h0 M806.0,364.2h0 M806.2,363.7h0 M806.5,363.2h0 M805.1,362.2h0 M806.8,361.7h0 M805.9,359.3h0 M806.0,358.3h0 M807.2,358.8h0 M809.4,359.1h0 M809.2,358.4h0 M810.7,358.0h0 M811.8,359.0h0 M811.8,358.6h0 M812.1,358.9h0 M812.0,359.7h0 M812.2,359.5h0 M811.8,358.1h0 M811.1,357.2h0 M811.8,356.8h0 M811.5,355.2h0 M812.1,355.4h0 M811.7,355.4h0 M813.2,353.1h0 M813.7,352.9h0 M813.3,352.0h0 M812.2,351.5h0 M812.3,352.1h0 M813.9,349.8h0 M814.8,348.0h0 M814.4,346.6h0 M815.5,347.8h0 M816.2,347.6h0 M817.2,346.7h0 M815.7,344.6h0 M817.0,346.0h0 M817.0,345.8h0 M817.0,344.0h0 M816.6,344.4h0 M816.4,345.2h0 M817.8,344.3h0 M816.6,345.9h0 M817.4,345.8h0 M817.6,346.5h0 M818.7,346.8h0 M819.2,347.3h0 M819.8,350.0h0 M819.4,350.7h0 M821.1,349.4h0 M820.2,349.2h0 M821.0,351.0h0 M820.7,351.4h0 M820.4,353.5h0 M820.7,353.1h0 M822.3,353.1h0 M822.3,352.4h0 M821.2,352.8h0 M820.3,353.1h0 M821.1,353.6h0 M820.3,355.2h0 M821.2,356.9h0 M820.3,358.7h0 M819.2,357.4h0 M819.6,357.6h0 M819.6,360.3h0 M819.8,360.9h0 M820.4,361.0h0 M820.4,362.0h0 M820.8,363.3h0 M820.5,363.5h0 M821.0,364.1h0 M822.0,366.0h0 M821.2,366.8h0 M820.0,366.0h0 M820.5,365.7h0 M820.1,365.6h0 M820.3,365.6h0 M820.2,366.5h0 M819.1,368.4h0 M819.9,369.4h0 M820.3,371.9h0 M820.2,372.1h0 M820.7,373.4h0 M820.1,374.8h0 M820.6,375.5h0 M821.4,376.4h0 M821.3,377.3h0 M822.5,376.0h0 M822.8,375.4h0 M822.1,375.9h0 M822.4,377.2h0 M821.9,378.0h0 M821.7,377.5h0 M822.9,377.5h0 M821.2,379.0h0 M822.0,366.0h0 M822.0,365.6h0 M822.0,366.6h0 M823.1,364.5h0 M823.6,362.7h0 M823.1,362.3h0 M824.3,362.3h0 M823.7,361.1h0 M824.0,361.4h0 M823.7,361.1h0 M824.0,360.8h0 M823.1,360.5h0 M823.4,359.9h0 M823.2,359.6h0 M822.1,358.9h0 M822.7,360.0h0 M823.6,357.7h0 M824.2,359.0h0 M823.7,358.0h0 M823.5,355.1h0 M824.5,352.9h0 M824.0,352.6h0 M824.3,352.4h0 M823.8,351.9h0 M824.1,351.7h0 M823.1,351.8h0 M823.3,351.0h0 M824.6,350.1h0 M823.5,350.2h0 M823.7,349.2h0 M823.8,348.8h0 M824.3,346.6h0 M825.5,346.8h0 M826.9,345.7h0 M825.8,345.1h0 M825.3,345.0h0 M825.2,345.2h0 M824.9,345.1h0 M824.5,344.9h0 M825.8,345.0h0 M826.3,345.5h0 M826.7,344.1h0 M827.7,343.2h0 M827.9,343.2h0 M828.1,344.0h0 M829.4,343.7h0 M830.7,343.5h0 M831.3,346.5h0 M832.1,345.3h0 M832.8,345.8h0 M832.9,345.5h0 M832.9,347.0h0 M832.9,347.4h0 M832.8,346.5h0 M832.6,347.0h0 M833.0,345.9h0 M831.4,346.2h0 M831.5,347.2h0 M833.0,348.1h0 M832.8,348.3h0 M833.9,346.4h0 M833.5,346.9h0 M832.6,346.5h0 M833.7,346.5h0 M833.3,346.9h0 M833.1,348.9h0 M833.1,348.8h0 M834.4,349.0h0 M835.2,350.6h0 M834.8,350.1h0 M836.2,350.3h0 M836.8,350.1h0 M837.8,349.2h0 M838.2,348.5h0 M836.8,347.3h0 M836.9,348.3h0 M836.7,347.8h0 M838.3,349.1h0 M838.0,347.0h0 M838.7,346.2h0 M839.1,346.2h0 M838.8,345.2h0 M839.0,343.7h0 M839.1,343.0h0 M839.7,343.5h0 M838.8,343.8h0 M838.1,343.0h0 M838.1,341.1h0 M837.8,341.6h0 M838.1,341.4h0 M837.9,341.6h0 M837.5,342.6h0 M838.2,342.9h0 M838.9,341.8h0 M839.4,342.3h0 M838.6,342.0h0 M839.4,342.9h0 M839.8,343.3h0 M839.0,343.0h0 M838.9,343.7h0 M839.4,343.3h0 M840.5,344.1h0 M839.8,342.5h0 M840.6,343.9h0 M840.2,342.9h0 M840.7,342.7h0 M841.2,343.2h0 M841.1,345.1h0 M840.5,345.2h0 M839.5,347.7h0 M839.9,349.4h0 M839.5,347.5h0 M838.1,348.5h0 M837.5,348.0h0 M836.7,347.3h0 M837.6,347.2h0 M837.4,346.5h0 M837.7,345.7h0 M839.4,344.8h0 M839.8,344.0h0 M838.9,342.8h0 M838.4,342.5h0 M837.9,342.3h0 M837.5,342.1h0 M837.3,341.7h0 M836.0,339.3h0 M837.6,341.5h0 M839.6,338.8h0 M839.4,337.7h0 M841.6,340.0h0 M842.1,320.1h0 M841.4,319.7h0 M841.2,319.7h0 M841.5,319.1h0 M840.5,319.7h0 M841.3,318.3h0 M840.9,316.8h0 M841.7,314.4h0 M842.5,313.7h0 M843.1,314.1h0 M844.4,315.8h0 M844.6,313.4h0 M844.9,312.6h0 M845.4,314.1h0 M843.7,311.9h0 M842.6,310.2h0 M842.2,308.2h0 M841.8,308.5h0 M843.0,308.8h0 M843.0,310.5h0 M842.3,310.6h0 M842.8,310.6h0 M843.5,310.1h0 M843.3,307.7h0 M842.9,310.6h0 M843.2,312.5h0 M844.8,311.7h0 M843.8,311.4h0 M843.5,309.2h0 M844.3,309.5h0 M845.1,311.4h0 M844.2,313.3h0 M844.1,314.6h0 M844.3,314.4h0 M844.6,314.3h0 M845.2,315.7h0 M845.2,314.8h0 M845.6,315.4h0 M847.5,316.1h0 M846.9,316.8h0 M847.0,318.3h0 M846.7,317.6h0 M846.6,317.4h0 M847.0,318.0h0 M847.4,318.7h0 M847.1,318.0h0 M846.8,319.9h0 M847.0,318.0h0 M847.3,320.8h0 M846.7,322.0h0 M847.0,323.0h0 M846.8,323.2h0 M847.5,324.1h0 M847.3,323.2h0 M846.6,324.6h0 M846.7,326.8h0 M845.5,327.9h0 M844.6,328.0h0 M846.0,329.1h0 M846.0,329.9h0 M846.8,330.5h0 M847.0,331.9h0 M846.1,331.4h0 M845.8,332.0h0 M846.0,331.9h0 M845.7,333.7h0 M846.2,334.3h0 M847.1,333.8h0 M847.3,331.3h0 M846.4,331.5h0 M845.5,331.7h0 M846.4,332.7h0 M846.8,332.0h0 M846.6,331.6h0 M847.7,330.2h0 M849.1,327.2h0 M849.5,327.8h0 M849.6,325.9h0 M849.3,325.5h0 M848.1,323.5h0 M848.5,322.3h0 M850.4,321.0h0 M851.2,321.3h0 M849.8,321.9h0 M850.3,320.9h0 M850.1,320.5h0 M848.3,320.2h0 M848.7,320.2h0 M849.4,320.5h0 M850.2,322.0h0 M849.6,321.1h0 M849.5,319.6h0 M850.1,319.3h0 M849.6,318.0h0 M851.0,317.3h0 M850.5,315.9h0 M851.1,314.4h0 M851.1,314.9h0 M851.7,314.7h0 M852.6,314.6h0 M853.3,312.8h0 M853.7,312.0h0 M852.6,312.2h0 M852.1,312.0h0 M852.1,311.3h0 M852.8,312.3h0 M852.9,310.8h0 M853.6,311.7h0 M852.9,310.6h0 M853.1,308.4h0 M853.9,307.5h0 M853.6,306.7h0 M854.1,306.3h0 M853.9,304.9h0 M854.1,304.2h0 M854.1,302.9h0 M854.7,302.5h0 M855.6,300.0h0 M855.3,301.4h0 M855.4,300.6h0 M856.8,301.2h0 M856.3,301.3h0 M858.5,299.4h0 M857.0,298.8h0 M857.0,298.6h0 M857.6,299.3h0 M857.8,297.7h0 M857.3,297.6h0 M857.1,295.8h0 M856.8,294.1h0 M856.9,293.9h0 M857.2,291.0h0 M857.6,290.3h0 M857.3,289.8h0 M857.3,289.5h0 M857.6,289.1h0 M859.1,289.4h0 M858.2,289.2h0 M857.6,289.2h0 M857.7,288.3h0 M857.3,288.9h0 M857.6,287.9h0 M857.7,288.9h0 M858.4,288.6h0 M858.5,287.6h0 M858.0,287.5h0 M858.9,287.3h0 M860.0,285.2h0 M859.4,285.8h0 M859.2,285.1h0 M859.2,284.7h0 M860.0,284.7h0 M859.5,283.9h0 M860.4,284.3h0 M860.3,283.5h0 M860.2,282.0h0 M860.0,281.0h0 M860.6,280.0h0 M860.2,282.6h0 M860.0,283.7h0 M860.4,281.7h0 M861.2,283.0h0 M860.9,283.4h0 M861.5,284.5h0 M862.6,285.7h0 M862.3,286.4h0 M862.5,285.8h0 M863.2,286.6h0 M863.4,289.4h0 M863.4,291.8h0 M862.9,292.2h0 M862.5,292.4h0 M862.9,291.3h0 M862.4,292.0h0 M861.9,290.0h0 M862.7,289.0h0 M862.5,287.5h0 M862.4,286.8h0 M863.8,286.1h0 M863.4,283.7h0 M863.1,282.1h0 M863.9,283.0h0 M864.2,281.4h0 M864.4,279.0h0 M864.5,278.9h0 M865.6,278.8h0 M865.3,276.2h0 M865.4,276.4h0 M865.2,276.2h0 M864.6,275.9h0 M863.8,275.4h0 M864.7,275.7h0 M865.2,276.8h0 M865.2,277.9h0 M864.9,279.6h0 M864.3,281.4h0 M864.6,281.0h0 M865.2,281.7h0 M864.6,282.6h0 M864.8,281.9h0 M865.5,282.9h0 M865.9,280.3h0 M866.8,280.2h0 M866.6,278.7h0 M867.6,278.3h0 M868.1,279.4h0 M868.1,279.5h0 M869.2,279.2h0 M868.8,279.4h0 M868.6,277.7h0 M869.5,277.5h0 M869.4,275.6h0 M869.9,275.7h0 M870.2,273.6h0 M870.3,274.8h0 M870.8,273.5h0 M869.7,272.9h0 M869.0,272.0h0 M867.5,276.1h0 M867.4,276.5h0 M866.8,276.0h0 M865.9,275.5h0 M865.1,274.7h0 M866.6,272.7h0 M865.7,271.8h0 M866.2,271.7h0 M867.9,272.5h0 M868.1,272.5h0 M867.7,272.3h0 M868.2,271.1h0 M866.6,271.1h0 M867.4,270.5h0 M868.6,269.0h0 M868.8,267.8h0 M869.0,267.7h0 M869.3,264.8h0 M868.2,264.7h0 M868.8,263.8h0 M870.6,262.5h0 M871.6,263.0h0 M871.1,261.4h0 M871.2,261.8h0 M870.8,260.3h0 M870.5,259.5h0 M871.7,258.7h0 M870.3,259.5h0 M869.3,259.8h0 M870.1,259.5h0 M870.3,259.2h0 M869.2,257.9h0 M869.9,257.7h0 M869.8,257.1h0 M869.6,257.3h0 M869.2,256.0h0 M869.1,255.4h0 M869.4,254.7h0 M869.9,254.7h0 M870.1,254.2h0 M870.2,253.4h0 M869.8,253.2h0 M869.2,250.9h0 M870.6,248.4h0 M870.5,249.4h0 M870.6,247.9h0 M870.0,246.3h0 M870.0,245.3h0 M869.2,243.8h0 M870.3,244.4h0 M870.8,244.7h0 M872.1,245.2h0 M871.1,243.8h0 M870.7,242.4h0 M871.1,241.7h0 M871.8,241.4h0 M873.3,239.2h0 M873.4,238.8h0 M872.3,239.6h0 M872.7,240.5h0 M873.2,239.5h0 M873.4,238.1h0 M873.1,238.2h0 M873.3,237.6h0 M873.2,238.3h0 M873.2,238.2h0 M873.2,236.6h0 M872.8,235.0h0 M872.6,235.2h0 M873.3,235.2h0 M872.3,234.8h0 M872.4,234.9h0 M871.7,235.5h0 M872.8,234.9h0 M872.3,233.8h0 M873.2,231.2h0 M873.0,231.4h0 M872.9,230.6h0 M872.8,229.2h0 M872.0,229.5h0 M872.5,227.6h0 M872.9,225.5h0 M873.4,223.9h0 M873.3,223.6h0 M874.7,224.7h0 M875.1,223.7h0 M873.9,222.7h0 M874.2,222.7h0 M874.0,222.1h0 M874.8,222.6h0 M874.9,221.6h0 M875.5,223.1h0 M875.6,220.5h0 M875.2,219.2h0 M874.4,218.3h0 M873.8,216.8h0 M873.0,215.8h0 M873.5,216.2h0 M873.3,217.4h0 M872.9,217.0h0 M872.1,218.5h0 M872.9,218.3h0 M874.4,219.0h0 M875.1,220.6h0 M875.2,220.1h0 M876.0,223.4h0 M876.6,224.2h0 M875.7,224.4h0 M875.0,223.9h0 M874.3,226.2h0 M875.8,228.1h0 M877.2,228.2h0 M877.9,227.4h0 M876.6,227.6h0 M876.4,225.9h0 M876.9,228.0h0 M876.8,229.6h0 M876.2,229.1h0 M876.2,226.1h0 M877.6,225.5h0 M878.4,224.7h0 M878.9,226.4h0 M878.7,224.8h0 M878.2,223.4h0 M879.9,223.2h0 M879.5,221.3h0 M880.2,222.2h0 M880.7,222.2h0 M881.1,222.2h0 M881.6,222.2h0 M880.7,221.1h0 M881.2,221.6h0 M881.1,221.0h0 M881.4,219.7h0 M882.3,218.1h0 M882.2,219.3h0 M881.4,218.1h0 M881.0,216.4h0 M881.5,215.0h0 M881.0,216.2h0 M880.9,215.9h0 M880.8,217.4h0 M880.8,216.2h0 M881.3,215.0h0 M882.7,214.9h0 M883.2,214.4h0 M882.7,215.1h0 M882.5,212.8h0 M882.6,211.8h0 M882.3,209.7h0 M881.4,208.6h0 M882.4,207.7h0 M881.7,205.8h0 M882.2,206.4h0 M881.7,205.8h0 M880.5,205.0h0 M881.4,204.0h0 M881.5,204.2h0 M880.7,202.6h0 M881.3,202.4h0 M880.9,202.7h0 M879.8,201.4h0 M881.1,201.1h0 M879.8,201.8h0 M880.2,199.9h0 M881.0,202.4h0 M880.9,202.7h0 M881.9,201.4h0 M882.8,203.8h0 M881.3,204.6h0 M881.0,204.9h0 M880.9,204.4h0 M881.7,204.2h0 M881.9,207.0h0 M882.7,208.5h0 M881.9,208.8h0 M882.0,206.8h0 M882.5,207.0h0 M881.8,207.9h0 M882.1,208.1h0 M882.1,205.5h0 M882.6,205.4h0 M882.3,206.2h0 M882.7,205.1h0 M883.2,204.8h0 M883.0,203.6h0 M882.3,204.3h0 M883.2,203.4h0 M884.2,203.7h0 M883.6,201.5h0 M884.1,200.5h0 M884.9,198.0h0 M885.9,199.2h0 M885.8,197.3h0 M886.2,197.6h0 M884.4,197.5h0 M884.2,196.2h0 M884.9,195.1h0 M885.5,195.2h0 M886.3,194.7h0 M886.9,192.8h0 M886.7,192.5h0 M886.6,194.8h0 M886.2,194.7h0 M885.7,195.4h0 M886.2,194.2h0 M887.4,193.1h0 M887.4,192.1h0 M887.0,193.0h0 M886.2,193.5h0 M886.3,194.2h0 M886.2,191.8h0 M886.5,191.7h0 M888.0,191.6h0 M887.1,190.7h0 M887.4,190.8h0 M886.5,190.0h0 M886.5,188.4h0 M887.4,188.3h0 M887.2,186.7h0 M887.7,185.3h0 M888.6,185.2h0 M888.5,181.5h0 M888.7,180.7h0 M888.4,181.2h0 M888.3,181.4h0 M888.4,180.9h0 M889.0,179.9h0 M888.3,179.2h0 M888.7,181.5h0 M888.0,181.8h0 M887.0,180.0h0 M887.6,178.0h0 M886.8,179.2h0 M887.3,178.5h0 M886.5,178.3h0 M887.7,176.5h0 M888.2,176.0h0 M888.1,176.8h0 M887.8,174.9h0 M887.4,174.7h0 M886.7,174.2h0 M889.0,172.0h0 M887.7,187.0h0 M888.0,186.4h0 M889.2,185.7h0 M889.1,186.6h0 M890.3,186.1h0 M889.9,186.1h0 M890.9,186.4h0 M890.3,185.6h0 M888.6,184.2h0 M888.4,183.0h0 M888.2,182.8h0 M886.3,181.3h0 M886.2,179.3h0 M886.7,180.2h0 M887.9,179.3h0 M888.2,177.3h0 M888.2,178.5h0 M887.8,178.1h0 M888.9,177.3h0 M888.9,177.6h0 M888.6,176.4h0 M889.3,175.5h0 M889.4,176.2h0 M889.9,174.9h0 M889.6,176.2h0 M890.2,174.3h0 M889.7,173.0h0 M890.1,170.8h0 M890.6,170.1h0 M890.1,171.7h0 M890.0,172.3h0 M889.8,170.0h0 M890.3,169.9h0 M889.8,168.9h0 M889.8,168.9h0 M890.1,167.2h0 M891.2,165.5h0 M890.5,167.4h0 M890.8,167.1h0 M891.3,166.9h0 M892.3,167.0h0 M891.7,165.5h0 M892.0,164.1h0 M892.7,163.0h0 M892.4,160.3h0 M892.2,158.9h0 M891.5,158.6h0 M891.3,157.5h0 M891.3,156.0h0 M890.3,154.5h0 M892.1,154.7h0 M891.7,155.3h0 M891.8,155.6h0 M892.4,157.6h0 M892.4,158.7h0 M892.5,159.3h0 M891.8,159.0h0 M892.5,160.8h0 M892.7,161.6h0 M892.3,163.3h0 M893.4,162.2h0 M892.5,163.3h0 M892.3,164.1h0 M893.0,165.5h0 M893.1,167.1h0 M891.8,166.9h0 M892.6,168.0h0 M894.0,166.7h0 M894.0,167.7h0 M894.8,169.5h0 M895.5,172.7h0 M895.1,173.1h0 M894.8,173.3h0 M894.8,172.2h0 M894.6,172.5h0 M895.7,172.8h0 M895.3,172.5h0 M896.8,172.5h0 M896.2,172.8h0 M896.4,173.3h0 M896.6,177.2h0 M897.5,176.5h0 M897.9,176.0h0 M896.5,176.7h0 M897.6,175.4h0 M897.4,176.0h0 M897.1,176.1h0 M895.7,176.8h0 M896.0,178.3h0 M895.7,179.3h0 M896.6,179.3h0 M895.0,178.8h0 M896.3,180.5h0 M895.5,181.9h0 M896.3,183.1h0 M896.7,185.1h0 M897.5,186.2h0 M897.5,187.6h0 M898.3,188.0h0 M900.1,187.4h0 M900.6,187.8h0 M900.7,188.0h0 M900.1,188.4h0 M900.6,188.3h0 M900.6,188.5h0 M900.5,187.6h0 M899.5,187.2h0 M899.8,185.5h0 M899.8,186.4h0 M900.8,185.1h0 M900.1,184.0h0 M901.5,180.6h0 M900.1,181.8h0 M900.2,181.8h0 M900.3,180.0h0 M900.4,180.6h0 M899.6,181.3h0 M899.8,182.6h0 M900.6,181.2h0 M901.1,180.5h0 M901.7,179.4h0 M901.9,180.0h0 M901.4,180.4h0 M902.4,179.2h0 M902.0,178.2h0 M902.7,177.7h0 M902.3,178.5h0 M902.0,177.1h0 M902.1,174.4h0 M902.5,172.4h0 M902.8,171.9h0 M903.9,173.4h0 M903.9,172.7h0 M903.1,173.8h0 M902.4,173.8h0 M903.0,175.3h0 M902.9,176.1h0 M903.3,175.0h0 M903.0,178.0h0 M903.5,177.9h0 M903.1,179.5h0 M903.8,178.8h0 M903.7,178.6h0 M903.6,178.8h0 M904.3,180.6h0 M903.9,179.9h0 M903.5,181.2h0 M904.4,181.7h0 M904.0,181.7h0 M904.4,181.6h0 M905.2,182.5h0 M905.1,182.6h0 M905.4,185.4h0 M905.2,186.0h0 M905.0,186.5h0 M904.9,185.8h0 M904.4,188.0h0 M904.1,187.8h0 M904.3,190.7h0 M905.3,190.4h0 M904.1,190.4h0 M905.2,189.4h0 M906.9,192.5h0 M907.1,193.9h0 M906.0,195.6h0 M906.5,195.5h0 M907.1,197.5h0 M907.3,199.0h0 M907.8,197.7h0 M906.9,200.0h0 M907.6,199.8h0 M907.4,200.4h0 M907.4,199.3h0 M907.5,199.5h0 M907.5,199.2h0 M908.8,198.3h0 M909.5,198.9h0 M909.4,200.2h0 M910.1,201.6h0 M909.3,202.0h0 M909.8,201.2h0 M909.1,203.5h0 M909.6,203.8h0 M911.0,205.6h0 M909.1,204.9h0 M909.7,204.1h0 M910.4,206.8h0 M910.7,206.9h0 M910.0,205.9h0 M909.5,206.9h0 M910.0,207.1h0 M908.8,205.8h0 M909.5,206.9h0 M910.3,207.3h0 M910.1,209.9h0 M910.5,213.7h0 M910.6,213.9h0 M910.2,215.5h0 M911.1,216.0h0 M910.5,217.6h0 M911.2,217.2h0 M910.6,216.8h0 M910.3,216.3h0 M910.8,215.3h0 M910.9,215.9h0 M910.2,217.5h0 M910.6,218.8h0 M911.1,218.3h0 M911.7,218.4h0 M911.4,218.3h0 M911.3,219.2h0 M912.8,219.7h0 M912.2,220.9h0 M912.1,222.7h0 M912.4,223.4h0 M911.8,223.0h0 M911.9,223.9h0 M911.9,226.1h0 M911.9,224.5h0 M913.3,225.2h0 M913.1,225.8h0 M913.9,226.0h0 M914.9,225.9h0 M915.1,225.5h0 M914.6,225.0h0 M913.2,226.1h0 M914.0,225.4h0 M914.9,224.6h0 M916.1,223.3h0 M916.8,223.5h0 M916.2,223.4h0 M916.5,225.4h0 M915.7,223.8h0 M915.7,224.7h0 M914.7,224.2h0 M915.5,224.1h0 M916.4,222.7h0 M914.9,221.2h0 M915.1,221.0h0 M914.9,219.9h0 M915.1,219.8h0 M914.7,220.1h0 M914.9,219.5h0 M913.6,217.5h0 M913.9,217.1h0 M915.1,216.2h0 M913.6,215.5h0 M912.6,213.9h0 M913.9,214.6h0 M914.4,216.4h0 M913.6,215.9h0 M914.1,214.3h0 M914.5,213.0h0 M914.4,211.5h0 M915.0,212.3h0 M916.2,212.2h0 M916.1,211.6h0 M916.4,210.8h0 M916.3,208.8h0 M915.3,210.3h0 M915.6,210.7h0 M916.3,210.7h0 M915.5,211.9h0 M914.6,212.4h0 M914.1,212.9h0 M914.4,213.2h0 M915.9,214.9h0 M915.4,214.6h0 M915.9,215.5h0 M916.5,216.6h0 M916.7,218.6h0 M916.6,218.8h0 M916.9,219.1h0 M916.7,219.0h0 M918.1,219.0h0 M917.4,217.0h0 M917.6,215.6h0 M916.5,215.5h0 M917.3,216.0h0 M918.6,215.7h0 M918.3,214.3h0 M918.5,213.8h0 M916.8,212.5h0 M916.5,211.9h0 M917.0,212.3h0 M916.9,210.9h0 M918.6,207.5h0 M918.2,208.3h0 M917.9,208.7h0 M917.2,208.0h0 M916.9,204.8h0 M916.4,204.6h0 M917.1,202.9h0 M917.3,202.4h0 M917.7,203.6h0 M916.2,204.1h0 M916.8,203.4h0 M917.0,200.6h0 M916.1,200.9h0 M916.5,201.5h0 M916.6,200.9h0 M917.4,200.5h0 M918.3,201.8h0 M918.0,199.9h0 M918.8,198.8h0 M918.3,198.0h0 M918.5,196.6h0 M918.9,197.1h0 M918.4,194.9h0 M918.2,195.4h0 M918.8,196.4h0 M918.2,196.2h0 M918.6,197.9h0 M917.7,197.2h0 M917.4,196.5h0 M918.2,196.1h0 M918.9,195.3h0 M919.4,194.2h0 M919.3,194.9h0 M918.7,193.2h0 M918.4,193.6h0 M919.0,190.8h0 M918.5,192.4h0 M918.1,190.0h0 M918.2,189.8h0 M919.3,188.7h0 M919.6,188.5h0 M919.5,186.4h0 M918.6,183.9h0 M920.2,184.7h0 M918.7,184.3h0 M918.3,184.7h0 M919.3,183.9h0 M918.7,183.8h0 M918.7,182.9h0 M918.4,183.0h0 M919.2,182.3h0 M919.4,182.4h0 M919.2,180.4h0 M919.1,180.3h0 M918.1,180.4h0 M917.9,179.4h0 M917.8,176.7h0 M919.0,176.0h0 M918.6,173.9h0 M918.7,176.1h0 M919.0,172.9h0 M918.8,174.3h0 M918.9,172.2h0 M919.4,173.8h0 M918.9,173.4h0 M918.5,172.4h0 M918.6,169.8h0 M920.0,170.5h0 M920.0,170.1h0 M920.8,171.3h0 M920.7,171.7h0 M920.1,171.5h0 M919.1,169.9h0 M919.8,169.8h0 M920.9,168.4h0 M920.4,168.1h0 M918.7,167.3h0 M918.5,167.8h0 M918.6,166.7h0 M919.0,164.4h0 M918.6,162.9h0 M918.2,164.5h0 M919.7,163.7h0 M919.8,163.5h0 M919.1,162.0h0 M920.5,161.5h0 M919.6,162.4h0 M919.7,163.0h0 M920.5,163.8h0 M919.1,162.9h0 M919.9,162.6h0 M919.8,162.8h0 M920.5,162.9h0 M919.9,165.0h0 M920.4,165.1h0 M920.6,165.4h0 M919.8,164.5h0 M920.5,165.6h0 M920.8,164.9h0 M920.2,164.7h0 M920.9,165.4h0 M920.9,166.6h0 M920.3,166.8h0 M920.7,168.5h0 M921.1,165.4h0 M920.6,167.2h0 M920.8,168.3h0 M921.0,169.1h0 M920.6,168.0h0 M920.6,167.9h0 M921.4,168.8h0 M922.0,168.5h0 M922.0,168.7h0 M921.3,168.7h0 M922.1,169.4h0 M923.0,170.8h0 M923.2,169.8h0 M922.8,170.2h0 M922.2,170.9h0 M923.2,173.8h0 M923.5,172.9h0 M923.7,172.8h0 M924.7,173.1h0 M924.2,175.0h0 M923.9,176.2h0 M925.2,176.9h0 M924.9,176.9h0 M925.6,177.1h0 M926.8,180.7h0 M926.5,181.9h0 M926.0,181.7h0 M925.9,183.5h0 M926.4,183.4h0 M926.9,183.3h0 M926.4,184.9h0 M927.1,184.4h0 M926.6,184.9h0 M926.1,185.2h0 M925.7,186.9h0 M926.4,188.3h0 M926.3,187.5h0 M926.8,188.7h0 M925.0,188.0h0 M927.3,145.0h0 M927.7,144.3h0 M928.2,144.1h0 M927.2,145.8h0 M928.1,144.0h0 M928.3,145.5h0 M927.5,145.1h0 M929.1,143.9h0 M929.1,142.7h0 M929.7,142.0h0 M929.6,142.0h0 M930.3,140.9h0 M930.0,138.9h0 M929.1,137.8h0 M930.1,136.6h0 M930.9,138.1h0 M930.4,140.2h0 M931.0,142.3h0 M930.1,141.7h0 M930.5,143.0h0 M931.7,143.6h0 M930.5,143.1h0 M930.8,142.3h0 M930.9,144.2h0 M931.1,145.3h0 M931.2,147.4h0 M930.0,147.0h0 M930.9,147.5h0 M930.3,147.4h0 M930.2,149.4h0 M930.8,149.2h0 M930.3,149.9h0 M930.1,148.3h0 M929.7,149.2h0 M929.3,149.1h0 M929.1,147.3h0 M929.2,147.6h0 M929.4,147.0h0 M928.6,146.4h0 M929.7,145.2h0 M929.2,143.8h0 M929.1,145.9h0 M928.8,145.1h0 M928.8,144.0h0 M928.3,142.9h0 M929.7,143.4h0 M929.1,142.2h0 M930.0,140.3h0 M929.9,139.3h0 M929.9,139.0h0 M929.6,138.9h0 M929.5,138.1h0 M928.6,137.0h0 M928.5,135.0h0 M929.7,134.8h0 M930.0,135.3h0 M930.1,132.9h0 M929.9,132.5h0 M931.4,133.4h0 M929.9,134.0h0 M929.9,133.7h0 M930.5,133.7h0 M930.2,131.8h0 M929.7,130.3h0 M930.6,129.8h0 M930.3,131.1h0 M930.4,132.7h0 M930.0,133.4h0 M930.1,133.8h0 M930.7,134.7h0 M930.6,135.2h0 M932.4,134.9h0 M932.8,135.1h0 M931.8,136.4h0 M932.1,136.6h0 M932.6,136.8h0 M932.9,136.3h0 M933.2,136.2h0 M933.0,136.4h0 M932.5,136.2h0 M934.0,135.1h0 M933.9,134.6h0 M933.2,132.6h0 M933.2,132.4h0 M933.2,132.7h0 M933.1,132.8h0 M933.6,132.6h0 M933.5,130.0h0 M933.3,128.0h0 M933.4,126.8h0 M933.0,126.7h0 M933.4,127.0h0 M932.8,127.0h0 M933.0,126.9h0 M932.6,127.0h0 M931.1,129.0h0 M931.3,128.9h0 M931.1,126.7h0 M932.2,126.8h0 M932.6,125.9h0 M932.7,126.5h0 M932.5,124.4h0 M933.0,123.5h0 M932.6,122.4h0 M932.5,123.3h0 M932.3,123.6h0 M932.2,123.2h0 M932.5,121.7h0 M932.8,122.5h0 M932.8,121.1h0 M933.4,120.2h0 M933.8,121.4h0 M933.3,120.6h0 M933.7,120.6h0 M935.2,118.0h0 M378.1,324.7h0 M378.2,325.7h0 M378.2,325.8h0 M379.0,327.5h0 M378.7,330.4h0 M378.9,330.6h0 M379.4,330.9h0 M378.7,330.3h0 M380.1,330.4h0 M379.4,331.4h0 M379.2,332.0h0 M379.8,332.0h0 M379.3,332.0h0 M379.0,331.8h0 M379.1,333.7h0 M379.4,334.3h0 M380.6,333.6h0 M380.9,335.6h0 M380.9,336.4h0 M380.7,337.9h0 M381.7,338.0h0 M380.8,338.7h0 M381.5,338.0h0 M379.9,339.0h0 M379.8,340.0h0 M380.7,340.5h0 M381.4,343.3h0 M381.5,343.0h0 M381.0,343.5h0 M381.6,342.6h0 M381.0,343.3h0 M381.3,345.1h0 M381.4,346.3h0 M381.1,347.0h0 M380.9,347.9h0 M381.0,348.5h0 M381.6,347.9h0 M382.3,347.8h0 M383.3,348.8h0 M384.0,348.8h0 M384.1,348.2h0 M383.7,350.0h0 M384.2,350.8h0 M385.4,351.0h0 M385.2,351.3h0 M384.9,352.0h0 M385.6,353.6h0 M385.1,355.0h0 M385.9,355.0h0 M385.5,355.1h0 M385.4,357.4h0 M385.7,357.7h0 M386.0,359.0h0 M386.1,359.0h0 M385.5,359.4h0 M386.6,360.2h0 M385.9,359.6h0 M385.9,360.0h0 M385.4,360.7h0 M385.7,361.0h0 M385.1,361.5h0 M386.4,362.2h0 M386.7,361.9h0 M387.0,363.9h0 M387.9,364.0h0 M387.2,364.1h0 M387.4,363.1h0 M387.9,364.7h0 M388.4,363.6h0 M388.1,365.1h0 M388.2,366.9h0 M388.6,368.2h0 M388.4,369.0h0 M387.9,370.1h0 M388.3,370.1h0 M387.9,371.3h0 M388.6,372.1h0 M388.2,374.4h0 M447.7,426.3h0 M448.6,427.7h0 M449.7,428.4h0 M448.6,428.8h0 M450.1,430.2h0 M450.7,430.7h0 M450.6,431.6h0 M451.1,433.2h0 M450.0,433.1h0 M451.2,433.5h0 M451.2,435.7h0 M452.0,436.1h0 M451.3,436.5h0 M451.8,436.8h0 M452.4,437.7h0 M451.7,437.1h0 M452.2,438.1h0 M453.0,439.5h0 M454.0,439.2h0 M454.9,439.5h0 M454.7,439.0h0 M454.9,437.8h0 M455.8,436.5h0 M455.8,434.8h0 M455.5,435.5h0 M456.3,435.0h0 M456.6,434.3h0 M457.0,433.5h0 M458.1,433.3h0 M459.0,432.3h0 M458.6,432.4h0 M459.5,431.4h0 M460.1,431.4h0 M460.4,430.8h0 M460.4,429.1h0 M460.9,429.2h0 M462.2,427.9h0 M462.2,427.5h0 M460.9,428.3h0 M461.5,428.6h0 M462.4,429.3h0 M461.8,430.9h0 M461.7,430.5h0 M461.3,431.2h0 M462.1,431.8h0 M462.6,432.4h0 M462.9,432.3h0 M462.5,432.3h0 M462.9,432.8h0 M461.8,433.6h0 M461.8,434.6h0 M461.4,435.7h0 M460.0,436.9h0 M460.5,436.9h0 M459.8,437.9h0 M459.3,437.6h0 M459.5,438.7h0 M460.5,440.0h0 M460.2,441.4h0 M459.4,441.6h0 M458.0,441.2h0 M457.5,441.3h0 M456.3,442.9h0 M455.6,442.1h0 M456.5,442.0h0 M455.3,441.5h0 M455.6,442.0h0 M581.2,261.6h0 M538.0,274.8h0 M539.2,266.4h0 M928.0,155.0h0 M691.4,248.6h0 M617.4,223.0h0 M617.4,232.6h0 M617.4,242.0h0 M627.4,209.4h0 M627.4,223.0h0 M640.0,210.6h0 M896.6,212.0h0 M896.6,225.6h0 M896.6,253.4h0 M935.4,94.4h0 M935.4,88.0h0 M936.0,85.0h0 M936.6,78.4h0 M936.6,72.0h0 M936.5,78.5h0 M936.2,70.0h0 M936.2,61.0h0 M936.4,59.5h0 M936.8,58.0h0 M937.0,55.0h0 M937.2,52.0h0 M937.4,49.0h0 M937.5,46.0h0 M937.8,43.0h0 M938.2,41.0h0 M938.5,39.2h0" fill="none" stroke="#000" stroke-width="5.56" stroke-linecap="round"/>
<g fill="none" stroke="#0072B2" stroke-linejoin="round" stroke-linecap="round">
<path d="M120.7,479.7 121.0,479.7 121.2,479.8 121.5,480.0 121.7,480.1 122.0,480.2 122.2,480.3 122.5,480.4 122.7,480.5 123.0,480.6 123.2,480.7 123.5,480.8 123.7,480.9 124.0,481.0 124.2,481.4 124.5,481.8 124.7,482.2 125.0,482.6 125.2,483.0 125.5,483.5 125.7,483.9 126.0,484.1 126.2,484.0 126.5,483.7 126.7,483.3 127.0,482.9 127.2,482.5 127.5,482.1 127.7,481.7 128.0,481.3 128.2,480.9 128.4,480.5 128.7,480.1 128.9,479.7 129.2,479.3 129.4,478.9 129.7,478.5 129.9,478.1 130.2,477.8 130.4,477.5 130.7,477.2" stroke-width="2.15"/>
<path d="M130.7,477.2 130.9,476.9 131.2,476.6 131.4,476.3 131.7,476.0 131.9,475.7 132.2,475.4 132.4,475.1 132.7,474.8 132.9,474.6 133.2,474.7 133.4,474.9 133.7,475.2 133.9,475.5 134.2,475.8 134.4,476.1 134.7,476.4 134.9,476.7 135.2,477.0 135.4,477.3 135.7,477.6 135.9,477.9 136.2,478.0 136.4,477.9 136.7,477.9 136.9,477.9 137.2,477.8 137.4,477.8 137.7,477.8 137.9,477.7 138.2,477.7 138.4,477.7 138.7,477.6 138.9,477.7 139.2,478.0 139.4,478.4 139.7,478.8 139.9,479.2 140.2,479.6 140.4,480.1 140.7,480.5" stroke-width="2.15"/>
<path d="M140.7,480.5 140.9,480.8 141.2,481.0 141.4,481.0 141.7,481.0 141.9,481.0 142.2,481.0 142.4,481.0 142.7,481.0 142.9,481.0 143.2,481.0 143.4,481.0 143.7,481.0 143.9,481.0 144.2,481.0 144.4,481.0 144.7,481.0 144.9,480.9 145.2,480.6 145.4,480.1 145.7,479.6 145.9,479.1 146.2,478.6 146.4,478.1 146.7,477.6 146.9,477.1 147.2,476.6 147.4,476.1 147.7,475.6 147.9,475.3 148.2,475.2 148.4,475.4 148.7,475.7 148.9,475.9 149.2,476.2 149.4,476.4 149.7,476.7 149.9,477.0 150.2,477.5 150.4,478.0 150.7,478.6" stroke-width="2.15"/>
<path d="M150.7,478.6 150.9,479.2 151.2,479.8 151.4,480.4 151.7,481.0 151.9,481.5 152.2,482.1 152.4,482.7 152.7,483.3 152.9,483.8 153.2,484.0 153.4,484.1 153.7,484.2 153.9,484.3 154.2,484.4 154.4,484.5 154.7,484.6 154.9,484.6 155.2,484.7 155.4,484.8 155.7,484.9 155.9,485.0 156.2,485.3 156.4,485.6 156.7,485.9 156.9,486.2 157.2,486.6 157.4,486.9 157.7,487.2 157.9,487.4 158.2,487.3 158.4,486.9 158.7,486.5 158.9,486.1 159.2,485.8 159.4,485.4 159.7,485.0 159.9,484.6 160.2,484.2 160.4,483.8 160.7,483.5" stroke-width="2.15"/>
<path d="M160.7,483.5 160.9,483.1 161.2,482.7 161.4,482.3 161.7,481.9 161.9,481.5 162.2,481.2 162.4,480.8 162.7,480.4 162.9,480.0 163.2,479.6 163.4,479.2 163.7,478.9 163.9,478.6 164.2,478.5 164.4,478.6 164.7,478.8 164.9,478.9 165.2,479.0 165.4,479.2 165.7,479.3 165.9,479.4 166.2,479.6 166.4,479.7 166.7,479.8 166.9,480.0 167.2,480.1 167.4,480.1 167.7,480.2 167.9,480.3 168.2,480.4 168.4,480.5 168.7,480.6 168.9,480.6 169.2,480.7 169.4,480.8 169.7,480.9 169.9,481.0 170.2,481.3 170.4,481.6 170.7,481.9" stroke-width="2.15"/>
<path d="M170.7,481.9 170.9,482.3 171.2,482.6 171.4,482.9 171.7,483.3 171.9,483.6 172.2,483.9 172.4,484.3 172.7,484.6 172.9,484.9 173.2,485.0 173.4,484.9 173.7,484.9 173.9,484.9 174.2,484.8 174.4,484.8 174.7,484.7 174.9,484.7 175.2,484.7 175.4,484.6 175.7,484.6 175.9,484.6 176.2,484.5 176.4,484.5 176.7,484.4 176.9,484.3 177.2,483.9 177.4,483.4 177.7,482.9 177.9,482.4 178.2,481.8 178.4,481.3 178.7,480.8 178.9,480.2 179.2,479.7 179.4,479.2 179.7,478.6 179.9,478.3 180.2,478.2 180.4,478.4 180.7,478.7" stroke-width="2.15"/>
<path d="M180.7,478.7 180.9,478.9 181.2,479.2 181.4,479.4 181.7,479.7 181.9,480.0 182.2,480.5 182.4,481.0 182.7,481.6 182.9,482.2 183.2,482.8 183.4,483.4 183.7,484.0 183.9,484.5 184.2,485.1 184.4,485.7 184.7,486.3 184.9,486.8 185.2,487.1 185.4,487.3 185.7,487.5 185.9,487.6 186.2,487.8 186.4,488.0 186.7,488.1 186.9,488.3 187.2,488.5 187.4,488.6 187.7,488.8 187.9,489.0 188.2,489.2 188.4,489.4 188.7,489.7 188.9,489.9 189.2,490.2 189.4,490.4 189.7,490.7 189.9,490.8 190.2,490.7 190.4,490.4 190.7,490.1" stroke-width="2.15"/>
<path d="M190.7,490.1 190.9,489.7 191.2,489.4 191.4,489.1 191.7,488.7 191.9,488.4 192.2,488.1 192.4,487.7 192.7,487.4 192.9,487.0 193.2,486.6 193.4,486.1 193.7,485.6 193.9,485.1 194.2,484.6 194.4,484.1 194.7,483.6 194.9,483.1 195.2,482.6 195.4,482.1 195.7,481.6 195.9,481.2 196.2,481.1 196.4,481.2 196.7,481.3 196.9,481.4 197.2,481.6 197.4,481.7 197.7,481.8 197.9,481.9 198.2,482.0 198.4,482.1 198.7,482.3 198.9,482.4 199.2,482.5 199.4,482.6 199.7,482.8 199.9,482.9 200.2,483.0 200.4,483.2 200.7,483.3" stroke-width="2.15"/>
<path d="M200.7,483.3 200.9,483.4 201.2,483.6 201.4,483.7 201.7,483.8 201.9,484.0 202.2,484.3 202.4,484.6 202.7,484.9 202.9,485.3 203.2,485.6 203.4,485.9 203.7,486.3 203.9,486.6 204.2,486.9 204.4,487.3 204.7,487.6 204.9,487.9 205.2,488.0 205.4,488.0 205.7,487.9 205.9,487.9 206.2,487.9 206.4,487.9 206.7,487.8 206.9,487.8 207.2,487.8 207.4,487.8 207.7,487.7 207.9,487.7 208.2,487.7 208.4,487.7 208.7,487.6 208.9,487.5 209.2,487.1 209.4,486.6 209.7,486.1 209.9,485.5 210.2,485.0 210.4,484.4 210.7,483.9" stroke-width="2.15"/>
<path d="M210.7,483.9 210.9,483.3 211.2,482.8 211.4,482.2 211.7,481.7 211.9,481.3 212.2,481.2 212.4,481.4 212.7,481.7 212.9,481.9 213.2,482.2 213.4,482.4 213.7,482.7 213.9,483.0 214.2,483.5 214.4,484.0 214.7,484.6 214.9,485.2 215.2,485.8 215.4,486.4 215.7,487.0 215.9,487.5 216.2,488.1 216.4,488.7 216.7,489.3 216.9,489.8 217.2,490.1 217.4,490.4 217.7,490.6 217.9,490.8 218.2,491.0 218.4,491.2 218.7,491.4 218.9,491.6 219.2,491.8 219.4,492.0 219.7,492.2 219.9,492.4 220.2,492.6 220.4,492.8 220.7,493.0" stroke-width="2.15"/>
<path d="M220.7,493.0 220.9,493.2 221.2,493.4 221.4,493.6 221.7,493.8 221.9,493.8 222.2,493.6 222.4,493.2 222.7,492.8 222.9,492.4 223.2,492.0 223.4,491.6 223.7,491.2 223.9,490.8 224.2,490.3 224.4,489.9 224.7,489.5 224.9,489.1 225.2,488.7 225.4,488.2 225.7,487.8 225.9,487.4 226.2,487.0 226.4,486.6 226.7,486.2 226.9,485.8 227.2,485.3 227.4,484.9 227.7,484.5 227.9,484.2 228.2,484.1 228.4,484.2 228.7,484.4 228.9,484.5 229.2,484.6 229.4,484.8 229.7,484.9 229.9,485.0 230.2,485.2 230.4,485.3 230.7,485.4" stroke-width="2.15"/>
<path d="M230.7,485.4 230.9,485.6 231.2,485.7 231.4,485.8 231.7,485.9 231.9,486.0 232.2,486.2 232.4,486.3 232.7,486.4 232.9,486.5 233.2,486.6 233.4,486.7 233.7,486.9 233.9,487.0 234.2,487.2 234.4,487.4 234.7,487.7 234.9,487.9 235.2,488.2 235.4,488.4 235.7,488.7 235.9,488.9 236.2,489.2 236.4,489.4 236.7,489.7 236.9,489.9 237.2,490.0 237.4,490.0 237.7,489.9 237.9,489.9 238.2,489.9 238.4,489.9 238.7,489.8 238.9,489.8 239.2,489.8 239.4,489.8 239.7,489.7 239.9,489.7 240.2,489.7 240.4,489.7 240.7,489.6" stroke-width="2.15"/>
<path d="M240.7,489.6 240.9,489.5 241.2,489.1 241.4,488.5 241.7,487.8 241.9,487.2 242.2,486.6 242.4,485.9 242.7,485.3 242.9,484.7 243.2,484.0 243.4,483.5 243.7,483.2 243.9,483.3 244.2,483.5 244.4,483.7 244.7,483.9 244.9,484.1 245.2,484.3 245.4,484.5 245.7,484.8 245.9,485.1 246.2,485.6 246.4,486.2 246.7,486.9 246.9,487.6 247.2,488.2 247.4,488.9 247.7,489.6 247.9,490.1 248.2,490.4 248.4,490.5 248.7,490.6 248.9,490.6 249.2,490.7 249.4,490.7 249.7,490.8 249.9,490.9 250.2,490.9 250.4,491.0 250.7,491.0" stroke-width="2.15"/>
<path d="M250.7,491.0 250.9,491.1 251.2,491.2 251.4,491.2 251.7,491.3 251.9,491.3 252.2,491.4 252.4,491.5 252.7,491.5 252.9,491.4 253.2,491.1 253.4,490.5 253.7,489.8 253.9,489.2 254.2,488.6 254.4,487.9 254.7,487.3 254.9,486.7 255.2,486.0 255.4,485.4 255.7,484.8 255.9,484.1 256.2,483.5 256.4,482.8 256.7,482.1 256.9,481.5 257.2,480.8 257.4,480.1 257.7,479.5 257.9,478.8 258.2,478.1 258.4,477.5 258.7,476.8 258.9,476.3 259.2,476.0 259.4,475.9 259.7,475.9 259.9,475.9 260.2,475.8 260.4,475.8 260.7,475.8" stroke-width="2.15"/>
<path d="M260.7,475.8 260.9,475.7 261.2,475.7 261.4,475.7 261.7,475.6 261.9,475.6 262.2,475.4 262.4,475.2 262.7,475.0 262.9,474.8 263.2,474.6 263.4,474.3 263.7,474.1 263.9,473.9 264.2,473.7 264.4,473.5 264.7,473.3 264.9,473.1 265.2,473.0 265.4,472.9 265.7,472.9 265.9,472.9 266.2,472.8 266.4,472.8 266.7,472.7 266.9,472.7 267.2,472.7 267.4,472.6 267.7,472.6 267.9,472.6 268.2,472.5 268.4,472.5 268.7,472.4 268.9,472.3 269.2,472.0 269.4,471.6 269.7,471.1 269.9,470.7 270.2,470.2 270.4,469.8 270.7,469.3" stroke-width="2.16"/>
<path d="M270.7,469.3 270.9,468.9 271.2,468.4 271.4,468.0 271.7,467.5 271.9,467.0 272.2,466.4 272.4,465.7 272.7,464.9 272.9,464.2 273.2,463.4 273.4,462.7 273.7,461.9 273.9,461.3 274.2,461.0 274.4,460.9 274.7,460.8 274.9,460.7 275.2,460.6 275.4,460.5 275.7,460.4 275.9,460.4 276.2,460.3 276.4,460.2 276.7,460.1 276.9,460.1 277.2,460.2 277.4,460.4 277.7,460.7 277.9,460.9 278.2,461.2 278.4,461.4 278.7,461.7 278.9,461.8 279.2,461.6 279.4,461.2 279.7,460.8 279.9,460.3 280.2,459.9 280.4,459.5 280.7,459.0" stroke-width="2.19"/>
<path d="M280.7,459.0 280.9,458.6 281.2,458.2 281.4,457.7 281.7,457.3 281.9,456.8 282.2,456.4 282.4,456.0 282.7,455.5 282.9,455.0 283.2,454.4 283.4,453.7 283.7,452.9 283.9,452.2 284.2,451.4 284.4,450.7 284.7,449.9 284.9,449.2 285.2,448.4 285.4,447.7 285.7,446.9 285.9,446.1 286.2,445.3 286.4,444.5 286.7,443.7 286.9,442.8 287.2,442.0 287.4,441.2 287.7,440.3 287.9,439.5 288.2,438.7 288.4,437.8 288.7,437.0 288.9,436.2 289.2,435.5 289.4,434.8 289.7,434.1 289.9,433.5 290.2,432.8 290.4,432.1 290.7,431.5" stroke-width="2.24"/>
<path d="M290.7,431.5 290.9,430.8 291.2,430.1 291.4,429.5 291.7,428.8 291.9,428.2 292.2,427.9 292.4,427.7 292.7,427.5 292.9,427.3 293.2,427.1 293.4,426.9 293.7,426.7 293.9,426.5 294.2,426.4 294.4,426.2 294.7,426.0 294.9,425.8 295.2,425.6 295.4,425.4 295.7,425.2 295.9,425.0 296.2,424.6 296.4,424.1 296.7,423.6 296.9,423.1 297.2,422.6 297.4,422.1 297.7,421.6 297.9,421.1 298.2,420.6 298.4,420.1 298.7,419.6 298.9,419.1 299.2,418.6 299.4,418.1 299.7,417.6 299.9,417.1 300.2,416.6 300.4,416.1 300.7,415.6" stroke-width="2.30"/>
<path d="M300.7,415.6 300.9,415.1 301.2,414.5 301.4,413.9 301.7,413.2 301.9,412.6 302.2,412.0 302.4,411.4 302.7,410.8 302.9,410.1 303.2,409.2 303.4,408.2 303.7,407.2 303.9,406.2 304.2,405.2 304.4,404.2 304.7,403.2 304.9,402.2 305.2,401.3 305.4,400.4 305.7,399.6 305.9,398.7 306.2,397.8 306.4,396.9 306.7,396.1 306.9,395.3 307.2,394.8 307.4,394.6 307.7,394.3 307.9,394.1 308.2,393.8 308.4,393.6 308.7,393.3 308.9,393.1 309.2,393.1 309.4,393.2 309.7,393.4 309.9,393.5 310.2,393.6 310.4,393.7 310.7,393.9" stroke-width="2.37"/>
<path d="M310.7,393.9 310.9,393.9 311.2,393.6 311.4,393.1 311.7,392.6 311.9,392.1 312.2,391.6 312.4,391.1 312.7,390.6 312.9,390.1 313.2,389.6 313.4,389.1 313.7,388.6 313.9,388.1 314.2,387.5 314.4,387.0 314.7,386.4 314.9,385.8 315.2,385.2 315.4,384.6 315.7,384.0 315.9,383.5 316.2,382.9 316.4,382.3 316.7,381.7 316.9,381.1 317.2,380.4 317.4,379.7 317.7,378.9 317.9,378.2 318.2,377.4 318.4,376.7 318.7,375.9 318.9,375.1 319.2,374.1 319.4,373.0 319.7,371.9 319.9,370.7 320.2,369.6 320.4,368.5 320.7,367.4" stroke-width="2.42"/>
<path d="M320.7,367.4 320.9,366.3 321.2,365.4 321.4,364.7 321.7,363.9 321.9,363.2 322.2,362.4 322.4,361.7 322.7,360.9 322.9,360.2 323.2,359.8 323.4,359.6 323.7,359.3 323.9,359.1 324.2,358.8 324.4,358.6 324.7,358.3 324.9,358.1 325.2,357.8 325.4,357.6 325.7,357.3 325.9,357.0 326.2,356.6 326.4,356.1 326.7,355.6 326.9,355.1 327.2,354.6 327.4,354.1 327.7,353.6 327.9,353.1 328.2,352.6 328.4,352.1 328.7,351.6 328.9,351.2 329.2,350.8 329.4,350.6 329.7,350.3 329.9,350.1 330.2,349.8 330.4,349.6 330.7,349.3" stroke-width="2.50"/>
<path d="M330.7,349.3 330.9,349.1 331.2,348.8 331.4,348.6 331.7,348.3 331.9,347.7 332.2,346.3 332.4,344.4 332.7,342.4 332.9,340.6 333.2,339.1 333.4,337.9 333.7,336.7 333.9,335.6 334.2,334.4 334.4,333.2 334.7,332.1 334.9,330.9 335.2,329.7 335.4,328.6 335.7,327.4 335.9,326.3 336.2,325.4 336.4,324.7 336.7,323.9 336.9,323.2 337.2,322.4 337.4,321.7 337.7,320.9 337.9,320.3 338.2,319.9 338.4,319.7 338.7,319.5 338.9,319.4 339.2,319.2 339.4,319.0 339.7,318.9 339.9,318.7 340.2,318.5 340.4,318.4 340.7,318.2" stroke-width="2.58"/>
<path d="M340.7,318.2 340.9,318.0 341.2,317.7 341.4,317.3 341.7,317.0 341.9,316.6 342.2,316.2 342.4,315.8 342.7,315.5 342.9,315.1 343.2,314.6 343.4,314.1 343.7,313.6 343.9,313.1 344.2,312.6 344.4,312.1 344.7,311.6 344.9,311.1 345.2,310.6 345.4,310.1 345.7,309.6 345.9,309.1 346.2,308.5 346.4,308.0 346.7,307.4 346.9,306.8 347.2,306.2 347.4,305.6 347.7,305.0 347.9,304.5 348.2,303.9 348.4,303.3 348.7,302.7 348.9,302.0 349.2,301.0 349.4,299.8 349.7,298.5 349.9,297.3 350.2,296.0 350.4,294.8 350.7,293.5" stroke-width="2.64"/>
<path d="M350.7,293.5 350.9,292.3 351.2,291.0 351.4,289.8 351.7,288.5 351.9,287.3 352.2,286.0 352.4,284.8 352.7,283.5 352.9,282.3 353.2,281.3 353.4,280.4 353.7,279.6 353.9,278.7 354.2,277.8 354.4,276.9 354.7,276.1 354.9,275.3 355.2,274.7 355.4,274.4 355.7,274.0 355.9,273.6 356.2,273.3 356.4,273.2 356.7,273.5 356.9,273.8 357.2,274.2 357.4,274.6 357.7,275.0 357.9,275.4 358.2,275.8 358.4,276.2 358.7,276.5 358.9,277.0 359.2,277.5 359.4,278.1 359.7,278.8 359.9,279.4 360.2,280.0 360.4,280.6 360.7,281.2" stroke-width="2.73"/>
<path d="M360.7,281.2 360.9,281.9 361.2,282.5 361.4,283.1 361.7,283.8 361.9,284.4 362.2,285.0 362.4,285.6 362.7,286.2 362.9,286.8 363.2,287.3 363.4,287.7 363.7,288.1 363.9,288.5 364.2,288.8 364.4,289.2 364.7,289.6 364.9,290.0 365.2,290.4 365.4,290.7 365.7,291.0 365.9,291.2 366.2,291.3 366.4,291.4 366.7,291.5 366.9,291.7 367.2,291.8 367.4,291.9 367.7,291.9 367.9,291.8 368.2,291.6 368.4,291.4 368.7,291.2 368.9,291.2 369.2,291.5 369.4,292.1 369.7,292.8 369.9,293.4 370.2,294.0 370.4,294.6 370.7,295.2" stroke-width="2.70"/>
<path d="M370.7,295.2 370.9,295.9 371.2,296.8 371.4,297.8 371.7,298.8 371.9,299.8 372.2,300.8 372.4,301.8 372.7,302.8 372.9,303.7 373.2,304.6 373.4,305.3 373.7,306.1 373.9,306.8 374.2,307.6 374.4,308.3 374.7,309.1 374.9,309.8 375.2,310.3 375.4,310.8 375.7,311.2 375.9,311.6 376.2,312.0 376.4,312.4 376.7,312.8 376.9,313.2 377.2,313.7 377.4,314.1 377.7,314.5 377.9,314.9 378.2,315.3 378.4,315.7 378.7,316.0 378.9,316.4 379.2,316.8 379.4,317.2 379.7,317.5 379.9,317.9 380.2,318.1 380.4,318.2 380.7,318.4" stroke-width="2.64"/>
<path d="M380.7,318.4 380.9,318.5 381.2,318.6 381.4,318.7 381.7,318.9 381.9,319.0 382.2,319.3 382.4,319.7 382.7,320.0 382.9,320.4 383.2,320.8 383.4,321.2 383.7,321.5 383.9,322.0 384.2,322.8 384.4,323.8 384.7,324.8 384.9,325.8 385.2,326.8 385.4,327.8 385.7,328.8 385.9,329.9 386.2,331.2 386.4,332.7 386.7,334.2 386.9,335.7 387.2,337.2 387.4,338.7 387.7,340.2 387.9,341.6 388.2,342.9 388.4,344.0 388.7,345.1 388.9,346.2 389.2,347.3 389.4,348.4 389.7,349.5 389.9,350.6 390.2,351.7 390.4,352.8 390.7,353.9" stroke-width="2.57"/>
<path d="M390.7,353.9 390.9,355.0 391.2,356.1 391.4,357.2 391.7,358.3 391.9,359.4 392.2,360.5 392.4,361.6 392.7,362.7 392.9,363.8 393.2,364.9 393.4,366.1 393.7,367.3 393.9,368.4 394.2,369.6 394.4,370.8 394.7,371.9 394.9,373.1 395.2,374.3 395.4,375.4 395.7,376.6 395.9,377.7 396.2,378.8 396.4,379.8 396.7,380.8 396.9,381.8 397.2,382.8 397.4,383.8 397.7,384.8 397.9,385.8 398.2,386.8 398.4,387.8 398.7,388.8 398.9,389.7 399.2,390.5 399.4,391.1 399.7,391.8 399.9,392.4 400.2,393.0 400.4,393.6 400.7,394.2" stroke-width="2.44"/>
<path d="M400.7,394.2 400.9,395.1 401.2,396.3 401.4,397.9 401.7,399.5 401.9,401.2 402.2,402.8 402.4,404.4 402.7,406.0 402.9,407.6 403.2,409.2 403.4,410.7 403.7,412.2 403.9,413.7 404.2,415.2 404.4,416.7 404.7,418.2 404.9,419.7 405.2,421.2 405.4,422.7 405.7,424.2 405.9,425.6 406.2,426.7 406.4,427.6 406.7,428.6 406.9,429.5 407.2,430.4 407.4,431.3 407.7,432.2 407.9,433.1 408.2,434.1 408.4,435.0 408.7,435.9 408.9,436.7 409.2,437.2 409.4,437.4 409.7,437.7 409.9,437.9 410.2,438.2 410.4,438.4 410.7,438.7" stroke-width="2.31"/>
<path d="M410.7,438.7 410.9,438.8 411.2,438.6 411.4,438.1 411.7,437.6 411.9,437.1 412.2,436.6 412.4,436.1 412.7,435.6 412.9,435.1 413.2,434.6 413.4,434.1 413.7,433.6 413.9,433.1 414.2,432.6 414.4,432.1 414.7,431.6 414.9,431.1 415.2,430.6 415.4,430.1 415.7,429.6 415.9,429.2 416.2,428.8 416.4,428.6 416.7,428.3 416.9,428.1 417.2,427.8 417.4,427.6 417.7,427.3 417.9,427.2 418.2,427.2 418.4,427.4 418.7,427.7 418.9,427.9 419.2,428.2 419.4,428.4 419.7,428.7 419.9,428.9 420.2,429.2 420.4,429.4 420.7,429.7" stroke-width="2.28"/>
<path d="M420.7,429.7 420.9,429.9 421.2,429.9 421.4,429.8 421.7,429.6 421.9,429.5 422.2,429.4 422.4,429.3 422.7,429.1 422.9,429.1 423.2,429.3 423.4,429.6 423.7,429.9 423.9,430.3 424.2,430.6 424.4,430.9 424.7,431.3 424.9,431.6 425.2,431.9 425.4,432.3 425.7,432.6 425.9,432.8 426.2,432.9 426.4,432.8 426.7,432.7 426.9,432.6 427.2,432.4 427.4,432.3 427.7,432.2 427.9,432.1 428.2,432.0 428.4,431.9 428.7,431.7 428.9,431.5 429.2,431.0 429.4,430.3 429.7,429.6 429.9,428.9 430.2,428.2 430.4,427.5 430.7,426.8" stroke-width="2.28"/>
<path d="M430.7,426.8 430.9,426.2 431.2,425.8 431.4,425.6 431.7,425.3 431.9,425.1 432.2,424.8 432.4,424.6 432.7,424.3 432.9,424.2 433.2,424.2 433.4,424.4 433.7,424.7 433.9,424.9 434.2,425.2 434.4,425.4 434.7,425.7 434.9,426.0 435.2,426.5 435.4,427.1 435.7,427.8 435.9,428.4 436.2,429.0 436.4,429.6 436.7,430.2 436.9,430.8 437.2,431.0 437.4,431.1 437.7,431.2 437.9,431.3 438.2,431.4 438.4,431.5 438.7,431.6 438.9,431.6 439.2,431.7 439.4,431.8 439.7,431.9 439.9,432.0 440.2,432.2 440.4,432.4 440.7,432.7" stroke-width="2.29"/>
<path d="M440.7,432.7 440.9,432.9 441.2,433.2 441.4,433.4 441.7,433.7 441.9,433.8 442.2,433.6 442.4,433.1 442.7,432.6 442.9,432.1 443.2,431.6 443.4,431.1 443.7,430.6 443.9,430.1 444.2,429.6 444.4,429.1 444.7,428.6 444.9,428.1 445.2,427.7 445.4,427.2 445.7,426.8 445.9,426.4 446.2,426.0 446.4,425.6 446.7,425.2 446.9,424.8 447.2,424.3 447.4,423.9 447.7,423.5 447.9,423.2 448.2,423.1 448.4,423.1 448.7,423.2 448.9,423.3 449.2,423.4 449.4,423.5 449.7,423.6 449.9,423.6 450.2,423.7 450.4,423.8 450.7,423.9" stroke-width="2.29"/>
<path d="M450.7,423.9 450.9,424.0 451.2,424.0 451.4,424.1 451.7,424.1 451.9,424.1 452.2,424.2 452.4,424.2 452.7,424.2 452.9,424.3 453.2,424.3 453.4,424.3 453.7,424.4 453.9,424.4 454.2,424.5 454.4,424.7 454.7,424.9 454.9,425.0 455.2,425.2 455.4,425.4 455.7,425.5 455.9,425.7 456.2,425.9 456.4,426.0 456.7,426.2 456.9,426.3 457.2,426.3 457.4,426.3 457.7,426.2 457.9,426.1 458.2,426.1 458.4,426.0 458.7,425.9 458.9,425.9 459.2,425.8 459.4,425.7 459.7,425.7 459.9,425.5 460.2,425.0 460.4,424.4 460.7,423.7" stroke-width="2.30"/>
<path d="M460.7,423.7 460.9,423.0 461.2,422.3 461.4,421.6 461.7,420.9 461.9,420.2 462.2,419.6 462.4,419.0 462.7,418.7 462.9,418.4 463.2,418.2 463.4,417.9 463.7,417.7 463.9,417.4 464.2,417.2 464.4,417.2 464.7,417.3 464.9,417.6 465.2,417.9 465.4,418.2 465.7,418.5 465.9,418.8 466.2,419.1 466.4,419.4 466.7,419.7 466.9,419.9 467.2,420.2 467.4,420.4 467.7,420.7 467.9,420.9 468.2,421.2 468.4,421.4 468.7,421.7 468.9,421.9 469.2,421.9 469.4,421.9 469.7,421.8 469.9,421.7 470.2,421.6 470.4,421.5 470.7,421.4" stroke-width="2.31"/>
<path d="M470.7,421.4 470.9,421.4 471.2,421.3 471.4,421.2 471.7,421.1 471.9,421.0 472.2,420.8 472.4,420.6 472.7,420.3 472.9,420.1 473.2,419.8 473.4,419.6 473.7,419.3 473.9,419.1 474.2,418.8 474.4,418.6 474.7,418.3 474.9,418.0 475.2,417.5 475.4,417.0 475.7,416.4 475.9,415.8 476.2,415.2 476.4,414.6 476.7,414.0 476.9,413.5 477.2,412.9 477.4,412.3 477.7,411.7 477.9,411.1 478.2,410.7 478.4,410.2 478.7,409.8 478.9,409.4 479.2,409.0 479.4,408.5 479.7,408.1 479.9,407.8 480.2,407.6 480.4,407.7 480.7,407.7" stroke-width="2.33"/>
<path d="M480.7,407.7 480.9,407.7 481.2,407.8 481.4,407.8 481.7,407.8 481.9,407.9 482.2,407.9 482.4,407.9 482.7,408.0 482.9,408.0 483.2,407.9 483.4,407.8 483.7,407.6 483.9,407.5 484.2,407.4 484.4,407.2 484.7,407.1 484.9,407.0 485.2,406.8 485.4,406.7 485.7,406.6 485.9,406.4 486.2,406.4 486.4,406.3 486.7,406.3 486.9,406.3 487.2,406.2 487.4,406.2 487.7,406.2 487.9,406.1 488.2,406.1 488.4,406.1 488.7,406.0 488.9,405.9 489.2,405.6 489.4,405.1 489.7,404.6 489.9,404.1 490.2,403.6 490.4,403.1 490.7,402.6" stroke-width="2.35"/>
<path d="M490.7,402.6 490.9,402.1 491.2,401.4 491.4,400.7 491.7,399.9 491.9,399.2 492.2,398.4 492.4,397.7 492.7,396.9 492.9,396.1 493.2,395.2 493.4,394.2 493.7,393.2 493.9,392.2 494.2,391.2 494.4,390.2 494.7,389.2 494.9,388.3 495.2,387.5 495.4,386.9 495.7,386.2 495.9,385.6 496.2,385.0 496.4,384.4 496.7,383.8 496.9,383.3 497.2,383.2 497.4,383.4 497.7,383.7 497.9,383.9 498.2,384.2 498.4,384.4 498.7,384.7 498.9,384.8 499.2,384.6 499.4,384.2 499.7,383.8 499.9,383.4 500.2,383.0 500.4,382.6 500.7,382.2" stroke-width="2.40"/>
<path d="M500.7,382.2 500.9,381.8 501.2,381.3 501.4,380.9 501.7,380.5 501.9,380.1 502.2,379.9 502.4,379.8 502.7,379.6 502.9,379.5 503.2,379.4 503.4,379.3 503.7,379.1 503.9,378.9 504.2,378.4 504.4,377.7 504.7,376.9 504.9,376.2 505.2,375.4 505.4,374.7 505.7,373.9 505.9,373.1 506.2,372.3 506.4,371.4 506.7,370.6 506.9,369.7 507.2,368.8 507.4,367.9 507.7,367.1 507.9,366.2 508.2,365.4 508.4,364.7 508.7,363.9 508.9,363.2 509.2,362.4 509.4,361.7 509.7,360.9 509.9,360.2 510.2,359.5 510.4,359.0 510.7,358.4" stroke-width="2.45"/>
<path d="M510.7,358.4 510.9,357.8 511.2,357.2 511.4,356.6 511.7,356.0 511.9,355.4 512.2,354.9 512.5,354.3 512.7,353.7 513.0,353.1 513.2,352.5 513.5,351.9 513.7,351.4 514.0,350.8 514.2,350.2 514.5,349.6 514.7,349.0 515.0,348.4 515.2,347.9 515.5,347.3 515.7,346.7 516.0,346.1 516.2,345.6 516.5,345.1 516.7,344.6 517.0,344.1 517.2,343.6 517.5,343.1 517.7,342.6 518.0,342.1 518.2,341.6 518.5,341.1 518.7,340.6 519.0,340.1 519.2,339.5 519.5,338.9 519.7,338.2 520.0,337.6 520.2,337.0 520.5,336.4 520.7,335.7" stroke-width="2.53"/>
<path d="M520.7,335.7 521.0,335.0 521.2,334.2 521.5,333.2 521.7,332.2 522.0,331.2 522.2,330.2 522.5,329.2 522.7,328.2 523.0,327.2 523.2,326.2 523.5,325.2 523.7,324.2 524.0,323.2 524.2,322.2 524.5,321.2 524.7,320.2 525.0,319.2 525.2,318.2 525.5,317.2 525.7,316.2 526.0,315.2 526.2,314.2 526.5,313.2 526.7,312.2 527.0,311.3 527.2,310.6 527.5,310.1 527.7,309.6 528.0,309.1 528.2,308.6 528.5,308.1 528.7,307.6 529.0,307.2 529.2,307.1 529.5,307.1 529.7,307.2 530.0,307.3 530.2,307.4 530.5,307.4 530.7,307.5" stroke-width="2.62"/>
<path d="M530.7,307.5 531.0,307.5 531.2,307.1 531.5,306.6 531.7,306.0 532.0,305.4 532.2,304.8 532.5,304.3 532.7,303.7 533.0,303.1 533.2,302.5 533.5,301.9 533.7,301.2 534.0,300.6 534.2,300.0 534.5,299.4 534.7,298.7 535.0,298.0 535.2,297.0 535.5,295.7 535.7,294.5 536.0,293.2 536.2,292.0 536.5,290.7 536.7,289.5 537.0,288.3 537.2,287.4 537.5,286.5 537.7,285.7 538.0,284.8 538.2,284.0 538.5,283.2 538.7,282.3 539.0,281.5 539.2,280.7 539.5,279.8 539.7,279.0 540.0,278.2 540.2,277.6 540.5,277.1 540.7,276.5" stroke-width="2.69"/>
<path d="M540.7,276.5 541.0,276.0 541.2,275.5 541.5,275.0 541.7,274.5 542.0,273.9 542.2,273.4 542.5,273.1 542.7,272.8 543.0,272.7 543.2,272.6 543.5,272.4 543.7,272.3 544.0,272.2 544.2,272.0 544.5,271.9 544.7,271.8 545.0,271.6 545.2,271.6 545.5,271.5 545.7,271.5 546.0,271.4 546.2,271.4 546.5,271.3 546.7,271.3 547.0,271.2 547.2,271.2 547.5,271.1 547.7,271.1 548.0,271.0 548.2,270.9 548.5,270.8 548.7,270.8 549.0,270.7 549.2,270.6 549.5,270.5 549.7,270.4 550.0,270.3 550.2,270.3 550.5,270.2 550.7,270.1" stroke-width="2.75"/>
<path d="M550.7,270.1 551.0,270.0 551.2,269.8 551.5,269.5 551.7,269.3 552.0,269.0 552.2,268.8 552.5,268.5 552.7,268.3 553.0,268.0 553.2,267.8 553.5,267.5 553.7,267.3 554.0,267.0 554.2,266.6 554.5,266.1 554.7,265.6 555.0,265.1 555.2,264.6 555.5,264.1 555.7,263.6 556.0,263.0 556.2,262.2 556.5,261.3 556.7,260.4 557.0,259.4 557.2,258.5 557.5,257.6 557.7,257.0 558.0,256.8 558.2,256.6 558.5,256.4 558.7,256.2 559.0,256.1 559.2,255.9 559.5,255.8 559.7,255.9 560.0,256.2 560.2,256.6 560.5,257.0 560.7,257.5" stroke-width="2.78"/>
<path d="M560.7,257.5 561.0,257.9 561.2,258.3 561.5,258.7 561.7,259.0 562.0,259.2 562.2,259.4 562.5,259.6 562.7,259.8 563.0,259.9 563.2,260.1 563.5,260.3 563.7,260.3 564.0,260.2 564.2,260.0 564.5,259.9 564.7,259.8 565.0,259.6 565.2,259.5 565.5,259.3 565.7,259.2 566.0,259.0 566.2,258.9 566.5,258.8 566.7,258.8 567.0,258.7 567.2,258.6 567.5,258.5 567.7,258.4 568.0,258.3 568.2,258.3 568.5,258.2 568.7,258.1 569.0,257.9 569.2,257.5 569.5,257.0 569.7,256.4 570.0,255.8 570.2,255.2 570.5,254.7 570.7,254.1" stroke-width="2.79"/>
<path d="M570.7,254.1 571.0,253.5 571.2,252.9 571.5,252.3 571.7,251.6 572.0,250.8 572.2,250.0 572.5,249.2 572.7,248.3 573.0,247.5 573.2,246.7 573.5,245.8 573.7,245.0 574.0,244.3 574.2,243.7 574.5,243.3 574.7,242.9 575.0,242.6 575.2,242.2 575.5,241.8 575.7,241.4 576.0,241.2 576.2,241.1 576.5,241.1 576.7,241.1 577.0,241.2 577.2,241.2 577.5,241.3 577.7,241.3 578.0,241.4 578.2,241.4 578.5,241.5 578.7,241.5 579.0,241.5 579.2,241.3 579.5,241.0 579.7,240.7 580.0,240.4 580.2,240.1 580.5,239.8 580.7,239.5" stroke-width="2.83"/>
<path d="M580.7,239.5 581.0,239.2 581.2,238.9 581.5,238.6 581.7,238.4 582.0,238.2 582.2,238.1 582.5,237.9 582.7,237.8 583.0,237.6 583.2,237.5 583.5,237.3 583.7,237.2 584.0,237.0 584.2,236.8 584.5,236.6 584.7,236.4 585.0,236.2 585.2,236.0 585.5,235.8 585.7,235.6 586.0,235.4 586.2,235.1 586.5,234.7 586.7,234.1 587.0,233.3 587.2,232.5 587.5,231.8 587.7,231.0 588.0,230.2 588.2,229.5 588.5,228.7 588.7,227.9 589.0,227.3 589.2,226.8 589.5,226.5 589.7,226.3 590.0,226.0 590.2,225.8 590.5,225.5 590.7,225.3" stroke-width="2.87"/>
<path d="M590.7,225.3 591.0,225.1 591.2,225.1 591.5,225.2 591.7,225.2 592.0,225.3 592.2,225.4 592.5,225.5 592.7,225.6 593.0,225.7 593.2,225.7 593.5,225.8 593.7,225.9 594.0,225.9 594.2,225.6 594.5,225.1 594.7,224.6 595.0,224.1 595.2,223.6 595.5,223.1 595.7,222.6 596.0,222.1 596.2,221.6 596.5,221.1 596.7,220.6 597.0,220.1 597.2,219.6 597.5,219.1 597.7,218.6 598.0,218.1 598.2,217.6 598.5,217.1 598.7,216.6 599.0,216.1 599.2,215.6 599.5,215.1 599.7,214.6 600.0,214.0 600.2,213.2 600.5,212.2 600.7,211.2" stroke-width="2.90"/>
<path d="M600.7,211.2 601.0,210.2 601.2,209.2 601.5,208.2 601.7,207.2 602.0,206.2 602.2,205.2 602.5,204.2 602.7,203.2 603.0,202.2 603.2,201.2 603.5,200.2 603.7,199.2 604.0,198.2 604.2,197.3 604.5,196.4 604.7,195.5 605.0,194.7 605.2,193.8 605.5,192.9 605.7,192.0 606.0,191.3 606.2,190.8 606.5,190.4 606.7,190.1 607.0,189.7 607.2,189.4 607.5,189.1 607.7,188.7 608.0,188.4 608.2,188.1 608.5,187.7 608.7,187.4 609.0,187.0 609.2,186.5 609.5,185.9 609.7,185.4 610.0,184.8 610.2,184.2 610.5,183.6 610.7,183.0" stroke-width="2.98"/>
<path d="M610.7,183.0 611.0,182.4 611.2,181.9 611.5,181.3 611.7,180.7 612.0,180.2 612.2,179.8 612.5,179.5 612.7,179.3 613.0,179.0 613.2,178.8 613.5,178.5 613.7,178.3 614.0,178.0 614.2,177.8 614.5,177.5 614.7,177.3 615.0,177.0 615.2,176.5 615.5,175.9 615.7,175.4 616.0,174.8 616.2,174.2 616.5,173.6 616.7,173.0 617.0,172.4 617.2,171.9 617.5,171.3 617.7,170.7 618.0,170.1 618.2,169.6 618.5,169.2 618.7,168.7 619.0,168.3 619.2,167.8 619.5,167.4 619.7,166.9 620.0,166.6 620.2,166.4 620.5,166.3 620.7,166.3" stroke-width="3.04"/>
<path d="M620.7,166.3 621.0,166.2 621.2,166.2 621.5,166.1 621.7,166.1 622.0,166.1 622.2,166.5 622.5,167.1 622.7,167.8 623.0,168.4 623.2,169.0 623.5,169.6 623.7,170.3 624.0,170.9 624.2,171.7 624.5,172.6 624.7,173.5 625.0,174.3 625.2,175.2 625.5,176.1 625.7,177.0 626.0,177.7 626.2,178.2 626.5,178.5 626.7,178.7 627.0,179.0 627.2,179.2 627.5,179.5 627.7,179.7 628.0,180.0 628.2,180.4 628.5,180.9 628.7,181.4 629.0,181.9 629.2,182.4 629.5,182.9 629.7,183.4 630.0,183.8 630.2,184.1 630.5,184.2 630.7,184.4" stroke-width="3.04"/>
<path d="M630.7,184.4 631.0,184.5 631.2,184.6 631.5,184.7 631.7,184.9 632.0,184.9 632.2,184.7 632.5,184.3 632.7,183.9 633.0,183.6 633.2,183.2 633.5,182.8 633.7,182.4 634.0,182.1 634.2,181.9 634.5,181.7 634.7,181.5 635.0,181.4 635.2,181.2 635.5,181.0 635.7,180.9 636.0,180.7 636.2,180.5 636.5,180.4 636.7,180.2 637.0,180.1 637.2,180.3 637.5,180.7 637.7,181.1 638.0,181.4 638.2,181.8 638.5,182.2 638.7,182.6 639.0,182.9 639.2,183.3 639.5,183.8 639.7,184.2 640.0,184.6 640.2,185.0 640.5,185.4 640.7,185.8" stroke-width="3.02"/>
<path d="M640.7,185.8 641.0,186.3 641.2,186.7 641.5,187.1 641.7,187.5 642.0,187.9 642.2,188.3 642.5,188.8 642.7,189.2 643.0,189.6 643.2,190.0 643.5,190.4 643.7,190.8 644.0,191.3 644.2,191.7 644.5,192.1 644.7,192.5 645.0,192.9 645.2,193.3 645.5,193.6 645.7,193.9 646.0,194.3 646.2,194.6 646.5,194.9 646.7,195.3 647.0,195.6 647.2,195.9 647.5,196.3 647.7,196.6 648.0,196.9 648.2,197.1 648.5,197.2 648.7,197.4 649.0,197.5 649.2,197.6 649.5,197.7 649.7,197.9 650.0,197.9 650.2,197.8 650.5,197.6 650.7,197.4" stroke-width="2.99"/>
<path d="M650.7,197.4 651.0,197.2 651.2,197.0 651.5,196.8 651.7,196.6 652.0,196.4 652.2,196.2 652.5,196.2 652.7,196.6 653.0,197.0 653.2,197.5 653.5,198.0 653.7,198.4 654.0,199.0 654.2,199.7 654.5,200.6 654.7,201.5 655.0,202.3 655.2,203.2 655.5,204.1 655.7,205.0 656.0,205.8 656.2,206.4 656.5,206.9 656.7,207.4 657.0,207.9 657.2,208.4 657.5,208.9 657.7,209.4 658.0,209.9 658.2,210.4 658.5,210.9 658.7,211.4 659.0,211.9 659.2,212.5 659.5,213.1 659.7,213.6 660.0,214.2 660.2,214.8 660.5,215.4 660.7,216.0" stroke-width="2.95"/>
<path d="M660.7,216.0 661.0,216.6 661.2,217.1 661.5,217.7 661.7,218.3 662.0,218.8 662.2,219.1 662.5,219.2 662.7,219.4 663.0,219.5 663.2,219.6 663.5,219.7 663.7,219.9 664.0,219.9 664.2,219.9 664.5,219.7 664.7,219.5 665.0,219.4 665.2,219.2 665.5,219.0 665.7,218.9 666.0,218.7 666.2,218.5 666.5,218.4 666.7,218.2 667.0,218.1 667.2,218.1 667.5,218.2 667.7,218.4 668.0,218.5 668.2,218.6 668.5,218.7 668.7,218.9 669.0,219.1 669.2,219.4 669.5,219.9 669.7,220.4 670.0,220.9 670.2,221.4 670.5,221.9 670.7,222.4" stroke-width="2.91"/>
<path d="M670.7,222.4 671.0,222.9 671.2,223.4 671.5,223.9 671.7,224.4 672.0,224.9 672.2,225.5 672.5,226.0 672.7,226.6 673.0,227.1 673.2,227.7 673.5,228.3 673.7,228.8 674.0,229.4 674.2,230.0 674.5,230.5 674.7,231.1 675.0,231.6 675.2,232.2 675.5,232.8 675.7,233.3 676.0,233.9 676.2,234.4 676.5,234.9 676.7,235.4 677.0,235.9 677.2,236.4 677.5,236.9 677.7,237.4 678.0,237.9 678.2,238.4 678.5,238.9 678.7,239.4 679.0,239.9 679.2,240.4 679.5,240.9 679.7,241.4 680.0,241.9 680.2,242.4 680.5,242.9 680.7,243.4" stroke-width="2.87"/>
<path d="M680.7,243.4 681.0,243.8 681.2,243.8 681.5,243.7 681.7,243.5 682.0,243.3 682.2,243.1 682.5,242.9 682.7,242.7 683.0,242.5 683.2,242.3 683.5,242.2 683.7,242.2 684.0,242.5 684.2,242.9 684.5,243.3 684.7,243.7 685.0,244.0 685.2,244.4 685.5,244.8 685.7,245.4 686.0,246.2 686.2,247.1 686.5,248.0 686.7,248.9 687.0,249.7 687.2,250.6 687.5,251.5 687.7,252.4 688.0,253.2 688.2,254.1 688.5,255.0 688.7,255.9 689.0,256.7 689.2,257.6 689.5,258.5 689.7,259.2 690.0,259.9 690.2,260.5 690.5,261.1 690.7,261.8" stroke-width="2.82"/>
<path d="M690.7,261.8 691.0,262.4 691.2,263.0 691.5,263.6 691.7,264.3 692.0,265.0 692.2,265.7 692.5,266.4 692.7,267.1 693.0,267.8 693.2,268.5 693.5,269.1 693.7,269.5 694.0,269.7 694.2,269.8 694.5,269.9 694.7,270.0 695.0,270.1 695.2,270.1 695.5,270.2 695.7,270.3 696.0,270.4 696.2,270.4 696.5,270.3 696.7,270.3 697.0,270.3 697.2,270.2 697.5,270.2 697.7,270.2 698.0,270.1 698.2,270.1 698.5,270.1 698.7,270.0 699.0,270.1 699.2,270.2 699.5,270.3 699.7,270.5 700.0,270.7 700.2,270.9 700.5,271.1 700.7,271.3" stroke-width="2.76"/>
<path d="M700.7,271.3 701.0,271.5 701.2,271.7 701.5,271.9 701.7,272.3 702.0,272.9 702.2,273.5 702.5,274.1 702.7,274.8 703.0,275.4 703.2,276.0 703.5,276.6 703.7,277.3 704.0,277.9 704.2,278.5 704.5,279.1 704.7,279.8 705.0,280.4 705.2,281.0 705.5,281.6 705.7,282.3 706.0,282.9 706.2,283.5 706.5,284.2 706.7,284.9 707.0,285.7 707.2,286.5 707.5,287.3 707.7,288.1 708.0,288.8 708.2,289.3 708.5,289.8 708.7,290.2 709.0,290.6 709.2,291.0 709.5,291.4 709.7,291.8 710.0,292.3 710.2,292.7 710.5,293.1 710.7,293.5" stroke-width="2.72"/>
<path d="M710.7,293.5 711.0,293.9 711.2,294.3 711.5,294.7 711.7,295.1 712.0,295.4 712.2,295.8 712.5,296.2 712.7,296.6 713.0,296.8 713.2,296.9 713.5,296.8 713.7,296.6 714.0,296.5 714.2,296.4 714.5,296.2 714.7,296.1 715.0,295.9 715.2,295.8 715.5,295.7 715.7,295.9 716.0,296.4 716.2,296.9 716.5,297.5 716.7,298.0 717.0,298.6 717.2,299.1 717.5,299.7 717.7,300.3 718.0,301.0 718.2,301.8 718.5,302.5 718.7,303.2 719.0,303.9 719.2,304.7 719.5,305.4 719.7,306.1 720.0,306.8 720.2,307.5 720.5,308.2 720.7,308.9" stroke-width="2.67"/>
<path d="M720.7,308.9 721.0,309.5 721.2,310.2 721.5,310.9 721.7,311.5 722.0,312.2 722.2,312.9 722.5,313.5 722.7,314.2 723.0,314.9 723.2,315.5 723.5,316.2 723.7,316.9 724.0,317.6 724.2,318.2 724.5,318.9 724.7,319.6 725.0,320.3 725.2,320.9 725.5,321.5 725.7,322.0 726.0,322.3 726.2,322.5 726.5,322.7 726.7,322.9 727.0,323.1 727.2,323.3 727.5,323.5 727.7,323.8 728.0,323.9 728.2,324.0 728.5,323.9 728.7,323.9 729.0,323.9 729.2,323.8 729.5,323.8 729.7,323.8 730.0,323.7 730.2,323.7 730.5,323.7 730.7,323.6" stroke-width="2.61"/>
<path d="M730.7,323.6 731.0,323.7 731.2,324.0 731.5,324.4 731.7,324.8 732.0,325.2 732.2,325.6 732.5,326.1 732.7,326.5 733.0,326.9 733.2,327.5 733.5,328.1 733.7,328.6 734.0,329.2 734.2,329.8 734.5,330.4 734.7,331.0 735.0,331.6 735.2,332.1 735.5,332.7 735.7,333.3 736.0,333.9 736.2,334.4 736.5,334.9 736.7,335.4 737.0,335.9 737.2,336.4 737.5,336.9 737.7,337.4 738.0,337.9 738.2,338.4 738.5,338.9 738.7,339.4 739.0,339.9 739.2,340.5 739.5,341.1 739.7,341.6 740.0,342.2 740.2,342.8 740.5,343.4 740.7,344.0" stroke-width="2.57"/>
<path d="M740.7,344.0 741.0,344.6 741.2,345.1 741.5,345.7 741.7,346.3 742.0,346.9 742.2,347.3 742.5,347.8 742.7,348.2 743.0,348.6 743.2,349.0 743.5,349.4 743.7,349.8 744.0,350.3 744.2,350.7 744.5,351.0 744.7,351.2 745.0,351.4 745.2,351.5 745.5,351.7 745.7,351.8 746.0,352.0 746.2,352.2 746.5,352.3 746.7,352.5 747.0,352.7 747.2,352.8 747.5,353.0 747.7,353.2 748.0,353.3 748.2,353.5 748.5,353.6 748.7,353.8 749.0,354.1 749.2,354.7 749.5,355.6 749.7,356.5 750.0,357.3 750.2,358.2 750.5,359.1 750.7,360.0" stroke-width="2.52"/>
<path d="M750.7,360.0 751.0,360.8 751.2,361.7 751.5,362.6 751.7,363.5 752.0,364.3 752.2,365.2 752.5,366.1 752.7,367.0 753.0,367.8 753.2,368.7 753.5,369.6 753.7,370.5 754.0,371.3 754.2,372.2 754.5,373.1 754.7,374.0 755.0,374.8 755.2,375.5 755.5,376.1 755.7,376.8 756.0,377.4 756.2,378.0 756.5,378.6 756.7,379.3 757.0,379.8 757.2,380.0 757.5,380.2 757.7,380.2 758.0,380.3 758.2,380.4 758.5,380.5 758.7,380.6 759.0,380.7 759.2,380.7 759.5,380.8 759.7,380.9 760.0,381.0 760.2,381.0 760.5,381.0 760.7,381.0" stroke-width="2.45"/>
<path d="M760.7,381.0 761.0,381.0 761.2,381.0 761.5,381.0 761.7,381.0 762.0,381.0 762.2,381.0 762.5,381.0 762.7,381.0 763.0,381.1 763.2,381.3 763.5,381.7 763.7,382.1 764.0,382.4 764.2,382.8 764.5,383.2 764.7,383.6 765.0,384.0 765.2,384.6 765.5,385.4 765.7,386.1 766.0,386.9 766.2,387.6 766.5,388.4 766.7,389.1 767.0,389.9 767.2,390.6 767.5,391.4 767.7,392.1 768.0,392.9 768.2,393.6 768.5,394.4 768.7,395.1 769.0,395.9 769.2,396.6 769.5,397.4 769.7,398.1 770.0,398.9 770.2,399.6 770.5,400.4 770.7,401.1" stroke-width="2.41"/>
<path d="M770.7,401.1 771.0,401.8 771.2,402.5 771.5,403.1 771.7,403.8 772.0,404.4 772.2,405.0 772.5,405.6 772.7,406.3 773.0,406.8 773.2,407.2 773.5,407.6 773.7,407.9 774.0,408.2 774.2,408.6 774.5,408.9 774.7,409.2 775.0,409.4 775.2,409.2 775.5,408.8 775.7,408.3 776.0,407.8 776.2,407.3 776.5,406.7 776.7,405.7 777.0,404.6 777.2,403.5 777.5,402.4 777.7,401.3 778.0,400.3 778.2,399.5 778.5,398.7 778.7,398.0 779.0,397.3 779.2,396.6 779.5,395.9 779.7,395.2 780.0,394.7 780.2,394.5 780.5,394.6 780.7,394.7" stroke-width="2.36"/>
<path d="M780.7,394.7 781.0,394.8 781.2,394.9 781.5,395.0 781.7,395.1 782.0,395.4 782.2,395.6 782.5,395.9 782.7,396.1 783.0,396.4 783.2,396.6 783.5,396.8 783.7,396.8 784.0,396.5 784.2,396.1 784.5,395.7 784.7,395.3 785.0,395.0 785.2,394.6 785.5,394.2 785.7,393.9 786.0,393.7 786.2,393.5 786.5,393.3 786.7,393.1 787.0,392.9 787.2,392.7 787.5,392.5 787.7,392.2 788.0,392.0 788.2,391.5 788.5,390.9 788.7,390.2 789.0,389.6 789.2,389.0 789.5,388.4 789.7,387.7 790.0,387.0 790.2,386.2 790.5,385.2 790.7,384.2" stroke-width="2.39"/>
<path d="M790.7,384.2 791.0,383.2 791.2,382.2 791.5,381.2 791.7,380.2 792.0,379.2 792.2,378.4 792.5,377.6 792.7,376.9 793.0,376.1 793.2,375.4 793.5,374.6 793.7,373.9 794.0,373.2 794.2,372.6 794.5,372.1 794.7,371.6 795.0,371.1 795.2,370.6 795.5,370.1 795.7,369.6 796.0,369.1 796.2,368.8 796.5,368.5 796.7,368.3 797.0,368.0 797.2,367.8 797.5,367.5 797.7,367.3 798.0,367.0 798.2,366.7 798.5,366.3 798.7,365.9 799.0,365.6 799.2,365.2 799.5,364.8 799.7,364.4 800.0,364.1 800.2,363.9 800.5,363.7 800.7,363.5" stroke-width="2.46"/>
<path d="M800.7,363.5 801.0,363.4 801.2,363.2 801.5,363.0 801.7,362.9 802.0,362.7 802.2,362.5 802.5,362.4 802.7,362.2 803.0,362.0 803.2,361.8 803.5,361.5 803.7,361.3 804.0,361.0 804.2,360.8 804.5,360.5 804.7,360.3 805.0,360.0 805.2,359.5 805.5,358.9 805.7,358.2 806.0,357.6 806.2,357.0 806.5,356.4 806.7,355.7 807.0,355.1 807.2,354.3 807.5,353.4 807.7,352.5 808.0,351.7 808.2,350.8 808.5,349.9 808.7,349.0 809.0,348.2 809.2,347.5 809.5,346.9 809.7,346.2 810.0,345.6 810.2,345.0 810.5,344.4 810.7,343.7" stroke-width="2.50"/>
<path d="M810.7,343.7 811.0,343.2 811.2,343.0 811.5,342.9 811.7,342.8 812.0,342.8 812.2,342.7 812.5,342.7 812.7,342.6 813.0,342.5 813.2,342.5 813.5,342.5 813.7,342.5 814.0,342.8 814.2,343.0 814.5,343.2 814.7,343.5 815.0,343.8 815.2,344.0 815.5,344.2 815.7,344.2 816.0,343.9 816.2,343.5 816.5,343.2 816.7,342.8 817.0,342.5 817.2,342.1 817.5,341.8 817.7,341.4 818.0,341.1 818.2,340.7 818.5,340.4 818.7,340.1 819.0,339.7 819.2,339.4 819.5,339.1 819.7,338.7 820.0,338.4 820.2,338.1 820.5,337.7 820.7,337.4" stroke-width="2.54"/>
<path d="M820.7,337.4 821.0,337.0 821.2,336.3 821.5,335.4 821.7,334.5 822.0,333.7 822.2,332.8 822.5,331.9 822.7,331.0 823.0,330.1 823.2,329.2 823.5,328.2 823.7,327.2 824.0,326.2 824.2,325.2 824.5,324.2 824.7,323.2 825.0,322.3 825.2,321.5 825.5,320.9 825.7,320.2 826.0,319.6 826.2,319.0 826.5,318.4 826.7,317.7 827.0,317.2 827.2,316.9 827.5,316.7 827.7,316.5 828.0,316.3 828.2,316.1 828.5,315.9 828.7,315.7 829.0,315.5 829.2,315.3 829.5,315.1 829.7,314.9 830.0,314.7 830.2,314.5 830.5,314.3 830.7,314.1" stroke-width="2.60"/>
<path d="M830.7,314.1 831.0,313.9 831.2,313.7 831.5,313.5 831.7,313.2 832.0,313.0 832.2,312.7 832.5,312.4 832.7,312.1 833.0,311.8 833.2,311.5 833.5,311.2 833.7,310.9 834.0,310.6 834.2,310.3 834.5,310.0 834.7,309.9 835.0,309.8 835.2,309.7 835.5,309.6 835.7,309.5 836.0,309.4 836.2,309.3 836.5,309.2 836.7,309.1 837.0,308.9 837.2,308.3 837.5,307.4 837.7,306.5 838.0,305.7 838.2,304.8 838.5,303.9 838.7,303.0 839.0,302.2 839.2,301.3 839.5,300.4 839.7,299.5 840.0,298.7 840.2,297.8 840.5,296.9 840.7,296.0" stroke-width="2.65"/>
<path d="M840.7,296.0 841.0,295.2 841.2,294.5 841.5,293.9 841.7,293.2 842.0,292.6 842.2,292.0 842.5,291.4 842.7,290.7 843.0,290.3 843.2,290.1 843.5,290.2 843.7,290.4 844.0,290.5 844.2,290.6 844.5,290.7 844.7,290.9 845.0,290.9 845.2,290.8 845.5,290.7 845.7,290.5 846.0,290.3 846.2,290.1 846.5,289.9 846.7,289.7 847.0,289.5 847.2,289.3 847.5,289.1 847.7,288.9 848.0,288.7 848.2,288.5 848.5,288.3 848.7,288.1 849.0,287.9 849.2,287.7 849.5,287.5 849.7,287.2 850.0,287.0 850.2,286.7 850.5,286.2 850.7,285.8" stroke-width="2.70"/>
<path d="M850.7,285.8 851.0,285.4 851.2,285.0 851.5,284.6 851.7,284.2 852.0,283.7 852.2,283.3 852.5,282.8 852.7,282.1 853.0,281.3 853.2,280.6 853.5,279.8 853.7,279.1 854.0,278.3 854.2,277.6 854.5,276.8 854.7,275.9 855.0,275.1 855.2,274.2 855.5,273.3 855.7,272.4 856.0,271.6 856.2,270.7 856.5,269.9 856.7,269.1 857.0,268.3 857.2,267.5 857.5,266.7 857.7,265.9 858.0,265.3 858.2,264.8 858.5,264.5 858.7,264.3 859.0,264.0 859.2,263.8 859.5,263.5 859.7,263.3 860.0,263.0 860.2,262.7 860.5,262.4 860.7,262.1" stroke-width="2.75"/>
<path d="M860.7,262.1 861.0,261.8 861.2,261.5 861.5,261.2 861.7,260.9 862.0,260.6 862.2,260.3 862.5,260.0 862.7,259.7 863.0,259.5 863.2,259.3 863.5,259.0 863.7,258.8 864.0,258.6 864.2,258.3 864.5,258.1 864.7,257.9 865.0,257.7 865.2,257.6 865.5,257.5 865.7,257.4 866.0,257.4 866.2,257.3 866.5,257.3 866.7,257.2 867.0,257.1 867.2,257.1 867.5,257.0 867.7,256.7 868.0,256.3 868.2,255.7 868.5,255.2 868.7,254.7 869.0,254.2 869.2,253.7 869.5,253.1 869.7,252.6 870.0,252.1 870.2,251.4 870.5,250.6 870.7,249.9" stroke-width="2.80"/>
<path d="M870.7,249.9 871.0,249.1 871.2,248.4 871.5,247.6 871.7,246.9 872.0,246.1 872.2,245.3 872.5,244.4 872.7,243.5 873.0,242.7 873.2,241.8 873.5,240.9 873.7,240.0 874.0,239.3 874.2,238.8 874.5,238.5 874.7,238.3 875.0,238.0 875.2,237.8 875.5,237.5 875.7,237.3 876.0,237.2 876.2,237.3 876.5,237.7 876.7,238.1 877.0,238.4 877.2,238.8 877.5,239.2 877.7,239.6 878.0,239.8 878.2,239.8 878.5,239.5 878.7,239.3 879.0,239.0 879.2,238.8 879.5,238.5 879.7,238.3 880.0,238.0 880.2,237.7 880.5,237.2 880.7,236.8" stroke-width="2.85"/>
<path d="M880.7,236.8 881.0,236.4 881.2,236.0 881.5,235.6 881.7,235.2 882.0,234.7 882.2,234.3 882.5,233.9 882.7,233.3 883.0,232.7 883.2,232.2 883.5,231.6 883.7,231.0 884.0,230.4 884.2,229.8 884.5,229.3 884.7,228.7 885.0,228.1 885.2,227.3 885.5,226.4 885.7,225.5 886.0,224.7 886.2,223.8 886.5,222.9 886.7,222.0 887.0,221.2 887.2,220.4 887.5,219.6 887.7,218.9 888.0,218.1 888.2,217.4 888.5,216.6 888.7,215.9 889.0,215.2 889.2,214.7 889.5,214.3 889.7,213.9 890.0,213.6 890.2,213.2 890.5,212.8 890.7,212.4" stroke-width="2.89"/>
<path d="M890.7,212.4 891.0,212.1 891.2,211.9 891.5,211.8 891.7,211.7 892.0,211.6 892.2,211.5 892.5,211.4 892.7,211.3 893.0,211.2 893.2,211.2 893.5,211.0 893.7,210.8 894.0,210.4 894.2,210.0 894.5,209.6 894.7,209.2 895.0,208.7 895.2,208.3 895.5,207.9 895.7,207.5 896.0,207.1 896.2,206.9 896.5,206.7 896.7,206.5 897.0,206.4 897.2,206.2 897.5,206.0 897.7,205.9 898.0,205.7 898.2,205.5 898.5,205.4 898.7,205.2 899.0,205.0 899.2,204.7 899.5,204.2 899.7,203.8 900.0,203.4 900.2,203.0 900.5,202.6 900.7,202.2" stroke-width="2.94"/>
<path d="M900.7,202.2 901.0,201.7 901.2,201.3 901.5,200.9 901.7,200.5 902.0,200.0 902.2,199.3 902.5,198.4 902.7,197.5 903.0,196.7 903.2,195.8 903.5,194.9 903.7,194.0 904.0,193.2 904.2,192.4 904.5,191.6 904.7,190.9 905.0,190.1 905.2,189.4 905.5,188.6 905.7,187.9 906.0,187.2 906.2,186.8 906.5,186.4 906.7,186.1 907.0,185.8 907.2,185.5 907.5,185.2 907.7,185.2 908.0,185.4 908.2,185.6 908.5,185.9 908.7,186.1 909.0,186.4 909.2,186.6 909.5,186.8 909.7,186.8 910.0,186.6 910.2,186.4 910.5,186.1 910.7,185.9" stroke-width="2.99"/>
<path d="M910.7,185.9 911.0,185.6 911.2,185.4 911.5,185.2 911.7,184.9 912.0,184.7 912.2,184.5 912.5,184.3 912.7,184.1 913.0,183.9 913.2,183.7 913.5,183.5 913.7,183.2 914.0,183.0 914.2,182.7 914.5,182.2 914.7,181.8 915.0,181.4 915.2,181.0 915.5,180.6 915.7,180.2 916.0,179.7 916.2,179.3 916.5,178.8 916.7,178.1 917.0,177.3 917.2,176.6 917.5,175.8 917.7,175.1 918.0,174.3 918.2,173.6 918.5,172.7 918.7,171.7 919.0,170.7 919.2,169.7 919.5,168.7 919.7,167.7 920.0,166.9 920.2,166.2 920.5,165.4 920.7,164.7" stroke-width="3.03"/>
<path d="M920.7,164.7 921.0,163.9 921.2,163.2 921.5,162.5 921.7,161.8 922.0,161.3 922.2,160.8 922.5,160.3 922.7,159.8 923.0,159.3 923.2,158.8 923.5,158.3 923.7,158.0 924.0,157.8 924.2,157.6 924.5,157.4 924.7,157.3 925.0,157.1 925.2,156.9 925.5,156.8 925.7,156.6 926.0,156.4 926.2,156.3 926.5,156.1 926.7,155.9 927.0,155.7 927.2,155.6 927.5,155.4 927.7,155.2 928.0,155.0 928.2,154.7 928.5,154.4 928.7,154.1 929.0,153.8 929.2,153.5 929.5,153.2 929.7,152.9 930.0,152.6 930.2,152.2 930.5,151.9 930.7,151.4" stroke-width="3.09"/>
<path d="M930.7,151.4 931.0,150.9 931.2,150.4 931.5,149.9 931.7,149.4 932.0,148.9 932.2,148.4 932.5,148.0 932.7,147.6 933.0,147.3 933.2,146.9 933.5,146.5 933.7,146.0 934.0,145.2 934.2,144.4 934.5,143.5 934.7,142.7 935.0,141.8 935.2,141.0 935.5,140.1 935.7,139.3 936.0,138.4 936.2,137.6 936.5,136.7 936.7,135.9 937.0,135.0 937.2,134.2 937.5,133.5 937.7,133.5 938.0,134.2 938.2,135.2 938.5,136.2 938.7,137.2 939.0,138.2 939.2,139.0 939.5,139.5 939.7,139.8 940.0,140.1 940.2,140.4 940.5,140.7 940.7,141.0" stroke-width="3.14"/>
<path d="M940.7,141.0 941.0,141.3 941.2,141.3 941.5,140.6 941.7,139.6 942.0,138.6 942.2,137.6 942.5,136.6 942.7,135.6 943.0,134.6 943.2,133.6 943.5,132.7 943.7,132.0 944.0,131.6 944.2,131.3" stroke-width="3.15"/>
</g>
<path d="M937.5,133.5 937.7,133.5 938.0,134.2 938.2,135.2 938.5,136.2 938.7,137.2 939.0,138.2 939.2,139.0 939.5,139.5 939.7,139.8 940.0,140.1 940.2,140.4 940.5,140.7 940.7,141.0 941.0,141.3 941.2,141.3 941.5,140.6 941.7,139.6 942.0,138.6 942.2,137.6 942.5,136.6 942.7,135.6 943.0,134.6 943.2,133.6 943.5,132.7 943.7,132.0 944.0,131.6 944.2,131.3" fill="none" stroke="#0072B2" stroke-width="4.6" stroke-linejoin="round" stroke-linecap="butt"/>
<g fill="#f00" fill-opacity="0.6"><circle cx="939.0" cy="45.0" r="2.78"/><circle cx="939.2" cy="46.2" r="2.78"/><circle cx="939.4" cy="47.5" r="2.78"/><circle cx="939.7" cy="48.8" r="2.78"/><circle cx="940.0" cy="50.0" r="2.78"/><circle cx="940.3" cy="51.2" r="2.78"/><circle cx="940.7" cy="52.2" r="2.78"/><circle cx="941.0" cy="53.2" r="2.78"/><circle cx="941.3" cy="54.2" r="2.78"/><circle cx="941.5" cy="55.2" r="2.78"/><circle cx="940.5" cy="53.5" r="2.78"/><circle cx="939.8" cy="47.0" r="2.78"/><circle cx="940.8" cy="61.8" r="2.78"/><circle cx="941.1" cy="62.8" r="2.78"/><circle cx="941.4" cy="64.0" r="2.78"/><circle cx="941.5" cy="65.2" r="2.78"/><circle cx="941.6" cy="66.2" r="2.78"/><circle cx="938.2" cy="50.0" r="2.78"/><circle cx="942.0" cy="52.0" r="2.78"/><circle cx="940.0" cy="53.0" r="2.78"/><circle cx="942.5" cy="54.5" r="2.78"/><circle cx="938.6" cy="48.0" r="2.78"/></g>
<path d="M152.5,542.5v5 M278.5,542.5v5 M404.5,542.5v5 M530.5,542.5v5 M657.5,542.5v5 M783.5,542.5v5 M909.5,542.5v5 M79.5,466.5h-5 M79.5,379.5h-5 M79.5,292.5h-5 M79.5,205.5h-5 M79.5,118.5h-5 M79.5,32.5h-5" stroke="#000" stroke-width="1.1" fill="none"/>
<rect x="79.5" y="15.5" width="906.0" height="527.0" fill="none" stroke="#000" stroke-width="1.1"/>
<g font-family="'DejaVu Sans','Liberation Sans',sans-serif" font-size="13.89px" fill="#000">
<text x="151.7" y="562" text-anchor="middle">2001</text>
<text x="278.0" y="562" text-anchor="middle">2005</text>
<text x="404.0" y="562" text-anchor="middle">2009</text>
<text x="530.7" y="562" text-anchor="middle">2013</text>
<text x="657.0" y="562" text-anchor="middle">2017</text>
<text x="783.0" y="562" text-anchor="middle">2021</text>
<text x="908.7" y="562" text-anchor="middle">2025</text>
<text x="69.9" y="470.8" text-anchor="end">1000</text>
<text x="69.9" y="383.8" text-anchor="end">2000</text>
<text x="69.9" y="296.8" text-anchor="end">3000</text>
<text x="69.9" y="209.8" text-anchor="end">4000</text>
<text x="69.9" y="122.8" text-anchor="end">5000</text>
<text x="69.9" y="36.8" text-anchor="end">6000</text>
<text x="532.5" y="582" text-anchor="middle">ds</text>
<text transform="translate(24.6,278.5) rotate(-90)" text-anchor="middle">y</text>
</g>
</svg>
</body></html>
